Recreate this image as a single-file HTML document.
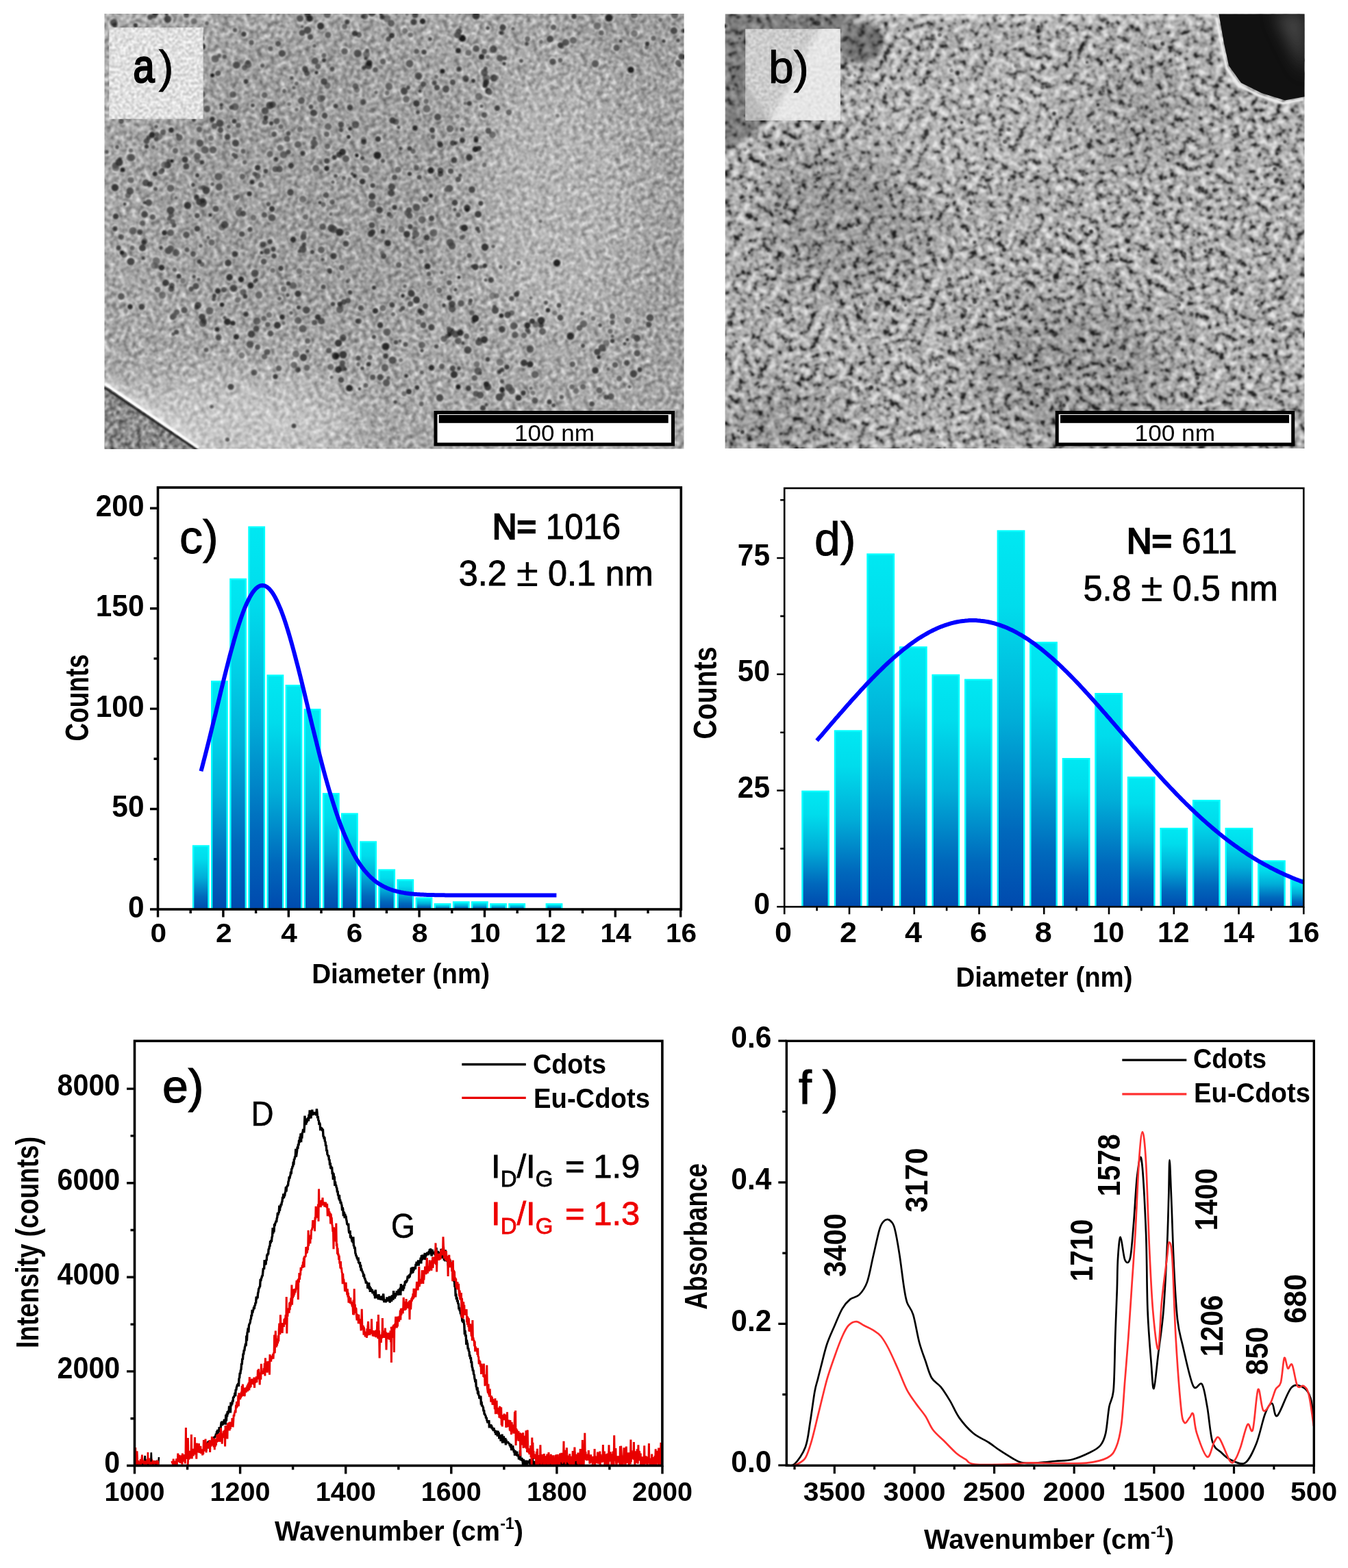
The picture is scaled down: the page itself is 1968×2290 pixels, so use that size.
<!DOCTYPE html><html><head><meta charset="utf-8"><title>Figure</title><style>html,body{margin:0;padding:0;background:#fff;width:1968px;height:2290px;overflow:hidden}svg{display:block}</style></head><body><svg width="1968" height="2290" viewBox="0 0 1968 2290"><rect width="1968" height="2290" fill="#fff"/><defs>
<linearGradient id="bg" x1="0" y1="0" x2="0" y2="1"><stop offset="0" stop-color="#00e8f2"/><stop offset="0.2" stop-color="#00dcec"/><stop offset="0.5" stop-color="#00aed8"/><stop offset="0.8" stop-color="#0068bc"/><stop offset="1" stop-color="#004aae"/></linearGradient>
<filter id="na" x="0" y="0" width="1" height="1" color-interpolation-filters="sRGB"><feTurbulence type="fractalNoise" baseFrequency="0.15" numOctaves="3" seed="4"/><feColorMatrix type="matrix" values="0.75 0 0 0 0.280  0.75 0 0 0 0.280  0.75 0 0 0 0.280  0 0 0 0 1"/><feGaussianBlur stdDeviation="1.0"/></filter>
<filter id="na2" x="0" y="0" width="1" height="1" color-interpolation-filters="sRGB"><feTurbulence type="fractalNoise" baseFrequency="0.15" numOctaves="3" seed="9"/><feColorMatrix type="matrix" values="0.9 0 0 0 0.090  0.9 0 0 0 0.090  0.9 0 0 0 0.090  0 0 0 0 1"/><feGaussianBlur stdDeviation="1.0"/></filter>
<filter id="nb" x="0" y="0" width="1" height="1" color-interpolation-filters="sRGB"><feTurbulence type="fractalNoise" baseFrequency="0.105" numOctaves="2" seed="11"/><feColorMatrix type="matrix" values="1.85 0 0 0 -0.425  1.85 0 0 0 -0.425  1.85 0 0 0 -0.425  0 0 0 0 1"/><feComponentTransfer><feFuncR type="table" tableValues="0.12 0.38 0.58 0.68 0.75 0.82 0.9"/><feFuncG type="table" tableValues="0.12 0.38 0.58 0.68 0.75 0.82 0.9"/><feFuncB type="table" tableValues="0.12 0.38 0.58 0.68 0.75 0.82 0.9"/></feComponentTransfer><feGaussianBlur stdDeviation="0.8"/></filter>
<filter id="nbl" x="0" y="0" width="1" height="1" color-interpolation-filters="sRGB"><feTurbulence type="fractalNoise" baseFrequency="0.25" numOctaves="2" seed="5"/><feColorMatrix type="matrix" values="0.6 0 0 0 0.580  0.6 0 0 0 0.580  0.6 0 0 0 0.580  0 0 0 0 1"/><feGaussianBlur stdDeviation="0.8"/></filter>
<filter id="blur1" x="-20%" y="-20%" width="140%" height="140%"><feGaussianBlur stdDeviation="1.1"/></filter>
<filter id="blur30" x="-50%" y="-50%" width="200%" height="200%"><feGaussianBlur stdDeviation="30"/></filter>
<filter id="blur12" x="-50%" y="-50%" width="200%" height="200%"><feGaussianBlur stdDeviation="12"/></filter>
<filter id="blur3" x="-50%" y="-50%" width="200%" height="200%"><feGaussianBlur stdDeviation="3"/></filter>
<clipPath id="cpa"><rect x="152.5" y="20" width="846" height="635.5"/></clipPath>
<clipPath id="cpb"><rect x="1058.7" y="20.5" width="845.8" height="634.5"/></clipPath>
<clipPath id="cpc"><rect x="230" y="700" width="764" height="628"/></clipPath>
<clipPath id="cpd"><rect x="1145" y="700" width="758.3" height="625"/></clipPath>
<clipPath id="cpe"><rect x="196" y="1519" width="771" height="621.5"/></clipPath>
<clipPath id="cpf"><rect x="1148" y="1519" width="770.5" height="621.5"/></clipPath>
</defs>
<g clip-path="url(#cpa)">
<rect x="-75" y="-312" width="1300" height="1300" filter="url(#na)" transform="rotate(-23 575 338)"/>
<g filter="url(#blur30)">
<ellipse cx="805" cy="300" rx="110" ry="190" fill="#fff" opacity="0.14"/>
<ellipse cx="985" cy="350" rx="40" ry="250" fill="#000" opacity="0.05"/>
<ellipse cx="330" cy="620" rx="190" ry="70" fill="#fff" opacity="0.35"/>
<ellipse cx="470" cy="260" rx="260" ry="220" fill="#000" opacity="0.05"/>
<ellipse cx="950" cy="40" rx="120" ry="60" fill="#000" opacity="0.06"/>
</g>
<g filter="url(#blur1)" fill="#fff" opacity="0.22"><circle cx="274" cy="300" r="7.8"/><circle cx="730" cy="529" r="7.8"/><circle cx="695" cy="71" r="7.4"/><circle cx="480" cy="512" r="6.7"/><circle cx="743" cy="566" r="8.1"/><circle cx="926" cy="22" r="7.4"/><circle cx="719" cy="197" r="7.4"/><circle cx="332" cy="200" r="7.1"/><circle cx="473" cy="81" r="5.9"/><circle cx="425" cy="457" r="5.2"/><circle cx="521" cy="131" r="6.9"/><circle cx="429" cy="622" r="6.1"/><circle cx="524" cy="51" r="6.7"/><circle cx="457" cy="215" r="5.6"/><circle cx="171" cy="215" r="5.4"/><circle cx="320" cy="81" r="5.3"/><circle cx="242" cy="72" r="4.9"/><circle cx="254" cy="329" r="5.8"/><circle cx="297" cy="274" r="5.9"/><circle cx="597" cy="572" r="6.5"/><circle cx="296" cy="298" r="7.6"/><circle cx="383" cy="96" r="5.5"/><circle cx="194" cy="50" r="5.9"/><circle cx="412" cy="78" r="7.6"/><circle cx="242" cy="413" r="7.6"/><circle cx="168" cy="334" r="6.2"/><circle cx="270" cy="233" r="7.1"/><circle cx="459" cy="202" r="5.3"/><circle cx="837" cy="59" r="7.4"/><circle cx="519" cy="126" r="6.9"/><circle cx="672" cy="256" r="5.0"/><circle cx="323" cy="158" r="5.2"/><circle cx="703" cy="155" r="5.1"/><circle cx="273" cy="365" r="5.9"/><circle cx="722" cy="448" r="5.3"/><circle cx="585" cy="526" r="5.4"/><circle cx="374" cy="480" r="7.0"/><circle cx="388" cy="250" r="5.9"/><circle cx="556" cy="21" r="4.9"/><circle cx="421" cy="195" r="6.0"/><circle cx="511" cy="188" r="5.3"/><circle cx="733" cy="481" r="7.4"/><circle cx="297" cy="296" r="7.6"/><circle cx="355" cy="221" r="5.9"/><circle cx="564" cy="559" r="7.7"/><circle cx="769" cy="64" r="5.5"/><circle cx="611" cy="111" r="7.8"/><circle cx="320" cy="273" r="7.9"/><circle cx="310" cy="269" r="5.2"/><circle cx="573" cy="446" r="5.6"/><circle cx="507" cy="411" r="5.0"/><circle cx="588" cy="432" r="5.4"/><circle cx="670" cy="46" r="6.9"/><circle cx="800" cy="453" r="5.8"/><circle cx="790" cy="61" r="5.4"/><circle cx="725" cy="432" r="6.2"/><circle cx="319" cy="493" r="6.9"/><circle cx="707" cy="496" r="7.7"/><circle cx="443" cy="346" r="7.0"/><circle cx="252" cy="324" r="6.5"/><circle cx="511" cy="427" r="5.7"/><circle cx="343" cy="371" r="7.0"/><circle cx="334" cy="185" r="5.2"/><circle cx="705" cy="596" r="6.5"/><circle cx="720" cy="360" r="5.3"/><circle cx="781" cy="585" r="7.0"/><circle cx="703" cy="83" r="6.6"/><circle cx="916" cy="496" r="5.0"/><circle cx="367" cy="488" r="7.9"/><circle cx="505" cy="356" r="7.0"/><circle cx="353" cy="519" r="7.0"/><circle cx="481" cy="395" r="6.1"/><circle cx="381" cy="270" r="6.4"/><circle cx="420" cy="431" r="5.2"/><circle cx="435" cy="540" r="6.9"/><circle cx="485" cy="101" r="5.9"/><circle cx="492" cy="520" r="5.9"/><circle cx="797" cy="442" r="5.4"/><circle cx="530" cy="24" r="5.7"/><circle cx="357" cy="99" r="6.4"/><circle cx="272" cy="243" r="7.0"/><circle cx="448" cy="537" r="7.0"/><circle cx="228" cy="185" r="5.3"/><circle cx="543" cy="287" r="7.6"/><circle cx="374" cy="409" r="5.0"/><circle cx="398" cy="395" r="6.1"/><circle cx="208" cy="107" r="5.8"/><circle cx="524" cy="469" r="6.7"/><circle cx="460" cy="210" r="6.8"/><circle cx="622" cy="148" r="6.2"/><circle cx="621" cy="291" r="7.0"/><circle cx="611" cy="470" r="6.5"/><circle cx="436" cy="449" r="5.6"/><circle cx="198" cy="81" r="6.1"/><circle cx="433" cy="160" r="5.1"/><circle cx="784" cy="459" r="5.2"/><circle cx="656" cy="489" r="5.6"/><circle cx="288" cy="228" r="7.5"/><circle cx="604" cy="32" r="7.0"/><circle cx="925" cy="546" r="7.9"/><circle cx="882" cy="511" r="5.1"/><circle cx="689" cy="277" r="7.3"/><circle cx="224" cy="215" r="5.4"/><circle cx="504" cy="539" r="5.2"/><circle cx="664" cy="306" r="5.0"/><circle cx="656" cy="275" r="7.8"/><circle cx="660" cy="444" r="7.4"/><circle cx="582" cy="186" r="4.9"/><circle cx="637" cy="506" r="5.6"/><circle cx="565" cy="27" r="8.0"/><circle cx="555" cy="551" r="7.2"/><circle cx="571" cy="282" r="7.6"/><circle cx="618" cy="475" r="7.1"/><circle cx="558" cy="25" r="6.0"/><circle cx="665" cy="423" r="5.1"/><circle cx="175" cy="232" r="5.3"/><circle cx="344" cy="289" r="6.4"/><circle cx="210" cy="146" r="5.5"/><circle cx="693" cy="552" r="6.8"/><circle cx="608" cy="303" r="8.1"/><circle cx="816" cy="446" r="5.9"/><circle cx="505" cy="232" r="7.5"/><circle cx="362" cy="91" r="5.9"/><circle cx="435" cy="468" r="7.6"/><circle cx="604" cy="347" r="5.1"/><circle cx="917" cy="468" r="7.6"/><circle cx="194" cy="337" r="8.1"/><circle cx="226" cy="82" r="7.6"/><circle cx="204" cy="339" r="6.5"/><circle cx="344" cy="229" r="5.7"/><circle cx="658" cy="484" r="8.1"/><circle cx="732" cy="461" r="5.8"/><circle cx="302" cy="34" r="5.4"/><circle cx="661" cy="120" r="6.7"/><circle cx="764" cy="574" r="6.2"/><circle cx="387" cy="162" r="7.9"/><circle cx="560" cy="374" r="6.7"/><circle cx="713" cy="191" r="7.1"/><circle cx="530" cy="149" r="6.9"/><circle cx="168" cy="37" r="6.0"/><circle cx="664" cy="296" r="6.9"/><circle cx="498" cy="555" r="6.8"/><circle cx="598" cy="93" r="8.0"/><circle cx="429" cy="533" r="7.3"/><circle cx="246" cy="235" r="5.4"/><circle cx="288" cy="315" r="6.3"/><circle cx="599" cy="331" r="6.2"/><circle cx="851" cy="505" r="5.6"/><circle cx="534" cy="85" r="5.2"/><circle cx="695" cy="205" r="5.8"/><circle cx="299" cy="219" r="8.0"/><circle cx="730" cy="85" r="7.3"/><circle cx="872" cy="514" r="7.3"/><circle cx="820" cy="68" r="6.0"/><circle cx="438" cy="27" r="7.5"/><circle cx="558" cy="370" r="5.9"/><circle cx="428" cy="417" r="7.6"/><circle cx="507" cy="341" r="5.7"/><circle cx="656" cy="413" r="6.2"/><circle cx="249" cy="307" r="8.1"/><circle cx="702" cy="297" r="5.9"/><circle cx="757" cy="384" r="5.5"/><circle cx="889" cy="26" r="8.1"/><circle cx="872" cy="38" r="7.9"/><circle cx="607" cy="342" r="7.8"/><circle cx="594" cy="21" r="5.2"/><circle cx="467" cy="296" r="4.9"/><circle cx="658" cy="250" r="6.6"/><circle cx="717" cy="409" r="6.6"/><circle cx="720" cy="72" r="8.0"/><circle cx="217" cy="296" r="7.5"/><circle cx="675" cy="205" r="6.5"/><circle cx="484" cy="333" r="8.0"/><circle cx="690" cy="389" r="5.2"/><circle cx="228" cy="203" r="5.8"/><circle cx="298" cy="469" r="6.5"/><circle cx="651" cy="130" r="7.7"/><circle cx="371" cy="544" r="7.1"/><circle cx="496" cy="339" r="8.1"/><circle cx="375" cy="469" r="7.8"/><circle cx="321" cy="180" r="8.0"/><circle cx="573" cy="176" r="7.2"/><circle cx="499" cy="537" r="8.0"/><circle cx="598" cy="254" r="5.6"/><circle cx="338" cy="157" r="5.8"/><circle cx="608" cy="438" r="7.7"/><circle cx="551" cy="227" r="8.0"/><circle cx="894" cy="498" r="5.7"/><circle cx="310" cy="174" r="6.3"/><circle cx="237" cy="249" r="5.7"/><circle cx="286" cy="418" r="7.2"/><circle cx="287" cy="287" r="5.6"/><circle cx="358" cy="433" r="5.8"/><circle cx="267" cy="103" r="6.9"/><circle cx="238" cy="193" r="6.7"/><circle cx="518" cy="257" r="5.4"/><circle cx="616" cy="544" r="5.5"/><circle cx="629" cy="286" r="5.5"/><circle cx="572" cy="273" r="7.9"/><circle cx="699" cy="495" r="5.3"/><circle cx="328" cy="464" r="5.2"/><circle cx="546" cy="492" r="5.6"/><circle cx="309" cy="177" r="5.3"/><circle cx="208" cy="86" r="6.8"/><circle cx="747" cy="457" r="6.5"/><circle cx="168" cy="242" r="7.2"/><circle cx="598" cy="217" r="5.8"/><circle cx="238" cy="113" r="6.6"/><circle cx="487" cy="374" r="7.3"/><circle cx="324" cy="332" r="7.6"/><circle cx="237" cy="431" r="7.7"/><circle cx="304" cy="347" r="4.9"/><circle cx="370" cy="318" r="6.7"/><circle cx="386" cy="139" r="6.8"/><circle cx="775" cy="567" r="5.1"/><circle cx="441" cy="48" r="7.0"/><circle cx="519" cy="182" r="8.0"/><circle cx="169" cy="245" r="7.8"/><circle cx="208" cy="326" r="6.5"/><circle cx="703" cy="481" r="5.5"/><circle cx="930" cy="494" r="7.5"/><circle cx="279" cy="63" r="7.7"/><circle cx="311" cy="219" r="7.7"/><circle cx="699" cy="500" r="7.5"/><circle cx="710" cy="120" r="7.2"/><circle cx="402" cy="550" r="6.2"/><circle cx="494" cy="540" r="7.4"/><circle cx="818" cy="66" r="6.7"/><circle cx="315" cy="305" r="7.1"/><circle cx="414" cy="472" r="5.1"/><circle cx="698" cy="217" r="6.6"/><circle cx="578" cy="178" r="7.0"/><circle cx="479" cy="185" r="7.4"/><circle cx="926" cy="49" r="7.4"/><circle cx="934" cy="540" r="5.9"/><circle cx="198" cy="37" r="5.7"/><circle cx="378" cy="431" r="7.7"/><circle cx="288" cy="234" r="6.7"/><circle cx="590" cy="575" r="6.2"/><circle cx="609" cy="566" r="5.8"/><circle cx="712" cy="83" r="5.6"/><circle cx="486" cy="266" r="5.0"/><circle cx="376" cy="257" r="6.9"/><circle cx="608" cy="245" r="6.4"/><circle cx="432" cy="517" r="7.6"/><circle cx="921" cy="102" r="7.3"/><circle cx="243" cy="21" r="5.0"/><circle cx="319" cy="258" r="8.1"/><circle cx="615" cy="127" r="6.3"/><circle cx="747" cy="436" r="6.3"/><circle cx="408" cy="436" r="5.3"/><circle cx="677" cy="345" r="5.5"/><circle cx="410" cy="185" r="6.1"/><circle cx="295" cy="138" r="7.5"/><circle cx="246" cy="366" r="7.8"/><circle cx="187" cy="285" r="6.9"/><circle cx="345" cy="492" r="6.6"/><circle cx="713" cy="133" r="7.2"/><circle cx="660" cy="359" r="7.8"/><circle cx="425" cy="242" r="6.9"/><circle cx="414" cy="422" r="6.5"/><circle cx="456" cy="368" r="5.6"/><circle cx="282" cy="371" r="6.7"/><circle cx="486" cy="444" r="5.6"/><circle cx="669" cy="74" r="6.6"/><circle cx="464" cy="463" r="6.5"/><circle cx="246" cy="79" r="5.1"/><circle cx="351" cy="305" r="5.3"/><circle cx="502" cy="441" r="6.8"/><circle cx="534" cy="247" r="8.0"/><circle cx="354" cy="258" r="6.5"/><circle cx="538" cy="532" r="5.8"/><circle cx="290" cy="408" r="5.1"/><circle cx="477" cy="235" r="6.6"/><circle cx="355" cy="312" r="6.7"/><circle cx="715" cy="135" r="6.3"/><circle cx="998" cy="45" r="5.7"/><circle cx="376" cy="245" r="6.5"/><circle cx="696" cy="532" r="7.0"/><circle cx="449" cy="513" r="5.2"/><circle cx="567" cy="57" r="6.2"/><circle cx="219" cy="269" r="6.4"/><circle cx="184" cy="170" r="7.3"/><circle cx="182" cy="298" r="5.0"/><circle cx="852" cy="473" r="7.8"/><circle cx="405" cy="475" r="7.6"/><circle cx="698" cy="542" r="8.0"/><circle cx="458" cy="208" r="7.2"/><circle cx="324" cy="445" r="5.8"/><circle cx="702" cy="390" r="5.2"/><circle cx="242" cy="100" r="5.0"/><circle cx="592" cy="503" r="6.0"/><circle cx="684" cy="77" r="7.1"/><circle cx="347" cy="287" r="5.7"/><circle cx="661" cy="538" r="6.7"/><circle cx="876" cy="475" r="5.3"/><circle cx="461" cy="246" r="7.5"/><circle cx="875" cy="521" r="5.1"/><circle cx="581" cy="248" r="7.1"/><circle cx="810" cy="457" r="6.0"/><circle cx="469" cy="365" r="7.4"/><circle cx="500" cy="222" r="7.5"/><circle cx="559" cy="450" r="7.1"/><circle cx="387" cy="178" r="6.8"/><circle cx="648" cy="495" r="7.0"/><circle cx="572" cy="52" r="6.6"/><circle cx="192" cy="230" r="7.7"/><circle cx="207" cy="448" r="7.0"/><circle cx="391" cy="474" r="6.3"/><circle cx="826" cy="62" r="7.6"/><circle cx="177" cy="346" r="6.6"/><circle cx="372" cy="254" r="5.8"/><circle cx="211" cy="313" r="7.5"/><circle cx="638" cy="128" r="6.5"/><circle cx="898" cy="533" r="6.7"/><circle cx="247" cy="58" r="5.3"/><circle cx="473" cy="88" r="5.6"/><circle cx="585" cy="453" r="5.2"/><circle cx="765" cy="530" r="7.6"/><circle cx="386" cy="521" r="6.5"/><circle cx="627" cy="414" r="6.2"/><circle cx="250" cy="190" r="6.4"/><circle cx="869" cy="541" r="7.3"/><circle cx="459" cy="471" r="6.6"/><circle cx="919" cy="565" r="5.0"/><circle cx="501" cy="493" r="7.4"/><circle cx="288" cy="334" r="6.8"/><circle cx="291" cy="189" r="6.7"/><circle cx="468" cy="38" r="7.7"/><circle cx="252" cy="463" r="6.7"/><circle cx="543" cy="329" r="7.0"/><circle cx="631" cy="190" r="6.4"/><circle cx="643" cy="254" r="6.6"/><circle cx="310" cy="110" r="5.6"/><circle cx="232" cy="143" r="6.4"/><circle cx="317" cy="481" r="6.1"/><circle cx="191" cy="382" r="8.1"/><circle cx="345" cy="95" r="7.8"/><circle cx="699" cy="338" r="5.3"/><circle cx="382" cy="369" r="5.0"/><circle cx="562" cy="537" r="7.9"/><circle cx="568" cy="313" r="5.9"/><circle cx="599" cy="444" r="6.5"/><circle cx="645" cy="535" r="6.4"/><circle cx="697" cy="334" r="5.8"/><circle cx="670" cy="405" r="5.0"/><circle cx="318" cy="425" r="6.8"/><circle cx="496" cy="452" r="7.9"/><circle cx="446" cy="102" r="6.9"/><circle cx="626" cy="400" r="5.7"/><circle cx="616" cy="457" r="6.5"/><circle cx="484" cy="551" r="5.0"/><circle cx="531" cy="204" r="6.9"/><circle cx="563" cy="520" r="6.4"/><circle cx="478" cy="125" r="7.3"/><circle cx="930" cy="516" r="7.2"/><circle cx="421" cy="222" r="6.0"/><circle cx="710" cy="561" r="6.5"/><circle cx="245" cy="241" r="7.4"/><circle cx="879" cy="508" r="7.9"/><circle cx="741" cy="460" r="7.3"/><circle cx="176" cy="103" r="7.6"/><circle cx="291" cy="295" r="7.4"/><circle cx="293" cy="359" r="5.2"/><circle cx="458" cy="165" r="7.6"/><circle cx="612" cy="259" r="5.8"/><circle cx="453" cy="54" r="6.6"/><circle cx="674" cy="332" r="6.1"/><circle cx="393" cy="460" r="6.7"/><circle cx="181" cy="144" r="6.1"/><circle cx="642" cy="210" r="6.6"/><circle cx="947" cy="474" r="6.5"/><circle cx="669" cy="498" r="7.4"/><circle cx="442" cy="224" r="6.2"/><circle cx="474" cy="169" r="6.9"/><circle cx="770" cy="482" r="6.1"/><circle cx="665" cy="209" r="5.3"/><circle cx="272" cy="22" r="6.4"/><circle cx="217" cy="201" r="6.0"/><circle cx="295" cy="463" r="7.4"/><circle cx="565" cy="136" r="5.9"/><circle cx="355" cy="427" r="7.3"/><circle cx="586" cy="335" r="7.2"/><circle cx="446" cy="317" r="6.4"/><circle cx="437" cy="396" r="6.7"/><circle cx="449" cy="498" r="6.4"/><circle cx="344" cy="209" r="7.8"/><circle cx="521" cy="227" r="5.2"/><circle cx="669" cy="314" r="6.1"/><circle cx="624" cy="389" r="7.1"/><circle cx="394" cy="353" r="6.2"/><circle cx="600" cy="428" r="7.5"/><circle cx="444" cy="357" r="5.8"/><circle cx="874" cy="522" r="5.3"/><circle cx="241" cy="413" r="5.3"/><circle cx="663" cy="234" r="7.0"/><circle cx="723" cy="453" r="7.7"/><circle cx="229" cy="389" r="5.9"/><circle cx="646" cy="104" r="6.0"/><circle cx="616" cy="504" r="7.5"/><circle cx="669" cy="262" r="6.5"/><circle cx="291" cy="382" r="6.0"/><circle cx="708" cy="388" r="5.7"/><circle cx="415" cy="133" r="5.4"/><circle cx="665" cy="488" r="7.8"/><circle cx="683" cy="511" r="8.0"/><circle cx="428" cy="350" r="6.9"/><circle cx="568" cy="126" r="7.7"/><circle cx="176" cy="105" r="6.7"/><circle cx="490" cy="520" r="7.9"/><circle cx="682" cy="307" r="5.4"/><circle cx="630" cy="478" r="7.2"/><circle cx="731" cy="48" r="5.3"/><circle cx="460" cy="89" r="7.6"/><circle cx="601" cy="429" r="7.3"/><circle cx="694" cy="218" r="6.8"/><circle cx="525" cy="568" r="4.9"/><circle cx="449" cy="44" r="7.9"/><circle cx="574" cy="459" r="5.5"/><circle cx="400" cy="374" r="6.3"/><circle cx="559" cy="90" r="6.7"/><circle cx="634" cy="121" r="6.1"/><circle cx="429" cy="128" r="5.1"/><circle cx="422" cy="152" r="5.2"/><circle cx="518" cy="49" r="6.6"/><circle cx="166" cy="58" r="6.0"/><circle cx="573" cy="526" r="8.1"/><circle cx="944" cy="69" r="5.6"/><circle cx="235" cy="251" r="6.3"/><circle cx="283" cy="404" r="5.2"/><circle cx="616" cy="321" r="7.9"/><circle cx="209" cy="377" r="5.2"/><circle cx="695" cy="575" r="7.1"/><circle cx="695" cy="202" r="5.9"/><circle cx="660" cy="451" r="7.9"/><circle cx="367" cy="62" r="6.3"/><circle cx="559" cy="235" r="5.6"/><circle cx="495" cy="226" r="6.8"/><circle cx="712" cy="525" r="5.9"/><circle cx="628" cy="57" r="5.3"/><circle cx="541" cy="342" r="7.0"/><circle cx="473" cy="119" r="7.4"/><circle cx="261" cy="404" r="6.1"/><circle cx="390" cy="514" r="7.1"/><circle cx="608" cy="151" r="7.3"/><circle cx="250" cy="314" r="6.4"/><circle cx="287" cy="289" r="6.5"/><circle cx="214" cy="206" r="6.9"/><circle cx="599" cy="51" r="6.1"/><circle cx="253" cy="488" r="5.3"/><circle cx="684" cy="567" r="6.6"/><circle cx="514" cy="254" r="4.9"/><circle cx="808" cy="592" r="5.5"/><circle cx="190" cy="279" r="7.8"/><circle cx="734" cy="576" r="5.7"/><circle cx="256" cy="220" r="6.7"/><circle cx="342" cy="177" r="6.0"/><circle cx="869" cy="93" r="7.7"/><circle cx="964" cy="29" r="5.4"/><circle cx="409" cy="216" r="7.1"/><circle cx="309" cy="594" r="5.3"/><circle cx="424" cy="281" r="7.3"/><circle cx="582" cy="387" r="6.7"/><circle cx="228" cy="381" r="8.0"/><circle cx="590" cy="133" r="7.7"/><circle cx="685" cy="230" r="7.4"/><circle cx="912" cy="502" r="5.0"/><circle cx="414" cy="226" r="7.9"/><circle cx="749" cy="42" r="5.1"/><circle cx="312" cy="437" r="5.4"/><circle cx="851" cy="565" r="6.6"/><circle cx="565" cy="485" r="8.1"/><circle cx="307" cy="314" r="5.2"/><circle cx="710" cy="114" r="8.0"/><circle cx="729" cy="580" r="8.0"/><circle cx="990" cy="59" r="5.3"/><circle cx="490" cy="257" r="5.3"/><circle cx="571" cy="34" r="7.6"/><circle cx="249" cy="275" r="7.7"/><circle cx="709" cy="100" r="5.3"/><circle cx="255" cy="394" r="5.6"/><circle cx="656" cy="435" r="6.3"/><circle cx="289" cy="446" r="7.4"/><circle cx="536" cy="74" r="5.5"/><circle cx="523" cy="523" r="6.2"/><circle cx="554" cy="307" r="7.4"/><circle cx="328" cy="328" r="8.0"/><circle cx="630" cy="319" r="6.8"/><circle cx="691" cy="641" r="6.7"/><circle cx="261" cy="403" r="5.7"/><circle cx="969" cy="60" r="5.1"/><circle cx="435" cy="429" r="7.2"/><circle cx="707" cy="106" r="7.7"/><circle cx="606" cy="335" r="6.4"/><circle cx="177" cy="433" r="7.4"/><circle cx="223" cy="317" r="6.5"/><circle cx="292" cy="274" r="5.6"/><circle cx="282" cy="270" r="5.4"/><circle cx="341" cy="421" r="7.8"/><circle cx="173" cy="115" r="7.8"/><circle cx="323" cy="153" r="5.0"/><circle cx="327" cy="423" r="6.5"/><circle cx="236" cy="391" r="6.9"/><circle cx="774" cy="532" r="7.1"/><circle cx="992" cy="95" r="5.4"/><circle cx="364" cy="283" r="6.1"/><circle cx="878" cy="48" r="6.3"/><circle cx="247" cy="319" r="5.8"/><circle cx="340" cy="472" r="6.1"/><circle cx="818" cy="464" r="6.9"/><circle cx="672" cy="40" r="5.0"/><circle cx="440" cy="147" r="7.5"/><circle cx="619" cy="76" r="6.3"/><circle cx="332" cy="470" r="5.8"/><circle cx="302" cy="159" r="7.5"/><circle cx="296" cy="293" r="6.3"/><circle cx="412" cy="463" r="6.2"/><circle cx="733" cy="540" r="5.6"/><circle cx="226" cy="86" r="5.8"/><circle cx="219" cy="25" r="6.4"/><circle cx="332" cy="642" r="5.6"/><circle cx="287" cy="449" r="6.0"/><circle cx="535" cy="79" r="7.8"/><circle cx="352" cy="408" r="6.7"/><circle cx="653" cy="491" r="5.9"/><circle cx="838" cy="24" r="6.3"/><circle cx="208" cy="362" r="7.6"/><circle cx="341" cy="226" r="5.4"/><circle cx="500" cy="530" r="6.5"/><circle cx="591" cy="418" r="5.2"/><circle cx="211" cy="296" r="5.0"/><circle cx="251" cy="235" r="5.1"/><circle cx="408" cy="247" r="7.3"/><circle cx="700" cy="216" r="5.6"/><circle cx="591" cy="45" r="6.8"/><circle cx="178" cy="138" r="6.2"/><circle cx="572" cy="445" r="6.4"/><circle cx="214" cy="128" r="6.7"/><circle cx="661" cy="209" r="6.6"/><circle cx="894" cy="491" r="5.0"/><circle cx="608" cy="75" r="6.2"/><circle cx="835" cy="565" r="6.3"/><circle cx="471" cy="331" r="7.3"/><circle cx="900" cy="70" r="7.2"/><circle cx="193" cy="160" r="6.0"/><circle cx="366" cy="417" r="7.2"/><circle cx="707" cy="389" r="5.2"/><circle cx="362" cy="94" r="7.9"/><circle cx="679" cy="151" r="5.0"/><circle cx="774" cy="510" r="8.0"/><circle cx="623" cy="347" r="7.0"/><circle cx="222" cy="197" r="7.0"/><circle cx="642" cy="581" r="7.8"/><circle cx="781" cy="547" r="7.9"/><circle cx="721" cy="114" r="7.8"/><circle cx="365" cy="503" r="8.0"/><circle cx="301" cy="511" r="5.9"/><circle cx="615" cy="590" r="5.9"/><circle cx="695" cy="23" r="8.1"/><circle cx="675" cy="56" r="7.6"/><circle cx="694" cy="390" r="7.2"/><circle cx="509" cy="200" r="5.5"/><circle cx="594" cy="342" r="7.3"/><circle cx="353" cy="342" r="6.6"/><circle cx="698" cy="313" r="7.5"/><circle cx="543" cy="19" r="7.9"/><circle cx="645" cy="398" r="5.1"/><circle cx="623" cy="159" r="8.0"/><circle cx="503" cy="39" r="6.5"/><circle cx="442" cy="291" r="7.6"/><circle cx="736" cy="93" r="5.0"/><circle cx="369" cy="154" r="5.3"/><circle cx="685" cy="151" r="6.1"/><circle cx="322" cy="190" r="6.7"/><circle cx="617" cy="31" r="6.8"/><circle cx="168" cy="274" r="7.9"/><circle cx="487" cy="335" r="8.1"/><circle cx="841" cy="571" r="6.8"/><circle cx="540" cy="522" r="6.0"/><circle cx="678" cy="333" r="7.5"/><circle cx="388" cy="172" r="5.9"/><circle cx="990" cy="92" r="6.9"/><circle cx="177" cy="177" r="6.7"/><circle cx="403" cy="233" r="6.2"/><circle cx="548" cy="102" r="6.3"/><circle cx="915" cy="530" r="6.9"/><circle cx="478" cy="21" r="7.8"/><circle cx="652" cy="277" r="6.1"/><circle cx="313" cy="432" r="5.4"/><circle cx="214" cy="214" r="5.8"/><circle cx="438" cy="189" r="6.4"/><circle cx="549" cy="135" r="5.0"/><circle cx="740" cy="536" r="6.2"/><circle cx="694" cy="465" r="7.9"/><circle cx="399" cy="364" r="5.9"/><circle cx="494" cy="501" r="7.7"/><circle cx="885" cy="501" r="7.3"/><circle cx="709" cy="409" r="5.1"/><circle cx="394" cy="154" r="8.0"/><circle cx="259" cy="197" r="5.0"/><circle cx="191" cy="263" r="7.1"/><circle cx="576" cy="259" r="6.5"/><circle cx="343" cy="156" r="8.0"/><circle cx="630" cy="537" r="6.8"/><circle cx="995" cy="83" r="7.1"/><circle cx="733" cy="557" r="5.6"/><circle cx="657" cy="354" r="8.0"/><circle cx="888" cy="539" r="5.2"/><circle cx="701" cy="577" r="7.7"/><circle cx="913" cy="630" r="8.0"/><circle cx="498" cy="190" r="5.4"/><circle cx="472" cy="299" r="6.1"/><circle cx="501" cy="518" r="8.1"/><circle cx="213" cy="267" r="7.8"/><circle cx="707" cy="75" r="6.4"/><circle cx="555" cy="475" r="6.9"/><circle cx="522" cy="469" r="6.0"/><circle cx="998" cy="83" r="5.8"/><circle cx="701" cy="545" r="5.0"/><circle cx="227" cy="276" r="5.5"/><circle cx="753" cy="476" r="5.6"/><circle cx="156" cy="222" r="5.5"/><circle cx="507" cy="32" r="6.0"/><circle cx="593" cy="549" r="5.5"/><circle cx="376" cy="507" r="6.4"/><circle cx="629" cy="249" r="7.2"/><circle cx="747" cy="571" r="7.6"/><circle cx="190" cy="448" r="6.2"/><circle cx="567" cy="552" r="5.3"/><circle cx="257" cy="369" r="7.7"/><circle cx="318" cy="107" r="6.5"/><circle cx="542" cy="341" r="7.3"/><circle cx="710" cy="591" r="5.2"/><circle cx="490" cy="155" r="5.8"/><circle cx="756" cy="427" r="5.7"/><circle cx="894" cy="462" r="6.6"/><circle cx="306" cy="454" r="8.1"/><circle cx="782" cy="474" r="7.0"/><circle cx="384" cy="357" r="7.1"/><circle cx="181" cy="372" r="6.9"/><circle cx="606" cy="187" r="6.4"/><circle cx="232" cy="200" r="7.6"/><circle cx="663" cy="547" r="7.8"/><circle cx="670" cy="101" r="6.2"/><circle cx="595" cy="311" r="7.3"/><circle cx="689" cy="457" r="6.2"/><circle cx="778" cy="574" r="5.8"/><circle cx="807" cy="90" r="7.2"/><circle cx="258" cy="456" r="6.8"/><circle cx="539" cy="92" r="7.1"/><circle cx="225" cy="388" r="7.3"/><circle cx="397" cy="318" r="7.7"/><circle cx="227" cy="20" r="6.7"/><circle cx="686" cy="443" r="5.7"/><circle cx="803" cy="57" r="7.5"/><circle cx="348" cy="183" r="6.3"/><circle cx="585" cy="217" r="5.2"/><circle cx="402" cy="247" r="7.0"/><circle cx="410" cy="392" r="6.2"/><circle cx="288" cy="256" r="5.4"/><circle cx="255" cy="79" r="5.4"/><circle cx="527" cy="450" r="6.5"/><circle cx="770" cy="57" r="6.4"/><circle cx="469" cy="469" r="7.6"/><circle cx="295" cy="386" r="6.1"/><circle cx="250" cy="422" r="6.9"/><circle cx="472" cy="419" r="6.0"/><circle cx="179" cy="248" r="6.0"/><circle cx="335" cy="405" r="7.4"/><circle cx="275" cy="47" r="6.3"/><circle cx="632" cy="200" r="5.7"/><circle cx="328" cy="83" r="5.8"/><circle cx="190" cy="230" r="8.0"/><circle cx="734" cy="40" r="7.2"/><circle cx="396" cy="180" r="5.6"/><circle cx="707" cy="241" r="5.7"/><circle cx="349" cy="311" r="7.4"/><circle cx="421" cy="414" r="5.7"/><circle cx="707" cy="168" r="6.8"/><circle cx="836" cy="532" r="6.6"/><circle cx="444" cy="341" r="6.3"/><circle cx="251" cy="417" r="6.6"/><circle cx="613" cy="133" r="5.1"/><circle cx="641" cy="424" r="6.4"/><circle cx="337" cy="565" r="7.1"/><circle cx="802" cy="587" r="6.0"/><circle cx="249" cy="363" r="7.3"/><circle cx="448" cy="453" r="7.3"/><circle cx="618" cy="123" r="6.5"/><circle cx="674" cy="347" r="6.0"/><circle cx="502" cy="260" r="5.3"/><circle cx="296" cy="472" r="8.0"/><circle cx="833" cy="491" r="7.9"/><circle cx="643" cy="249" r="7.1"/><circle cx="245" cy="28" r="7.9"/><circle cx="477" cy="246" r="6.2"/><circle cx="228" cy="71" r="5.7"/><circle cx="772" cy="485" r="5.4"/><circle cx="610" cy="164" r="5.5"/><circle cx="813" cy="384" r="7.8"/><circle cx="372" cy="411" r="5.2"/><circle cx="954" cy="56" r="6.1"/><circle cx="448" cy="107" r="6.7"/><circle cx="522" cy="78" r="8.1"/><circle cx="390" cy="367" r="7.3"/><circle cx="221" cy="97" r="8.0"/><circle cx="295" cy="237" r="5.7"/><circle cx="262" cy="201" r="7.3"/><circle cx="459" cy="67" r="5.1"/><circle cx="433" cy="122" r="5.4"/><circle cx="347" cy="438" r="6.8"/><circle cx="167" cy="114" r="5.6"/><circle cx="765" cy="490" r="6.8"/><circle cx="846" cy="479" r="6.9"/><circle cx="344" cy="228" r="5.9"/><circle cx="613" cy="454" r="6.3"/><circle cx="531" cy="99" r="5.5"/><circle cx="669" cy="565" r="6.2"/><circle cx="563" cy="506" r="8.1"/><circle cx="478" cy="214" r="6.5"/><circle cx="359" cy="459" r="6.3"/><circle cx="447" cy="453" r="7.9"/><circle cx="483" cy="313" r="4.9"/><circle cx="945" cy="64" r="5.7"/><circle cx="479" cy="51" r="7.0"/><circle cx="471" cy="379" r="5.3"/><circle cx="925" cy="491" r="6.2"/><circle cx="267" cy="410" r="6.4"/><circle cx="501" cy="495" r="5.9"/><circle cx="596" cy="128" r="5.4"/><circle cx="296" cy="68" r="7.0"/><circle cx="471" cy="143" r="6.6"/><circle cx="534" cy="563" r="6.0"/><circle cx="272" cy="343" r="7.5"/><circle cx="174" cy="237" r="8.0"/><circle cx="531" cy="207" r="6.5"/><circle cx="419" cy="203" r="7.1"/><circle cx="616" cy="512" r="5.0"/><circle cx="566" cy="355" r="7.3"/><circle cx="543" cy="298" r="8.1"/><circle cx="482" cy="397" r="5.2"/><circle cx="750" cy="476" r="7.9"/><circle cx="529" cy="231" r="5.3"/><circle cx="818" cy="88" r="5.7"/><circle cx="691" cy="118" r="5.5"/><circle cx="892" cy="579" r="7.3"/><circle cx="789" cy="323" r="5.1"/><circle cx="435" cy="211" r="7.5"/><circle cx="462" cy="106" r="5.1"/><circle cx="808" cy="40" r="6.5"/><circle cx="576" cy="303" r="6.2"/><circle cx="790" cy="475" r="6.3"/><circle cx="211" cy="352" r="6.9"/><circle cx="333" cy="384" r="7.4"/><circle cx="708" cy="361" r="7.9"/><circle cx="578" cy="500" r="5.8"/><circle cx="597" cy="307" r="6.7"/><circle cx="225" cy="23" r="6.4"/><circle cx="510" cy="567" r="7.5"/><circle cx="792" cy="484" r="7.6"/><circle cx="308" cy="202" r="6.4"/><circle cx="639" cy="171" r="7.6"/><circle cx="606" cy="22" r="7.1"/><circle cx="191" cy="220" r="5.5"/><circle cx="498" cy="182" r="7.0"/><circle cx="499" cy="391" r="6.5"/><circle cx="441" cy="39" r="4.9"/><circle cx="193" cy="362" r="6.0"/><circle cx="359" cy="119" r="5.9"/><circle cx="598" cy="315" r="7.1"/><circle cx="483" cy="536" r="7.1"/><circle cx="533" cy="24" r="6.9"/><circle cx="673" cy="443" r="7.3"/><circle cx="283" cy="48" r="6.9"/><circle cx="313" cy="184" r="6.7"/><circle cx="169" cy="104" r="7.8"/><circle cx="709" cy="121" r="6.4"/><circle cx="546" cy="420" r="5.6"/><circle cx="733" cy="569" r="6.4"/><circle cx="254" cy="461" r="6.9"/><circle cx="345" cy="96" r="6.9"/><circle cx="445" cy="100" r="6.5"/><circle cx="621" cy="447" r="6.7"/><circle cx="309" cy="354" r="7.1"/><circle cx="274" cy="98" r="6.0"/><circle cx="178" cy="369" r="5.8"/><circle cx="726" cy="158" r="6.4"/><circle cx="503" cy="75" r="7.3"/><circle cx="235" cy="362" r="5.4"/><circle cx="588" cy="450" r="5.8"/><circle cx="820" cy="580" r="5.6"/><circle cx="775" cy="435" r="5.0"/><circle cx="668" cy="51" r="7.6"/><circle cx="875" cy="570" r="7.0"/><circle cx="314" cy="86" r="8.0"/><circle cx="404" cy="177" r="7.1"/><circle cx="485" cy="295" r="6.2"/><circle cx="866" cy="465" r="5.7"/><circle cx="392" cy="298" r="5.6"/><circle cx="169" cy="604" r="6.2"/><circle cx="603" cy="221" r="6.3"/><circle cx="737" cy="85" r="5.7"/><circle cx="229" cy="196" r="5.8"/><circle cx="544" cy="339" r="6.7"/><circle cx="332" cy="470" r="7.6"/><circle cx="450" cy="397" r="5.5"/><circle cx="777" cy="469" r="6.5"/><circle cx="372" cy="399" r="8.0"/><circle cx="468" cy="144" r="7.9"/><circle cx="577" cy="587" r="5.1"/><circle cx="523" cy="532" r="5.4"/><circle cx="691" cy="470" r="5.3"/><circle cx="426" cy="114" r="5.2"/><circle cx="476" cy="285" r="6.8"/><circle cx="655" cy="480" r="5.8"/><circle cx="675" cy="189" r="5.8"/><circle cx="269" cy="453" r="7.0"/><circle cx="368" cy="266" r="6.0"/><circle cx="259" cy="94" r="5.2"/><circle cx="719" cy="432" r="7.6"/><circle cx="283" cy="31" r="7.1"/><circle cx="442" cy="480" r="8.1"/><circle cx="257" cy="485" r="6.0"/><circle cx="593" cy="145" r="7.3"/><circle cx="356" cy="50" r="6.2"/><circle cx="498" cy="448" r="5.0"/><circle cx="386" cy="314" r="6.6"/><circle cx="752" cy="489" r="7.3"/><circle cx="166" cy="33" r="7.9"/><circle cx="261" cy="166" r="6.4"/><circle cx="477" cy="196" r="6.5"/><circle cx="240" cy="340" r="6.3"/><circle cx="906" cy="60" r="5.0"/><circle cx="548" cy="454" r="6.6"/><circle cx="214" cy="110" r="7.5"/><circle cx="340" cy="138" r="7.3"/><circle cx="257" cy="289" r="5.0"/><circle cx="357" cy="237" r="5.6"/><circle cx="949" cy="464" r="7.8"/><circle cx="509" cy="409" r="5.3"/><circle cx="699" cy="141" r="7.8"/><circle cx="279" cy="422" r="6.2"/><circle cx="395" cy="71" r="5.9"/><circle cx="657" cy="188" r="7.7"/><circle cx="731" cy="390" r="5.2"/><circle cx="529" cy="265" r="6.8"/><circle cx="452" cy="27" r="7.4"/><circle cx="725" cy="113" r="6.0"/><circle cx="407" cy="538" r="6.7"/><circle cx="648" cy="446" r="5.4"/><circle cx="454" cy="156" r="6.0"/><circle cx="672" cy="486" r="7.2"/><circle cx="179" cy="52" r="5.8"/><circle cx="508" cy="439" r="6.6"/><circle cx="249" cy="340" r="7.5"/><circle cx="385" cy="465" r="6.3"/><circle cx="301" cy="278" r="8.0"/><circle cx="633" cy="340" r="8.0"/><circle cx="221" cy="111" r="7.8"/><circle cx="442" cy="364" r="8.1"/><circle cx="397" cy="305" r="6.7"/><circle cx="538" cy="96" r="7.9"/><circle cx="511" cy="157" r="6.9"/><circle cx="615" cy="367" r="6.0"/><circle cx="894" cy="471" r="5.9"/><circle cx="169" cy="316" r="6.8"/><circle cx="743" cy="164" r="6.7"/><circle cx="687" cy="439" r="5.6"/><circle cx="464" cy="97" r="6.6"/><circle cx="171" cy="166" r="6.0"/><circle cx="398" cy="153" r="7.5"/><circle cx="712" cy="41" r="5.3"/><circle cx="790" cy="468" r="7.9"/><circle cx="676" cy="501" r="5.0"/><circle cx="436" cy="540" r="5.1"/><circle cx="496" cy="444" r="6.1"/><circle cx="283" cy="175" r="5.5"/><circle cx="643" cy="212" r="6.5"/><circle cx="864" cy="590" r="6.3"/><circle cx="529" cy="538" r="5.3"/><circle cx="294" cy="56" r="6.5"/><circle cx="167" cy="95" r="5.9"/><circle cx="685" cy="373" r="5.9"/><circle cx="343" cy="44" r="5.7"/><circle cx="544" cy="551" r="6.6"/><circle cx="395" cy="487" r="6.9"/><circle cx="443" cy="522" r="7.9"/><circle cx="729" cy="543" r="5.7"/><circle cx="682" cy="304" r="7.4"/><circle cx="681" cy="117" r="5.6"/><circle cx="210" cy="354" r="6.3"/><circle cx="403" cy="232" r="5.1"/><circle cx="226" cy="254" r="6.0"/><circle cx="891" cy="484" r="6.1"/><circle cx="814" cy="169" r="5.3"/><circle cx="365" cy="335" r="6.0"/><circle cx="258" cy="485" r="6.0"/><circle cx="571" cy="316" r="5.9"/><circle cx="984" cy="45" r="7.6"/><circle cx="885" cy="580" r="6.3"/><circle cx="708" cy="125" r="6.1"/><circle cx="385" cy="382" r="6.9"/><circle cx="754" cy="430" r="6.3"/><circle cx="559" cy="338" r="5.9"/><circle cx="680" cy="115" r="7.3"/><circle cx="733" cy="48" r="5.7"/><circle cx="257" cy="51" r="5.9"/><circle cx="770" cy="475" r="7.1"/><circle cx="670" cy="538" r="5.4"/><circle cx="170" cy="65" r="5.2"/><circle cx="637" cy="112" r="5.4"/><circle cx="449" cy="21" r="7.1"/><circle cx="668" cy="170" r="5.7"/><circle cx="437" cy="367" r="5.1"/><circle cx="240" cy="241" r="7.4"/><circle cx="761" cy="89" r="5.3"/><circle cx="552" cy="203" r="6.7"/><circle cx="584" cy="498" r="4.9"/><circle cx="712" cy="565" r="7.9"/><circle cx="406" cy="64" r="6.6"/><circle cx="681" cy="491" r="6.4"/><circle cx="292" cy="209" r="7.8"/><circle cx="544" cy="271" r="6.0"/><circle cx="904" cy="553" r="6.4"/><circle cx="850" cy="458" r="5.3"/><circle cx="488" cy="230" r="5.9"/><circle cx="230" cy="423" r="7.0"/><circle cx="394" cy="225" r="7.0"/><circle cx="985" cy="22" r="7.7"/><circle cx="400" cy="196" r="6.4"/><circle cx="173" cy="362" r="6.0"/><circle cx="757" cy="581" r="7.1"/><circle cx="226" cy="71" r="6.4"/></g>
<g filter="url(#blur1)"><circle cx="274" cy="300" r="5.3" fill="rgb(25,25,25)" opacity="0.82"/><circle cx="730" cy="529" r="5.3" fill="rgb(83,83,83)" opacity="0.72"/><circle cx="695" cy="71" r="4.9" fill="rgb(51,51,51)" opacity="0.76"/><circle cx="480" cy="512" r="4.2" fill="rgb(40,40,40)" opacity="0.67"/><circle cx="743" cy="566" r="5.6" fill="rgb(77,77,77)" opacity="0.93"/><circle cx="926" cy="22" r="4.9" fill="rgb(61,61,61)" opacity="0.70"/><circle cx="719" cy="197" r="4.9" fill="rgb(82,82,82)" opacity="0.79"/><circle cx="332" cy="200" r="4.6" fill="rgb(21,21,21)" opacity="0.69"/><circle cx="473" cy="81" r="3.4" fill="rgb(80,80,80)" opacity="0.84"/><circle cx="425" cy="457" r="2.7" fill="rgb(57,57,57)" opacity="0.74"/><circle cx="521" cy="131" r="4.4" fill="rgb(80,80,80)" opacity="0.70"/><circle cx="429" cy="622" r="3.6" fill="rgb(53,53,53)" opacity="0.90"/><circle cx="524" cy="51" r="4.2" fill="rgb(57,57,57)" opacity="0.76"/><circle cx="457" cy="215" r="3.1" fill="rgb(35,35,35)" opacity="0.73"/><circle cx="171" cy="215" r="2.9" fill="rgb(38,38,38)" opacity="0.71"/><circle cx="320" cy="81" r="2.8" fill="rgb(68,68,68)" opacity="0.80"/><circle cx="242" cy="72" r="2.4" fill="rgb(49,49,49)" opacity="0.66"/><circle cx="254" cy="329" r="3.3" fill="rgb(43,43,43)" opacity="0.72"/><circle cx="297" cy="274" r="3.4" fill="rgb(64,64,64)" opacity="0.83"/><circle cx="597" cy="572" r="4.0" fill="rgb(29,29,29)" opacity="0.85"/><circle cx="296" cy="298" r="5.1" fill="rgb(47,47,47)" opacity="0.71"/><circle cx="383" cy="96" r="3.0" fill="rgb(57,57,57)" opacity="0.79"/><circle cx="194" cy="50" r="3.4" fill="rgb(38,38,38)" opacity="0.71"/><circle cx="412" cy="78" r="5.1" fill="rgb(66,66,66)" opacity="0.91"/><circle cx="242" cy="413" r="5.1" fill="rgb(25,25,25)" opacity="0.78"/><circle cx="168" cy="334" r="3.7" fill="rgb(27,27,27)" opacity="0.81"/><circle cx="270" cy="233" r="4.6" fill="rgb(53,53,53)" opacity="0.95"/><circle cx="459" cy="202" r="2.8" fill="rgb(23,23,23)" opacity="0.68"/><circle cx="837" cy="59" r="4.9" fill="rgb(82,82,82)" opacity="0.81"/><circle cx="519" cy="126" r="4.4" fill="rgb(63,63,63)" opacity="0.74"/><circle cx="672" cy="256" r="2.5" fill="rgb(56,56,56)" opacity="0.81"/><circle cx="323" cy="158" r="2.7" fill="rgb(79,79,79)" opacity="0.80"/><circle cx="703" cy="155" r="2.6" fill="rgb(78,78,78)" opacity="0.95"/><circle cx="273" cy="365" r="3.4" fill="rgb(39,39,39)" opacity="0.66"/><circle cx="722" cy="448" r="2.8" fill="rgb(36,36,36)" opacity="0.77"/><circle cx="585" cy="526" r="2.9" fill="rgb(69,69,69)" opacity="0.66"/><circle cx="374" cy="480" r="4.5" fill="rgb(39,39,39)" opacity="0.78"/><circle cx="388" cy="250" r="3.4" fill="rgb(47,47,47)" opacity="0.86"/><circle cx="556" cy="21" r="2.4" fill="rgb(47,47,47)" opacity="0.78"/><circle cx="421" cy="195" r="3.5" fill="rgb(20,20,20)" opacity="0.68"/><circle cx="511" cy="188" r="2.8" fill="rgb(19,19,19)" opacity="0.87"/><circle cx="733" cy="481" r="4.9" fill="rgb(29,29,29)" opacity="0.76"/><circle cx="297" cy="296" r="5.1" fill="rgb(63,63,63)" opacity="0.90"/><circle cx="355" cy="221" r="3.4" fill="rgb(71,71,71)" opacity="0.84"/><circle cx="564" cy="559" r="5.2" fill="rgb(78,78,78)" opacity="0.92"/><circle cx="769" cy="64" r="3.0" fill="rgb(20,20,20)" opacity="0.70"/><circle cx="611" cy="111" r="5.3" fill="rgb(25,25,25)" opacity="0.66"/><circle cx="320" cy="273" r="5.4" fill="rgb(53,53,53)" opacity="0.76"/><circle cx="310" cy="269" r="2.7" fill="rgb(38,38,38)" opacity="0.71"/><circle cx="573" cy="446" r="3.1" fill="rgb(52,52,52)" opacity="0.89"/><circle cx="507" cy="411" r="2.5" fill="rgb(69,69,69)" opacity="0.91"/><circle cx="588" cy="432" r="2.9" fill="rgb(19,19,19)" opacity="0.84"/><circle cx="670" cy="46" r="4.4" fill="rgb(19,19,19)" opacity="0.70"/><circle cx="800" cy="453" r="3.3" fill="rgb(35,35,35)" opacity="0.93"/><circle cx="790" cy="61" r="2.9" fill="rgb(71,71,71)" opacity="0.69"/><circle cx="725" cy="432" r="3.7" fill="rgb(73,73,73)" opacity="0.70"/><circle cx="319" cy="493" r="4.4" fill="rgb(19,19,19)" opacity="0.65"/><circle cx="707" cy="496" r="5.2" fill="rgb(19,19,19)" opacity="0.79"/><circle cx="443" cy="346" r="4.5" fill="rgb(64,64,64)" opacity="0.89"/><circle cx="252" cy="324" r="4.0" fill="rgb(78,78,78)" opacity="0.80"/><circle cx="511" cy="427" r="3.2" fill="rgb(47,47,47)" opacity="0.87"/><circle cx="343" cy="371" r="4.5" fill="rgb(20,20,20)" opacity="0.73"/><circle cx="334" cy="185" r="2.7" fill="rgb(53,53,53)" opacity="0.70"/><circle cx="705" cy="596" r="4.0" fill="rgb(50,50,50)" opacity="0.87"/><circle cx="720" cy="360" r="2.8" fill="rgb(63,63,63)" opacity="0.82"/><circle cx="781" cy="585" r="4.5" fill="rgb(61,61,61)" opacity="0.82"/><circle cx="703" cy="83" r="4.1" fill="rgb(31,31,31)" opacity="0.91"/><circle cx="916" cy="496" r="2.5" fill="rgb(39,39,39)" opacity="0.91"/><circle cx="367" cy="488" r="5.4" fill="rgb(42,42,42)" opacity="0.85"/><circle cx="505" cy="356" r="4.5" fill="rgb(32,32,32)" opacity="0.70"/><circle cx="353" cy="519" r="4.5" fill="rgb(85,85,85)" opacity="0.71"/><circle cx="481" cy="395" r="3.6" fill="rgb(43,43,43)" opacity="0.78"/><circle cx="381" cy="270" r="3.9" fill="rgb(76,76,76)" opacity="0.71"/><circle cx="420" cy="431" r="2.7" fill="rgb(55,55,55)" opacity="0.84"/><circle cx="435" cy="540" r="4.4" fill="rgb(44,44,44)" opacity="0.71"/><circle cx="485" cy="101" r="3.4" fill="rgb(35,35,35)" opacity="0.67"/><circle cx="492" cy="520" r="3.4" fill="rgb(27,27,27)" opacity="0.84"/><circle cx="797" cy="442" r="2.9" fill="rgb(56,56,56)" opacity="0.81"/><circle cx="530" cy="24" r="3.2" fill="rgb(42,42,42)" opacity="0.94"/><circle cx="357" cy="99" r="3.9" fill="rgb(76,76,76)" opacity="0.81"/><circle cx="272" cy="243" r="4.5" fill="rgb(40,40,40)" opacity="0.76"/><circle cx="448" cy="537" r="4.5" fill="rgb(84,84,84)" opacity="0.86"/><circle cx="228" cy="185" r="2.8" fill="rgb(39,39,39)" opacity="0.68"/><circle cx="543" cy="287" r="5.1" fill="rgb(44,44,44)" opacity="0.86"/><circle cx="374" cy="409" r="2.5" fill="rgb(23,23,23)" opacity="0.81"/><circle cx="398" cy="395" r="3.6" fill="rgb(85,85,85)" opacity="0.79"/><circle cx="208" cy="107" r="3.3" fill="rgb(29,29,29)" opacity="0.94"/><circle cx="524" cy="469" r="4.2" fill="rgb(54,54,54)" opacity="0.65"/><circle cx="460" cy="210" r="4.3" fill="rgb(60,60,60)" opacity="0.67"/><circle cx="622" cy="148" r="3.7" fill="rgb(72,72,72)" opacity="0.73"/><circle cx="621" cy="291" r="4.5" fill="rgb(58,58,58)" opacity="0.80"/><circle cx="611" cy="470" r="4.0" fill="rgb(81,81,81)" opacity="0.67"/><circle cx="436" cy="449" r="3.1" fill="rgb(48,48,48)" opacity="0.93"/><circle cx="198" cy="81" r="3.6" fill="rgb(75,75,75)" opacity="0.84"/><circle cx="433" cy="160" r="2.6" fill="rgb(76,76,76)" opacity="0.76"/><circle cx="784" cy="459" r="2.7" fill="rgb(64,64,64)" opacity="0.69"/><circle cx="656" cy="489" r="3.1" fill="rgb(23,23,23)" opacity="0.94"/><circle cx="288" cy="228" r="5.0" fill="rgb(73,73,73)" opacity="0.81"/><circle cx="604" cy="32" r="4.5" fill="rgb(48,48,48)" opacity="0.85"/><circle cx="925" cy="546" r="5.4" fill="rgb(48,48,48)" opacity="0.85"/><circle cx="882" cy="511" r="2.6" fill="rgb(62,62,62)" opacity="0.72"/><circle cx="689" cy="277" r="4.8" fill="rgb(37,37,37)" opacity="0.78"/><circle cx="224" cy="215" r="2.9" fill="rgb(79,79,79)" opacity="0.80"/><circle cx="504" cy="539" r="2.7" fill="rgb(47,47,47)" opacity="0.91"/><circle cx="664" cy="306" r="2.5" fill="rgb(33,33,33)" opacity="0.75"/><circle cx="656" cy="275" r="5.3" fill="rgb(53,53,53)" opacity="0.75"/><circle cx="660" cy="444" r="4.9" fill="rgb(31,31,31)" opacity="0.70"/><circle cx="582" cy="186" r="2.4" fill="rgb(54,54,54)" opacity="0.86"/><circle cx="637" cy="506" r="3.1" fill="rgb(66,66,66)" opacity="0.92"/><circle cx="565" cy="27" r="5.5" fill="rgb(85,85,85)" opacity="0.74"/><circle cx="555" cy="551" r="4.7" fill="rgb(44,44,44)" opacity="0.79"/><circle cx="571" cy="282" r="5.1" fill="rgb(26,26,26)" opacity="0.70"/><circle cx="618" cy="475" r="4.6" fill="rgb(43,43,43)" opacity="0.70"/><circle cx="558" cy="25" r="3.5" fill="rgb(21,21,21)" opacity="0.74"/><circle cx="665" cy="423" r="2.6" fill="rgb(61,61,61)" opacity="0.93"/><circle cx="175" cy="232" r="2.8" fill="rgb(26,26,26)" opacity="0.71"/><circle cx="344" cy="289" r="3.9" fill="rgb(68,68,68)" opacity="0.69"/><circle cx="210" cy="146" r="3.0" fill="rgb(52,52,52)" opacity="0.82"/><circle cx="693" cy="552" r="4.3" fill="rgb(72,72,72)" opacity="0.83"/><circle cx="608" cy="303" r="5.6" fill="rgb(70,70,70)" opacity="0.88"/><circle cx="816" cy="446" r="3.4" fill="rgb(60,60,60)" opacity="0.86"/><circle cx="505" cy="232" r="5.0" fill="rgb(66,66,66)" opacity="0.80"/><circle cx="362" cy="91" r="3.4" fill="rgb(68,68,68)" opacity="0.88"/><circle cx="435" cy="468" r="5.1" fill="rgb(71,71,71)" opacity="0.75"/><circle cx="604" cy="347" r="2.6" fill="rgb(63,63,63)" opacity="0.92"/><circle cx="917" cy="468" r="5.1" fill="rgb(84,84,84)" opacity="0.67"/><circle cx="194" cy="337" r="5.6" fill="rgb(58,58,58)" opacity="0.70"/><circle cx="226" cy="82" r="5.1" fill="rgb(82,82,82)" opacity="0.71"/><circle cx="204" cy="339" r="4.0" fill="rgb(24,24,24)" opacity="0.74"/><circle cx="344" cy="229" r="3.2" fill="rgb(48,48,48)" opacity="0.71"/><circle cx="658" cy="484" r="5.6" fill="rgb(22,22,22)" opacity="0.73"/><circle cx="732" cy="461" r="3.3" fill="rgb(28,28,28)" opacity="0.95"/><circle cx="302" cy="34" r="2.9" fill="rgb(64,64,64)" opacity="0.71"/><circle cx="661" cy="120" r="4.2" fill="rgb(47,47,47)" opacity="0.79"/><circle cx="764" cy="574" r="3.7" fill="rgb(42,42,42)" opacity="0.92"/><circle cx="387" cy="162" r="5.4" fill="rgb(45,45,45)" opacity="0.75"/><circle cx="560" cy="374" r="4.2" fill="rgb(55,55,55)" opacity="0.88"/><circle cx="713" cy="191" r="4.6" fill="rgb(39,39,39)" opacity="0.72"/><circle cx="530" cy="149" r="4.4" fill="rgb(36,36,36)" opacity="0.69"/><circle cx="168" cy="37" r="3.5" fill="rgb(33,33,33)" opacity="0.70"/><circle cx="664" cy="296" r="4.4" fill="rgb(48,48,48)" opacity="0.86"/><circle cx="498" cy="555" r="4.3" fill="rgb(62,62,62)" opacity="0.90"/><circle cx="598" cy="93" r="5.5" fill="rgb(75,75,75)" opacity="0.86"/><circle cx="429" cy="533" r="4.8" fill="rgb(78,78,78)" opacity="0.75"/><circle cx="246" cy="235" r="2.9" fill="rgb(66,66,66)" opacity="0.88"/><circle cx="288" cy="315" r="3.8" fill="rgb(58,58,58)" opacity="0.83"/><circle cx="599" cy="331" r="3.7" fill="rgb(52,52,52)" opacity="0.89"/><circle cx="851" cy="505" r="3.1" fill="rgb(31,31,31)" opacity="0.70"/><circle cx="534" cy="85" r="2.7" fill="rgb(49,49,49)" opacity="0.94"/><circle cx="695" cy="205" r="3.3" fill="rgb(27,27,27)" opacity="0.95"/><circle cx="299" cy="219" r="5.5" fill="rgb(76,76,76)" opacity="0.82"/><circle cx="730" cy="85" r="4.8" fill="rgb(76,76,76)" opacity="0.92"/><circle cx="872" cy="514" r="4.8" fill="rgb(55,55,55)" opacity="0.88"/><circle cx="820" cy="68" r="3.5" fill="rgb(85,85,85)" opacity="0.84"/><circle cx="438" cy="27" r="5.0" fill="rgb(76,76,76)" opacity="0.92"/><circle cx="558" cy="370" r="3.4" fill="rgb(80,80,80)" opacity="0.76"/><circle cx="428" cy="417" r="5.1" fill="rgb(65,65,65)" opacity="0.75"/><circle cx="507" cy="341" r="3.2" fill="rgb(63,63,63)" opacity="0.67"/><circle cx="656" cy="413" r="3.7" fill="rgb(50,50,50)" opacity="0.72"/><circle cx="249" cy="307" r="5.6" fill="rgb(40,40,40)" opacity="0.75"/><circle cx="702" cy="297" r="3.4" fill="rgb(56,56,56)" opacity="0.92"/><circle cx="757" cy="384" r="3.0" fill="rgb(77,77,77)" opacity="0.73"/><circle cx="889" cy="26" r="5.6" fill="rgb(31,31,31)" opacity="0.95"/><circle cx="872" cy="38" r="5.4" fill="rgb(81,81,81)" opacity="0.75"/><circle cx="607" cy="342" r="5.3" fill="rgb(72,72,72)" opacity="0.77"/><circle cx="594" cy="21" r="2.7" fill="rgb(83,83,83)" opacity="0.72"/><circle cx="467" cy="296" r="2.4" fill="rgb(35,35,35)" opacity="0.86"/><circle cx="658" cy="250" r="4.1" fill="rgb(52,52,52)" opacity="0.79"/><circle cx="717" cy="409" r="4.1" fill="rgb(26,26,26)" opacity="0.72"/><circle cx="720" cy="72" r="5.5" fill="rgb(21,21,21)" opacity="0.67"/><circle cx="217" cy="296" r="5.0" fill="rgb(69,69,69)" opacity="0.91"/><circle cx="675" cy="205" r="4.0" fill="rgb(18,18,18)" opacity="0.78"/><circle cx="484" cy="333" r="5.5" fill="rgb(47,47,47)" opacity="0.78"/><circle cx="690" cy="389" r="2.7" fill="rgb(43,43,43)" opacity="0.78"/><circle cx="228" cy="203" r="3.3" fill="rgb(24,24,24)" opacity="0.69"/><circle cx="298" cy="469" r="4.0" fill="rgb(52,52,52)" opacity="0.76"/><circle cx="651" cy="130" r="5.2" fill="rgb(37,37,37)" opacity="0.71"/><circle cx="371" cy="544" r="4.6" fill="rgb(43,43,43)" opacity="0.72"/><circle cx="496" cy="339" r="5.6" fill="rgb(32,32,32)" opacity="0.88"/><circle cx="375" cy="469" r="5.3" fill="rgb(52,52,52)" opacity="0.70"/><circle cx="321" cy="180" r="5.5" fill="rgb(24,24,24)" opacity="0.71"/><circle cx="573" cy="176" r="4.7" fill="rgb(51,51,51)" opacity="0.89"/><circle cx="499" cy="537" r="5.5" fill="rgb(52,52,52)" opacity="0.76"/><circle cx="598" cy="254" r="3.1" fill="rgb(49,49,49)" opacity="0.93"/><circle cx="338" cy="157" r="3.3" fill="rgb(48,48,48)" opacity="0.80"/><circle cx="608" cy="438" r="5.2" fill="rgb(47,47,47)" opacity="0.89"/><circle cx="551" cy="227" r="5.5" fill="rgb(21,21,21)" opacity="0.92"/><circle cx="894" cy="498" r="3.2" fill="rgb(27,27,27)" opacity="0.77"/><circle cx="310" cy="174" r="3.8" fill="rgb(23,23,23)" opacity="0.85"/><circle cx="237" cy="249" r="3.2" fill="rgb(41,41,41)" opacity="0.87"/><circle cx="286" cy="418" r="4.7" fill="rgb(59,59,59)" opacity="0.86"/><circle cx="287" cy="287" r="3.1" fill="rgb(36,36,36)" opacity="0.85"/><circle cx="358" cy="433" r="3.3" fill="rgb(50,50,50)" opacity="0.94"/><circle cx="267" cy="103" r="4.4" fill="rgb(31,31,31)" opacity="0.80"/><circle cx="238" cy="193" r="4.2" fill="rgb(41,41,41)" opacity="0.66"/><circle cx="518" cy="257" r="2.9" fill="rgb(20,20,20)" opacity="0.89"/><circle cx="616" cy="544" r="3.0" fill="rgb(55,55,55)" opacity="0.65"/><circle cx="629" cy="286" r="3.0" fill="rgb(19,19,19)" opacity="0.85"/><circle cx="572" cy="273" r="5.4" fill="rgb(31,31,31)" opacity="0.67"/><circle cx="699" cy="495" r="2.8" fill="rgb(66,66,66)" opacity="0.90"/><circle cx="328" cy="464" r="2.7" fill="rgb(72,72,72)" opacity="0.91"/><circle cx="546" cy="492" r="3.1" fill="rgb(59,59,59)" opacity="0.90"/><circle cx="309" cy="177" r="2.8" fill="rgb(53,53,53)" opacity="0.69"/><circle cx="208" cy="86" r="4.3" fill="rgb(37,37,37)" opacity="0.89"/><circle cx="747" cy="457" r="4.0" fill="rgb(71,71,71)" opacity="0.75"/><circle cx="168" cy="242" r="4.7" fill="rgb(54,54,54)" opacity="0.75"/><circle cx="598" cy="217" r="3.3" fill="rgb(43,43,43)" opacity="0.85"/><circle cx="238" cy="113" r="4.1" fill="rgb(84,84,84)" opacity="0.79"/><circle cx="487" cy="374" r="4.8" fill="rgb(24,24,24)" opacity="0.77"/><circle cx="324" cy="332" r="5.1" fill="rgb(66,66,66)" opacity="0.67"/><circle cx="237" cy="431" r="5.2" fill="rgb(74,74,74)" opacity="0.70"/><circle cx="304" cy="347" r="2.4" fill="rgb(76,76,76)" opacity="0.93"/><circle cx="370" cy="318" r="4.2" fill="rgb(79,79,79)" opacity="0.71"/><circle cx="386" cy="139" r="4.3" fill="rgb(79,79,79)" opacity="0.83"/><circle cx="775" cy="567" r="2.6" fill="rgb(70,70,70)" opacity="0.79"/><circle cx="441" cy="48" r="4.5" fill="rgb(69,69,69)" opacity="0.92"/><circle cx="519" cy="182" r="5.5" fill="rgb(26,26,26)" opacity="0.66"/><circle cx="169" cy="245" r="5.3" fill="rgb(81,81,81)" opacity="0.73"/><circle cx="208" cy="326" r="4.0" fill="rgb(68,68,68)" opacity="0.78"/><circle cx="703" cy="481" r="3.0" fill="rgb(70,70,70)" opacity="0.66"/><circle cx="930" cy="494" r="5.0" fill="rgb(31,31,31)" opacity="0.72"/><circle cx="279" cy="63" r="5.2" fill="rgb(55,55,55)" opacity="0.85"/><circle cx="311" cy="219" r="5.2" fill="rgb(63,63,63)" opacity="0.75"/><circle cx="699" cy="500" r="5.0" fill="rgb(39,39,39)" opacity="0.71"/><circle cx="710" cy="120" r="4.7" fill="rgb(38,38,38)" opacity="0.68"/><circle cx="402" cy="550" r="3.7" fill="rgb(39,39,39)" opacity="0.89"/><circle cx="494" cy="540" r="4.9" fill="rgb(32,32,32)" opacity="0.86"/><circle cx="818" cy="66" r="4.2" fill="rgb(54,54,54)" opacity="0.87"/><circle cx="315" cy="305" r="4.6" fill="rgb(48,48,48)" opacity="0.79"/><circle cx="414" cy="472" r="2.6" fill="rgb(68,68,68)" opacity="0.66"/><circle cx="698" cy="217" r="4.1" fill="rgb(68,68,68)" opacity="0.86"/><circle cx="578" cy="178" r="4.5" fill="rgb(47,47,47)" opacity="0.66"/><circle cx="479" cy="185" r="4.9" fill="rgb(76,76,76)" opacity="0.79"/><circle cx="926" cy="49" r="4.9" fill="rgb(79,79,79)" opacity="0.68"/><circle cx="934" cy="540" r="3.4" fill="rgb(49,49,49)" opacity="0.93"/><circle cx="198" cy="37" r="3.2" fill="rgb(41,41,41)" opacity="0.89"/><circle cx="378" cy="431" r="5.2" fill="rgb(84,84,84)" opacity="0.83"/><circle cx="288" cy="234" r="4.2" fill="rgb(78,78,78)" opacity="0.69"/><circle cx="590" cy="575" r="3.7" fill="rgb(79,79,79)" opacity="0.72"/><circle cx="609" cy="566" r="3.3" fill="rgb(26,26,26)" opacity="0.83"/><circle cx="712" cy="83" r="3.1" fill="rgb(76,76,76)" opacity="0.70"/><circle cx="486" cy="266" r="2.5" fill="rgb(77,77,77)" opacity="0.89"/><circle cx="376" cy="257" r="4.4" fill="rgb(84,84,84)" opacity="0.90"/><circle cx="608" cy="245" r="3.9" fill="rgb(24,24,24)" opacity="0.65"/><circle cx="432" cy="517" r="5.1" fill="rgb(72,72,72)" opacity="0.70"/><circle cx="921" cy="102" r="4.8" fill="rgb(18,18,18)" opacity="0.89"/><circle cx="243" cy="21" r="2.5" fill="rgb(30,30,30)" opacity="0.79"/><circle cx="319" cy="258" r="5.6" fill="rgb(65,65,65)" opacity="0.79"/><circle cx="615" cy="127" r="3.8" fill="rgb(85,85,85)" opacity="0.69"/><circle cx="747" cy="436" r="3.8" fill="rgb(23,23,23)" opacity="0.71"/><circle cx="408" cy="436" r="2.8" fill="rgb(68,68,68)" opacity="0.85"/><circle cx="677" cy="345" r="3.0" fill="rgb(83,83,83)" opacity="0.76"/><circle cx="410" cy="185" r="3.6" fill="rgb(51,51,51)" opacity="0.67"/><circle cx="295" cy="138" r="5.0" fill="rgb(80,80,80)" opacity="0.89"/><circle cx="246" cy="366" r="5.3" fill="rgb(60,60,60)" opacity="0.84"/><circle cx="187" cy="285" r="4.4" fill="rgb(73,73,73)" opacity="0.74"/><circle cx="345" cy="492" r="4.1" fill="rgb(22,22,22)" opacity="0.88"/><circle cx="713" cy="133" r="4.7" fill="rgb(34,34,34)" opacity="0.86"/><circle cx="660" cy="359" r="5.3" fill="rgb(39,39,39)" opacity="0.71"/><circle cx="425" cy="242" r="4.4" fill="rgb(20,20,20)" opacity="0.74"/><circle cx="414" cy="422" r="4.0" fill="rgb(83,83,83)" opacity="0.80"/><circle cx="456" cy="368" r="3.1" fill="rgb(38,38,38)" opacity="0.79"/><circle cx="282" cy="371" r="4.2" fill="rgb(43,43,43)" opacity="0.72"/><circle cx="486" cy="444" r="3.1" fill="rgb(55,55,55)" opacity="0.89"/><circle cx="669" cy="74" r="4.1" fill="rgb(32,32,32)" opacity="0.93"/><circle cx="464" cy="463" r="4.0" fill="rgb(35,35,35)" opacity="0.88"/><circle cx="246" cy="79" r="2.6" fill="rgb(57,57,57)" opacity="0.89"/><circle cx="351" cy="305" r="2.8" fill="rgb(81,81,81)" opacity="0.82"/><circle cx="502" cy="441" r="4.3" fill="rgb(62,62,62)" opacity="0.90"/><circle cx="534" cy="247" r="5.5" fill="rgb(76,76,76)" opacity="0.66"/><circle cx="354" cy="258" r="4.0" fill="rgb(63,63,63)" opacity="0.72"/><circle cx="538" cy="532" r="3.3" fill="rgb(22,22,22)" opacity="0.80"/><circle cx="290" cy="408" r="2.6" fill="rgb(42,42,42)" opacity="0.72"/><circle cx="477" cy="235" r="4.1" fill="rgb(55,55,55)" opacity="0.90"/><circle cx="355" cy="312" r="4.2" fill="rgb(59,59,59)" opacity="0.85"/><circle cx="715" cy="135" r="3.8" fill="rgb(82,82,82)" opacity="0.90"/><circle cx="998" cy="45" r="3.2" fill="rgb(45,45,45)" opacity="0.87"/><circle cx="376" cy="245" r="4.0" fill="rgb(36,36,36)" opacity="0.86"/><circle cx="696" cy="532" r="4.5" fill="rgb(83,83,83)" opacity="0.71"/><circle cx="449" cy="513" r="2.7" fill="rgb(25,25,25)" opacity="0.73"/><circle cx="567" cy="57" r="3.7" fill="rgb(68,68,68)" opacity="0.89"/><circle cx="219" cy="269" r="3.9" fill="rgb(47,47,47)" opacity="0.85"/><circle cx="184" cy="170" r="4.8" fill="rgb(58,58,58)" opacity="0.73"/><circle cx="182" cy="298" r="2.5" fill="rgb(57,57,57)" opacity="0.92"/><circle cx="852" cy="473" r="5.3" fill="rgb(74,74,74)" opacity="0.79"/><circle cx="405" cy="475" r="5.1" fill="rgb(43,43,43)" opacity="0.93"/><circle cx="698" cy="542" r="5.5" fill="rgb(52,52,52)" opacity="0.73"/><circle cx="458" cy="208" r="4.7" fill="rgb(84,84,84)" opacity="0.91"/><circle cx="324" cy="445" r="3.3" fill="rgb(26,26,26)" opacity="0.92"/><circle cx="702" cy="390" r="2.7" fill="rgb(85,85,85)" opacity="0.87"/><circle cx="242" cy="100" r="2.5" fill="rgb(63,63,63)" opacity="0.76"/><circle cx="592" cy="503" r="3.5" fill="rgb(70,70,70)" opacity="0.90"/><circle cx="684" cy="77" r="4.6" fill="rgb(84,84,84)" opacity="0.77"/><circle cx="347" cy="287" r="3.2" fill="rgb(70,70,70)" opacity="0.74"/><circle cx="661" cy="538" r="4.2" fill="rgb(25,25,25)" opacity="0.73"/><circle cx="876" cy="475" r="2.8" fill="rgb(37,37,37)" opacity="0.73"/><circle cx="461" cy="246" r="5.0" fill="rgb(67,67,67)" opacity="0.75"/><circle cx="875" cy="521" r="2.6" fill="rgb(76,76,76)" opacity="0.81"/><circle cx="581" cy="248" r="4.6" fill="rgb(79,79,79)" opacity="0.76"/><circle cx="810" cy="457" r="3.5" fill="rgb(77,77,77)" opacity="0.66"/><circle cx="469" cy="365" r="4.9" fill="rgb(76,76,76)" opacity="0.85"/><circle cx="500" cy="222" r="5.0" fill="rgb(38,38,38)" opacity="0.90"/><circle cx="559" cy="450" r="4.6" fill="rgb(69,69,69)" opacity="0.71"/><circle cx="387" cy="178" r="4.3" fill="rgb(44,44,44)" opacity="0.65"/><circle cx="648" cy="495" r="4.5" fill="rgb(52,52,52)" opacity="0.65"/><circle cx="572" cy="52" r="4.1" fill="rgb(31,31,31)" opacity="0.86"/><circle cx="192" cy="230" r="5.2" fill="rgb(60,60,60)" opacity="0.73"/><circle cx="207" cy="448" r="4.5" fill="rgb(37,37,37)" opacity="0.81"/><circle cx="391" cy="474" r="3.8" fill="rgb(72,72,72)" opacity="0.83"/><circle cx="826" cy="62" r="5.1" fill="rgb(59,59,59)" opacity="0.82"/><circle cx="177" cy="346" r="4.1" fill="rgb(33,33,33)" opacity="0.65"/><circle cx="372" cy="254" r="3.3" fill="rgb(53,53,53)" opacity="0.76"/><circle cx="211" cy="313" r="5.0" fill="rgb(54,54,54)" opacity="0.86"/><circle cx="638" cy="128" r="4.0" fill="rgb(61,61,61)" opacity="0.90"/><circle cx="898" cy="533" r="4.2" fill="rgb(46,46,46)" opacity="0.71"/><circle cx="247" cy="58" r="2.8" fill="rgb(81,81,81)" opacity="0.68"/><circle cx="473" cy="88" r="3.1" fill="rgb(28,28,28)" opacity="0.78"/><circle cx="585" cy="453" r="2.7" fill="rgb(72,72,72)" opacity="0.82"/><circle cx="765" cy="530" r="5.1" fill="rgb(21,21,21)" opacity="0.81"/><circle cx="386" cy="521" r="4.0" fill="rgb(57,57,57)" opacity="0.69"/><circle cx="627" cy="414" r="3.7" fill="rgb(72,72,72)" opacity="0.68"/><circle cx="250" cy="190" r="3.9" fill="rgb(41,41,41)" opacity="0.93"/><circle cx="869" cy="541" r="4.8" fill="rgb(35,35,35)" opacity="0.87"/><circle cx="459" cy="471" r="4.1" fill="rgb(56,56,56)" opacity="0.80"/><circle cx="919" cy="565" r="2.5" fill="rgb(18,18,18)" opacity="0.66"/><circle cx="501" cy="493" r="4.9" fill="rgb(34,34,34)" opacity="0.67"/><circle cx="288" cy="334" r="4.3" fill="rgb(41,41,41)" opacity="0.86"/><circle cx="291" cy="189" r="4.2" fill="rgb(75,75,75)" opacity="0.82"/><circle cx="468" cy="38" r="5.2" fill="rgb(28,28,28)" opacity="0.85"/><circle cx="252" cy="463" r="4.2" fill="rgb(64,64,64)" opacity="0.85"/><circle cx="543" cy="329" r="4.5" fill="rgb(59,59,59)" opacity="0.87"/><circle cx="631" cy="190" r="3.9" fill="rgb(51,51,51)" opacity="0.87"/><circle cx="643" cy="254" r="4.1" fill="rgb(28,28,28)" opacity="0.71"/><circle cx="310" cy="110" r="3.1" fill="rgb(18,18,18)" opacity="0.92"/><circle cx="232" cy="143" r="3.9" fill="rgb(84,84,84)" opacity="0.90"/><circle cx="317" cy="481" r="3.6" fill="rgb(19,19,19)" opacity="0.82"/><circle cx="191" cy="382" r="5.6" fill="rgb(56,56,56)" opacity="0.89"/><circle cx="345" cy="95" r="5.3" fill="rgb(18,18,18)" opacity="0.71"/><circle cx="699" cy="338" r="2.8" fill="rgb(61,61,61)" opacity="0.83"/><circle cx="382" cy="369" r="2.5" fill="rgb(36,36,36)" opacity="0.91"/><circle cx="562" cy="537" r="5.4" fill="rgb(58,58,58)" opacity="0.75"/><circle cx="568" cy="313" r="3.4" fill="rgb(50,50,50)" opacity="0.89"/><circle cx="599" cy="444" r="4.0" fill="rgb(50,50,50)" opacity="0.74"/><circle cx="645" cy="535" r="3.9" fill="rgb(60,60,60)" opacity="0.77"/><circle cx="697" cy="334" r="3.3" fill="rgb(25,25,25)" opacity="0.74"/><circle cx="670" cy="405" r="2.5" fill="rgb(22,22,22)" opacity="0.91"/><circle cx="318" cy="425" r="4.3" fill="rgb(19,19,19)" opacity="0.81"/><circle cx="496" cy="452" r="5.4" fill="rgb(65,65,65)" opacity="0.75"/><circle cx="446" cy="102" r="4.4" fill="rgb(45,45,45)" opacity="0.66"/><circle cx="626" cy="400" r="3.2" fill="rgb(69,69,69)" opacity="0.83"/><circle cx="616" cy="457" r="4.0" fill="rgb(73,73,73)" opacity="0.93"/><circle cx="484" cy="551" r="2.5" fill="rgb(81,81,81)" opacity="0.83"/><circle cx="531" cy="204" r="4.4" fill="rgb(80,80,80)" opacity="0.66"/><circle cx="563" cy="520" r="3.9" fill="rgb(18,18,18)" opacity="0.72"/><circle cx="478" cy="125" r="4.8" fill="rgb(60,60,60)" opacity="0.69"/><circle cx="930" cy="516" r="4.7" fill="rgb(68,68,68)" opacity="0.88"/><circle cx="421" cy="222" r="3.5" fill="rgb(55,55,55)" opacity="0.84"/><circle cx="710" cy="561" r="4.0" fill="rgb(28,28,28)" opacity="0.94"/><circle cx="245" cy="241" r="4.9" fill="rgb(45,45,45)" opacity="0.91"/><circle cx="879" cy="508" r="5.4" fill="rgb(69,69,69)" opacity="0.90"/><circle cx="741" cy="460" r="4.8" fill="rgb(39,39,39)" opacity="0.77"/><circle cx="176" cy="103" r="5.1" fill="rgb(76,76,76)" opacity="0.66"/><circle cx="291" cy="295" r="4.9" fill="rgb(56,56,56)" opacity="0.92"/><circle cx="293" cy="359" r="2.7" fill="rgb(72,72,72)" opacity="0.82"/><circle cx="458" cy="165" r="5.1" fill="rgb(46,46,46)" opacity="0.84"/><circle cx="612" cy="259" r="3.3" fill="rgb(56,56,56)" opacity="0.85"/><circle cx="453" cy="54" r="4.1" fill="rgb(45,45,45)" opacity="0.73"/><circle cx="674" cy="332" r="3.6" fill="rgb(58,58,58)" opacity="0.69"/><circle cx="393" cy="460" r="4.2" fill="rgb(78,78,78)" opacity="0.70"/><circle cx="181" cy="144" r="3.6" fill="rgb(46,46,46)" opacity="0.77"/><circle cx="642" cy="210" r="4.1" fill="rgb(37,37,37)" opacity="0.69"/><circle cx="947" cy="474" r="4.0" fill="rgb(23,23,23)" opacity="0.70"/><circle cx="669" cy="498" r="4.9" fill="rgb(44,44,44)" opacity="0.66"/><circle cx="442" cy="224" r="3.7" fill="rgb(27,27,27)" opacity="0.79"/><circle cx="474" cy="169" r="4.4" fill="rgb(67,67,67)" opacity="0.92"/><circle cx="770" cy="482" r="3.6" fill="rgb(44,44,44)" opacity="0.71"/><circle cx="665" cy="209" r="2.8" fill="rgb(27,27,27)" opacity="0.81"/><circle cx="272" cy="22" r="3.9" fill="rgb(55,55,55)" opacity="0.75"/><circle cx="217" cy="201" r="3.5" fill="rgb(24,24,24)" opacity="0.69"/><circle cx="295" cy="463" r="4.9" fill="rgb(56,56,56)" opacity="0.92"/><circle cx="565" cy="136" r="3.4" fill="rgb(62,62,62)" opacity="0.67"/><circle cx="355" cy="427" r="4.8" fill="rgb(50,50,50)" opacity="0.71"/><circle cx="586" cy="335" r="4.7" fill="rgb(78,78,78)" opacity="0.67"/><circle cx="446" cy="317" r="3.9" fill="rgb(66,66,66)" opacity="0.70"/><circle cx="437" cy="396" r="4.2" fill="rgb(84,84,84)" opacity="0.70"/><circle cx="449" cy="498" r="3.9" fill="rgb(63,63,63)" opacity="0.77"/><circle cx="344" cy="209" r="5.3" fill="rgb(39,39,39)" opacity="0.79"/><circle cx="521" cy="227" r="2.7" fill="rgb(18,18,18)" opacity="0.93"/><circle cx="669" cy="314" r="3.6" fill="rgb(73,73,73)" opacity="0.88"/><circle cx="624" cy="389" r="4.6" fill="rgb(20,20,20)" opacity="0.82"/><circle cx="394" cy="353" r="3.7" fill="rgb(41,41,41)" opacity="0.79"/><circle cx="600" cy="428" r="5.0" fill="rgb(38,38,38)" opacity="0.67"/><circle cx="444" cy="357" r="3.3" fill="rgb(31,31,31)" opacity="0.76"/><circle cx="874" cy="522" r="2.8" fill="rgb(20,20,20)" opacity="0.81"/><circle cx="241" cy="413" r="2.8" fill="rgb(53,53,53)" opacity="0.75"/><circle cx="663" cy="234" r="4.5" fill="rgb(21,21,21)" opacity="0.72"/><circle cx="723" cy="453" r="5.2" fill="rgb(67,67,67)" opacity="0.93"/><circle cx="229" cy="389" r="3.4" fill="rgb(70,70,70)" opacity="0.66"/><circle cx="646" cy="104" r="3.5" fill="rgb(22,22,22)" opacity="0.95"/><circle cx="616" cy="504" r="5.0" fill="rgb(53,53,53)" opacity="0.69"/><circle cx="669" cy="262" r="4.0" fill="rgb(70,70,70)" opacity="0.86"/><circle cx="291" cy="382" r="3.5" fill="rgb(32,32,32)" opacity="0.81"/><circle cx="708" cy="388" r="3.2" fill="rgb(49,49,49)" opacity="0.94"/><circle cx="415" cy="133" r="2.9" fill="rgb(68,68,68)" opacity="0.75"/><circle cx="665" cy="488" r="5.3" fill="rgb(66,66,66)" opacity="0.87"/><circle cx="683" cy="511" r="5.5" fill="rgb(46,46,46)" opacity="0.83"/><circle cx="428" cy="350" r="4.4" fill="rgb(19,19,19)" opacity="0.81"/><circle cx="568" cy="126" r="5.2" fill="rgb(82,82,82)" opacity="0.81"/><circle cx="176" cy="105" r="4.2" fill="rgb(73,73,73)" opacity="0.80"/><circle cx="490" cy="520" r="5.4" fill="rgb(20,20,20)" opacity="0.86"/><circle cx="682" cy="307" r="2.9" fill="rgb(54,54,54)" opacity="0.90"/><circle cx="630" cy="478" r="4.7" fill="rgb(41,41,41)" opacity="0.78"/><circle cx="731" cy="48" r="2.8" fill="rgb(19,19,19)" opacity="0.74"/><circle cx="460" cy="89" r="5.1" fill="rgb(68,68,68)" opacity="0.88"/><circle cx="601" cy="429" r="4.8" fill="rgb(51,51,51)" opacity="0.77"/><circle cx="694" cy="218" r="4.3" fill="rgb(26,26,26)" opacity="0.92"/><circle cx="525" cy="568" r="2.4" fill="rgb(56,56,56)" opacity="0.93"/><circle cx="449" cy="44" r="5.4" fill="rgb(61,61,61)" opacity="0.87"/><circle cx="574" cy="459" r="3.0" fill="rgb(63,63,63)" opacity="0.73"/><circle cx="400" cy="374" r="3.8" fill="rgb(39,39,39)" opacity="0.81"/><circle cx="559" cy="90" r="4.2" fill="rgb(84,84,84)" opacity="0.88"/><circle cx="634" cy="121" r="3.6" fill="rgb(29,29,29)" opacity="0.67"/><circle cx="429" cy="128" r="2.6" fill="rgb(81,81,81)" opacity="0.91"/><circle cx="422" cy="152" r="2.7" fill="rgb(77,77,77)" opacity="0.73"/><circle cx="518" cy="49" r="4.1" fill="rgb(26,26,26)" opacity="0.76"/><circle cx="166" cy="58" r="3.5" fill="rgb(47,47,47)" opacity="0.86"/><circle cx="573" cy="526" r="5.6" fill="rgb(33,33,33)" opacity="0.70"/><circle cx="944" cy="69" r="3.1" fill="rgb(77,77,77)" opacity="0.70"/><circle cx="235" cy="251" r="3.8" fill="rgb(85,85,85)" opacity="0.89"/><circle cx="283" cy="404" r="2.7" fill="rgb(26,26,26)" opacity="0.72"/><circle cx="616" cy="321" r="5.4" fill="rgb(61,61,61)" opacity="0.69"/><circle cx="209" cy="377" r="2.7" fill="rgb(20,20,20)" opacity="0.71"/><circle cx="695" cy="575" r="4.6" fill="rgb(73,73,73)" opacity="0.83"/><circle cx="695" cy="202" r="3.4" fill="rgb(33,33,33)" opacity="0.77"/><circle cx="660" cy="451" r="5.4" fill="rgb(37,37,37)" opacity="0.67"/><circle cx="367" cy="62" r="3.8" fill="rgb(49,49,49)" opacity="0.72"/><circle cx="559" cy="235" r="3.1" fill="rgb(77,77,77)" opacity="0.94"/><circle cx="495" cy="226" r="4.3" fill="rgb(19,19,19)" opacity="0.73"/><circle cx="712" cy="525" r="3.4" fill="rgb(52,52,52)" opacity="0.92"/><circle cx="628" cy="57" r="2.8" fill="rgb(30,30,30)" opacity="0.76"/><circle cx="541" cy="342" r="4.5" fill="rgb(70,70,70)" opacity="0.74"/><circle cx="473" cy="119" r="4.9" fill="rgb(43,43,43)" opacity="0.80"/><circle cx="261" cy="404" r="3.6" fill="rgb(73,73,73)" opacity="0.78"/><circle cx="390" cy="514" r="4.6" fill="rgb(38,38,38)" opacity="0.68"/><circle cx="608" cy="151" r="4.8" fill="rgb(29,29,29)" opacity="0.82"/><circle cx="250" cy="314" r="3.9" fill="rgb(52,52,52)" opacity="0.66"/><circle cx="287" cy="289" r="4.0" fill="rgb(48,48,48)" opacity="0.68"/><circle cx="214" cy="206" r="4.4" fill="rgb(49,49,49)" opacity="0.76"/><circle cx="599" cy="51" r="3.6" fill="rgb(62,62,62)" opacity="0.69"/><circle cx="253" cy="488" r="2.8" fill="rgb(43,43,43)" opacity="0.72"/><circle cx="684" cy="567" r="4.1" fill="rgb(27,27,27)" opacity="0.76"/><circle cx="514" cy="254" r="2.4" fill="rgb(36,36,36)" opacity="0.76"/><circle cx="808" cy="592" r="3.0" fill="rgb(31,31,31)" opacity="0.73"/><circle cx="190" cy="279" r="5.3" fill="rgb(54,54,54)" opacity="0.78"/><circle cx="734" cy="576" r="3.2" fill="rgb(51,51,51)" opacity="0.70"/><circle cx="256" cy="220" r="4.2" fill="rgb(85,85,85)" opacity="0.90"/><circle cx="342" cy="177" r="3.5" fill="rgb(49,49,49)" opacity="0.93"/><circle cx="869" cy="93" r="5.2" fill="rgb(54,54,54)" opacity="0.72"/><circle cx="964" cy="29" r="2.9" fill="rgb(79,79,79)" opacity="0.76"/><circle cx="409" cy="216" r="4.6" fill="rgb(79,79,79)" opacity="0.70"/><circle cx="309" cy="594" r="2.8" fill="rgb(24,24,24)" opacity="0.66"/><circle cx="424" cy="281" r="4.8" fill="rgb(40,40,40)" opacity="0.77"/><circle cx="582" cy="387" r="4.2" fill="rgb(61,61,61)" opacity="0.73"/><circle cx="228" cy="381" r="5.5" fill="rgb(79,79,79)" opacity="0.70"/><circle cx="590" cy="133" r="5.2" fill="rgb(50,50,50)" opacity="0.82"/><circle cx="685" cy="230" r="4.9" fill="rgb(22,22,22)" opacity="0.80"/><circle cx="912" cy="502" r="2.5" fill="rgb(47,47,47)" opacity="0.85"/><circle cx="414" cy="226" r="5.4" fill="rgb(67,67,67)" opacity="0.80"/><circle cx="749" cy="42" r="2.6" fill="rgb(84,84,84)" opacity="0.94"/><circle cx="312" cy="437" r="2.9" fill="rgb(67,67,67)" opacity="0.91"/><circle cx="851" cy="565" r="4.1" fill="rgb(66,66,66)" opacity="0.73"/><circle cx="565" cy="485" r="5.6" fill="rgb(54,54,54)" opacity="0.69"/><circle cx="307" cy="314" r="2.7" fill="rgb(19,19,19)" opacity="0.82"/><circle cx="710" cy="114" r="5.5" fill="rgb(56,56,56)" opacity="0.66"/><circle cx="729" cy="580" r="5.5" fill="rgb(63,63,63)" opacity="0.92"/><circle cx="990" cy="59" r="2.8" fill="rgb(28,28,28)" opacity="0.71"/><circle cx="490" cy="257" r="2.8" fill="rgb(68,68,68)" opacity="0.90"/><circle cx="571" cy="34" r="5.1" fill="rgb(45,45,45)" opacity="0.67"/><circle cx="249" cy="275" r="5.2" fill="rgb(58,58,58)" opacity="0.71"/><circle cx="709" cy="100" r="2.8" fill="rgb(68,68,68)" opacity="0.91"/><circle cx="255" cy="394" r="3.1" fill="rgb(62,62,62)" opacity="0.70"/><circle cx="656" cy="435" r="3.8" fill="rgb(38,38,38)" opacity="0.95"/><circle cx="289" cy="446" r="4.9" fill="rgb(52,52,52)" opacity="0.88"/><circle cx="536" cy="74" r="3.0" fill="rgb(59,59,59)" opacity="0.87"/><circle cx="523" cy="523" r="3.7" fill="rgb(62,62,62)" opacity="0.89"/><circle cx="554" cy="307" r="4.9" fill="rgb(22,22,22)" opacity="0.76"/><circle cx="328" cy="328" r="5.5" fill="rgb(37,37,37)" opacity="0.73"/><circle cx="630" cy="319" r="4.3" fill="rgb(34,34,34)" opacity="0.76"/><circle cx="691" cy="641" r="4.2" fill="rgb(51,51,51)" opacity="0.92"/><circle cx="261" cy="403" r="3.2" fill="rgb(34,34,34)" opacity="0.69"/><circle cx="969" cy="60" r="2.6" fill="rgb(56,56,56)" opacity="0.93"/><circle cx="435" cy="429" r="4.7" fill="rgb(40,40,40)" opacity="0.89"/><circle cx="707" cy="106" r="5.2" fill="rgb(36,36,36)" opacity="0.68"/><circle cx="606" cy="335" r="3.9" fill="rgb(69,69,69)" opacity="0.67"/><circle cx="177" cy="433" r="4.9" fill="rgb(77,77,77)" opacity="0.91"/><circle cx="223" cy="317" r="4.0" fill="rgb(60,60,60)" opacity="0.78"/><circle cx="292" cy="274" r="3.1" fill="rgb(75,75,75)" opacity="0.67"/><circle cx="282" cy="270" r="2.9" fill="rgb(40,40,40)" opacity="0.80"/><circle cx="341" cy="421" r="5.3" fill="rgb(23,23,23)" opacity="0.73"/><circle cx="173" cy="115" r="5.3" fill="rgb(80,80,80)" opacity="0.86"/><circle cx="323" cy="153" r="2.5" fill="rgb(34,34,34)" opacity="0.81"/><circle cx="327" cy="423" r="4.0" fill="rgb(31,31,31)" opacity="0.68"/><circle cx="236" cy="391" r="4.4" fill="rgb(23,23,23)" opacity="0.88"/><circle cx="774" cy="532" r="4.6" fill="rgb(31,31,31)" opacity="0.91"/><circle cx="992" cy="95" r="2.9" fill="rgb(43,43,43)" opacity="0.76"/><circle cx="364" cy="283" r="3.6" fill="rgb(46,46,46)" opacity="0.94"/><circle cx="878" cy="48" r="3.8" fill="rgb(53,53,53)" opacity="0.68"/><circle cx="247" cy="319" r="3.3" fill="rgb(50,50,50)" opacity="0.70"/><circle cx="340" cy="472" r="3.6" fill="rgb(35,35,35)" opacity="0.93"/><circle cx="818" cy="464" r="4.4" fill="rgb(41,41,41)" opacity="0.81"/><circle cx="672" cy="40" r="2.5" fill="rgb(79,79,79)" opacity="0.65"/><circle cx="440" cy="147" r="5.0" fill="rgb(40,40,40)" opacity="0.67"/><circle cx="619" cy="76" r="3.8" fill="rgb(44,44,44)" opacity="0.82"/><circle cx="332" cy="470" r="3.3" fill="rgb(76,76,76)" opacity="0.72"/><circle cx="302" cy="159" r="5.0" fill="rgb(37,37,37)" opacity="0.66"/><circle cx="296" cy="293" r="3.8" fill="rgb(32,32,32)" opacity="0.80"/><circle cx="412" cy="463" r="3.7" fill="rgb(33,33,33)" opacity="0.89"/><circle cx="733" cy="540" r="3.1" fill="rgb(25,25,25)" opacity="0.73"/><circle cx="226" cy="86" r="3.3" fill="rgb(46,46,46)" opacity="0.78"/><circle cx="219" cy="25" r="3.9" fill="rgb(69,69,69)" opacity="0.94"/><circle cx="332" cy="642" r="3.1" fill="rgb(52,52,52)" opacity="0.78"/><circle cx="287" cy="449" r="3.5" fill="rgb(38,38,38)" opacity="0.68"/><circle cx="535" cy="79" r="5.3" fill="rgb(77,77,77)" opacity="0.70"/><circle cx="352" cy="408" r="4.2" fill="rgb(25,25,25)" opacity="0.91"/><circle cx="653" cy="491" r="3.4" fill="rgb(50,50,50)" opacity="0.78"/><circle cx="838" cy="24" r="3.8" fill="rgb(39,39,39)" opacity="0.84"/><circle cx="208" cy="362" r="5.1" fill="rgb(44,44,44)" opacity="0.84"/><circle cx="341" cy="226" r="2.9" fill="rgb(41,41,41)" opacity="0.75"/><circle cx="500" cy="530" r="4.0" fill="rgb(74,74,74)" opacity="0.92"/><circle cx="591" cy="418" r="2.7" fill="rgb(74,74,74)" opacity="0.78"/><circle cx="211" cy="296" r="2.5" fill="rgb(35,35,35)" opacity="0.86"/><circle cx="251" cy="235" r="2.6" fill="rgb(18,18,18)" opacity="0.91"/><circle cx="408" cy="247" r="4.8" fill="rgb(58,58,58)" opacity="0.80"/><circle cx="700" cy="216" r="3.1" fill="rgb(40,40,40)" opacity="0.76"/><circle cx="591" cy="45" r="4.3" fill="rgb(84,84,84)" opacity="0.66"/><circle cx="178" cy="138" r="3.7" fill="rgb(40,40,40)" opacity="0.70"/><circle cx="572" cy="445" r="3.9" fill="rgb(64,64,64)" opacity="0.87"/><circle cx="214" cy="128" r="4.2" fill="rgb(80,80,80)" opacity="0.76"/><circle cx="661" cy="209" r="4.1" fill="rgb(41,41,41)" opacity="0.77"/><circle cx="894" cy="491" r="2.5" fill="rgb(64,64,64)" opacity="0.74"/><circle cx="608" cy="75" r="3.7" fill="rgb(76,76,76)" opacity="0.88"/><circle cx="835" cy="565" r="3.8" fill="rgb(76,76,76)" opacity="0.73"/><circle cx="471" cy="331" r="4.8" fill="rgb(37,37,37)" opacity="0.68"/><circle cx="900" cy="70" r="4.7" fill="rgb(64,64,64)" opacity="0.80"/><circle cx="193" cy="160" r="3.5" fill="rgb(37,37,37)" opacity="0.82"/><circle cx="366" cy="417" r="4.7" fill="rgb(24,24,24)" opacity="0.89"/><circle cx="707" cy="389" r="2.7" fill="rgb(54,54,54)" opacity="0.84"/><circle cx="362" cy="94" r="5.4" fill="rgb(56,56,56)" opacity="0.68"/><circle cx="679" cy="151" r="2.5" fill="rgb(69,69,69)" opacity="0.69"/><circle cx="774" cy="510" r="5.5" fill="rgb(28,28,28)" opacity="0.69"/><circle cx="623" cy="347" r="4.5" fill="rgb(20,20,20)" opacity="0.74"/><circle cx="222" cy="197" r="4.5" fill="rgb(32,32,32)" opacity="0.92"/><circle cx="642" cy="581" r="5.3" fill="rgb(59,59,59)" opacity="0.89"/><circle cx="781" cy="547" r="5.4" fill="rgb(54,54,54)" opacity="0.72"/><circle cx="721" cy="114" r="5.3" fill="rgb(41,41,41)" opacity="0.86"/><circle cx="365" cy="503" r="5.5" fill="rgb(29,29,29)" opacity="0.66"/><circle cx="301" cy="511" r="3.4" fill="rgb(27,27,27)" opacity="0.68"/><circle cx="615" cy="590" r="3.4" fill="rgb(59,59,59)" opacity="0.70"/><circle cx="695" cy="23" r="5.6" fill="rgb(41,41,41)" opacity="0.92"/><circle cx="675" cy="56" r="5.1" fill="rgb(18,18,18)" opacity="0.94"/><circle cx="694" cy="390" r="4.7" fill="rgb(50,50,50)" opacity="0.93"/><circle cx="509" cy="200" r="3.0" fill="rgb(30,30,30)" opacity="0.89"/><circle cx="594" cy="342" r="4.8" fill="rgb(29,29,29)" opacity="0.83"/><circle cx="353" cy="342" r="4.1" fill="rgb(62,62,62)" opacity="0.88"/><circle cx="698" cy="313" r="5.0" fill="rgb(35,35,35)" opacity="0.81"/><circle cx="543" cy="19" r="5.4" fill="rgb(54,54,54)" opacity="0.85"/><circle cx="645" cy="398" r="2.6" fill="rgb(65,65,65)" opacity="0.74"/><circle cx="623" cy="159" r="5.5" fill="rgb(63,63,63)" opacity="0.68"/><circle cx="503" cy="39" r="4.0" fill="rgb(65,65,65)" opacity="0.71"/><circle cx="442" cy="291" r="5.1" fill="rgb(69,69,69)" opacity="0.67"/><circle cx="736" cy="93" r="2.5" fill="rgb(49,49,49)" opacity="0.94"/><circle cx="369" cy="154" r="2.8" fill="rgb(39,39,39)" opacity="0.81"/><circle cx="685" cy="151" r="3.6" fill="rgb(51,51,51)" opacity="0.89"/><circle cx="322" cy="190" r="4.2" fill="rgb(76,76,76)" opacity="0.95"/><circle cx="617" cy="31" r="4.3" fill="rgb(26,26,26)" opacity="0.91"/><circle cx="168" cy="274" r="5.4" fill="rgb(39,39,39)" opacity="0.91"/><circle cx="487" cy="335" r="5.6" fill="rgb(52,52,52)" opacity="0.73"/><circle cx="841" cy="571" r="4.3" fill="rgb(81,81,81)" opacity="0.68"/><circle cx="540" cy="522" r="3.5" fill="rgb(84,84,84)" opacity="0.86"/><circle cx="678" cy="333" r="5.0" fill="rgb(37,37,37)" opacity="0.94"/><circle cx="388" cy="172" r="3.4" fill="rgb(49,49,49)" opacity="0.94"/><circle cx="990" cy="92" r="4.4" fill="rgb(81,81,81)" opacity="0.85"/><circle cx="177" cy="177" r="4.2" fill="rgb(35,35,35)" opacity="0.68"/><circle cx="403" cy="233" r="3.7" fill="rgb(46,46,46)" opacity="0.67"/><circle cx="548" cy="102" r="3.8" fill="rgb(83,83,83)" opacity="0.94"/><circle cx="915" cy="530" r="4.4" fill="rgb(22,22,22)" opacity="0.67"/><circle cx="478" cy="21" r="5.3" fill="rgb(58,58,58)" opacity="0.68"/><circle cx="652" cy="277" r="3.6" fill="rgb(85,85,85)" opacity="0.88"/><circle cx="313" cy="432" r="2.9" fill="rgb(37,37,37)" opacity="0.80"/><circle cx="214" cy="214" r="3.3" fill="rgb(25,25,25)" opacity="0.80"/><circle cx="438" cy="189" r="3.9" fill="rgb(84,84,84)" opacity="0.75"/><circle cx="549" cy="135" r="2.5" fill="rgb(83,83,83)" opacity="0.87"/><circle cx="740" cy="536" r="3.7" fill="rgb(48,48,48)" opacity="0.93"/><circle cx="694" cy="465" r="5.4" fill="rgb(28,28,28)" opacity="0.95"/><circle cx="399" cy="364" r="3.4" fill="rgb(58,58,58)" opacity="0.93"/><circle cx="494" cy="501" r="5.2" fill="rgb(48,48,48)" opacity="0.94"/><circle cx="885" cy="501" r="4.8" fill="rgb(74,74,74)" opacity="0.68"/><circle cx="709" cy="409" r="2.6" fill="rgb(59,59,59)" opacity="0.82"/><circle cx="394" cy="154" r="5.5" fill="rgb(64,64,64)" opacity="0.93"/><circle cx="259" cy="197" r="2.5" fill="rgb(44,44,44)" opacity="0.77"/><circle cx="191" cy="263" r="4.6" fill="rgb(55,55,55)" opacity="0.67"/><circle cx="576" cy="259" r="4.0" fill="rgb(59,59,59)" opacity="0.83"/><circle cx="343" cy="156" r="5.5" fill="rgb(64,64,64)" opacity="0.74"/><circle cx="630" cy="537" r="4.3" fill="rgb(19,19,19)" opacity="0.84"/><circle cx="995" cy="83" r="4.6" fill="rgb(22,22,22)" opacity="0.71"/><circle cx="733" cy="557" r="3.1" fill="rgb(31,31,31)" opacity="0.68"/><circle cx="657" cy="354" r="5.5" fill="rgb(65,65,65)" opacity="0.82"/><circle cx="888" cy="539" r="2.7" fill="rgb(60,60,60)" opacity="0.71"/><circle cx="701" cy="577" r="5.2" fill="rgb(67,67,67)" opacity="0.88"/><circle cx="913" cy="630" r="5.5" fill="rgb(78,78,78)" opacity="0.69"/><circle cx="498" cy="190" r="2.9" fill="rgb(61,61,61)" opacity="0.90"/><circle cx="472" cy="299" r="3.6" fill="rgb(84,84,84)" opacity="0.81"/><circle cx="501" cy="518" r="5.6" fill="rgb(37,37,37)" opacity="0.88"/><circle cx="213" cy="267" r="5.3" fill="rgb(37,37,37)" opacity="0.71"/><circle cx="707" cy="75" r="3.9" fill="rgb(50,50,50)" opacity="0.76"/><circle cx="555" cy="475" r="4.4" fill="rgb(48,48,48)" opacity="0.94"/><circle cx="522" cy="469" r="3.5" fill="rgb(50,50,50)" opacity="0.86"/><circle cx="998" cy="83" r="3.3" fill="rgb(59,59,59)" opacity="0.83"/><circle cx="701" cy="545" r="2.5" fill="rgb(63,63,63)" opacity="0.94"/><circle cx="227" cy="276" r="3.0" fill="rgb(60,60,60)" opacity="0.84"/><circle cx="753" cy="476" r="3.1" fill="rgb(85,85,85)" opacity="0.91"/><circle cx="156" cy="222" r="3.0" fill="rgb(32,32,32)" opacity="0.71"/><circle cx="507" cy="32" r="3.5" fill="rgb(32,32,32)" opacity="0.78"/><circle cx="593" cy="549" r="3.0" fill="rgb(20,20,20)" opacity="0.85"/><circle cx="376" cy="507" r="3.9" fill="rgb(72,72,72)" opacity="0.86"/><circle cx="629" cy="249" r="4.7" fill="rgb(26,26,26)" opacity="0.91"/><circle cx="747" cy="571" r="5.1" fill="rgb(66,66,66)" opacity="0.78"/><circle cx="190" cy="448" r="3.7" fill="rgb(28,28,28)" opacity="0.90"/><circle cx="567" cy="552" r="2.8" fill="rgb(58,58,58)" opacity="0.79"/><circle cx="257" cy="369" r="5.2" fill="rgb(41,41,41)" opacity="0.65"/><circle cx="318" cy="107" r="4.0" fill="rgb(58,58,58)" opacity="0.80"/><circle cx="542" cy="341" r="4.8" fill="rgb(44,44,44)" opacity="0.74"/><circle cx="710" cy="591" r="2.7" fill="rgb(28,28,28)" opacity="0.71"/><circle cx="490" cy="155" r="3.3" fill="rgb(26,26,26)" opacity="0.71"/><circle cx="756" cy="427" r="3.2" fill="rgb(85,85,85)" opacity="0.82"/><circle cx="894" cy="462" r="4.1" fill="rgb(52,52,52)" opacity="0.75"/><circle cx="306" cy="454" r="5.6" fill="rgb(67,67,67)" opacity="0.76"/><circle cx="782" cy="474" r="4.5" fill="rgb(79,79,79)" opacity="0.76"/><circle cx="384" cy="357" r="4.6" fill="rgb(27,27,27)" opacity="0.69"/><circle cx="181" cy="372" r="4.4" fill="rgb(77,77,77)" opacity="0.76"/><circle cx="606" cy="187" r="3.9" fill="rgb(19,19,19)" opacity="0.85"/><circle cx="232" cy="200" r="5.1" fill="rgb(81,81,81)" opacity="0.67"/><circle cx="663" cy="547" r="5.3" fill="rgb(44,44,44)" opacity="0.95"/><circle cx="670" cy="101" r="3.7" fill="rgb(22,22,22)" opacity="0.77"/><circle cx="595" cy="311" r="4.8" fill="rgb(82,82,82)" opacity="0.87"/><circle cx="689" cy="457" r="3.7" fill="rgb(57,57,57)" opacity="0.68"/><circle cx="778" cy="574" r="3.3" fill="rgb(71,71,71)" opacity="0.66"/><circle cx="807" cy="90" r="4.7" fill="rgb(58,58,58)" opacity="0.82"/><circle cx="258" cy="456" r="4.3" fill="rgb(59,59,59)" opacity="0.75"/><circle cx="539" cy="92" r="4.6" fill="rgb(24,24,24)" opacity="0.87"/><circle cx="225" cy="388" r="4.8" fill="rgb(79,79,79)" opacity="0.68"/><circle cx="397" cy="318" r="5.2" fill="rgb(73,73,73)" opacity="0.93"/><circle cx="227" cy="20" r="4.2" fill="rgb(50,50,50)" opacity="0.88"/><circle cx="686" cy="443" r="3.2" fill="rgb(73,73,73)" opacity="0.79"/><circle cx="803" cy="57" r="5.0" fill="rgb(50,50,50)" opacity="0.85"/><circle cx="348" cy="183" r="3.8" fill="rgb(62,62,62)" opacity="0.76"/><circle cx="585" cy="217" r="2.7" fill="rgb(28,28,28)" opacity="0.70"/><circle cx="402" cy="247" r="4.5" fill="rgb(62,62,62)" opacity="0.80"/><circle cx="410" cy="392" r="3.7" fill="rgb(36,36,36)" opacity="0.79"/><circle cx="288" cy="256" r="2.9" fill="rgb(39,39,39)" opacity="0.83"/><circle cx="255" cy="79" r="2.9" fill="rgb(36,36,36)" opacity="0.92"/><circle cx="527" cy="450" r="4.0" fill="rgb(26,26,26)" opacity="0.71"/><circle cx="770" cy="57" r="3.9" fill="rgb(72,72,72)" opacity="0.75"/><circle cx="469" cy="469" r="5.1" fill="rgb(34,34,34)" opacity="0.71"/><circle cx="295" cy="386" r="3.6" fill="rgb(51,51,51)" opacity="0.67"/><circle cx="250" cy="422" r="4.4" fill="rgb(40,40,40)" opacity="0.71"/><circle cx="472" cy="419" r="3.5" fill="rgb(62,62,62)" opacity="0.88"/><circle cx="179" cy="248" r="3.5" fill="rgb(21,21,21)" opacity="0.93"/><circle cx="335" cy="405" r="4.9" fill="rgb(28,28,28)" opacity="0.83"/><circle cx="275" cy="47" r="3.8" fill="rgb(83,83,83)" opacity="0.79"/><circle cx="632" cy="200" r="3.2" fill="rgb(80,80,80)" opacity="0.85"/><circle cx="328" cy="83" r="3.3" fill="rgb(38,38,38)" opacity="0.66"/><circle cx="190" cy="230" r="5.5" fill="rgb(76,76,76)" opacity="0.68"/><circle cx="734" cy="40" r="4.7" fill="rgb(50,50,50)" opacity="0.88"/><circle cx="396" cy="180" r="3.1" fill="rgb(40,40,40)" opacity="0.86"/><circle cx="707" cy="241" r="3.2" fill="rgb(81,81,81)" opacity="0.75"/><circle cx="349" cy="311" r="4.9" fill="rgb(61,61,61)" opacity="0.72"/><circle cx="421" cy="414" r="3.2" fill="rgb(38,38,38)" opacity="0.83"/><circle cx="707" cy="168" r="4.3" fill="rgb(38,38,38)" opacity="0.66"/><circle cx="836" cy="532" r="4.1" fill="rgb(71,71,71)" opacity="0.81"/><circle cx="444" cy="341" r="3.8" fill="rgb(81,81,81)" opacity="0.74"/><circle cx="251" cy="417" r="4.1" fill="rgb(33,33,33)" opacity="0.70"/><circle cx="613" cy="133" r="2.6" fill="rgb(29,29,29)" opacity="0.80"/><circle cx="641" cy="424" r="3.9" fill="rgb(73,73,73)" opacity="0.68"/><circle cx="337" cy="565" r="4.6" fill="rgb(46,46,46)" opacity="0.85"/><circle cx="802" cy="587" r="3.5" fill="rgb(48,48,48)" opacity="0.91"/><circle cx="249" cy="363" r="4.8" fill="rgb(78,78,78)" opacity="0.93"/><circle cx="448" cy="453" r="4.8" fill="rgb(75,75,75)" opacity="0.82"/><circle cx="618" cy="123" r="4.0" fill="rgb(65,65,65)" opacity="0.88"/><circle cx="674" cy="347" r="3.5" fill="rgb(60,60,60)" opacity="0.71"/><circle cx="502" cy="260" r="2.8" fill="rgb(74,74,74)" opacity="0.79"/><circle cx="296" cy="472" r="5.5" fill="rgb(33,33,33)" opacity="0.66"/><circle cx="833" cy="491" r="5.4" fill="rgb(20,20,20)" opacity="0.88"/><circle cx="643" cy="249" r="4.6" fill="rgb(24,24,24)" opacity="0.73"/><circle cx="245" cy="28" r="5.4" fill="rgb(34,34,34)" opacity="0.77"/><circle cx="477" cy="246" r="3.7" fill="rgb(30,30,30)" opacity="0.94"/><circle cx="228" cy="71" r="3.2" fill="rgb(24,24,24)" opacity="0.94"/><circle cx="772" cy="485" r="2.9" fill="rgb(57,57,57)" opacity="0.74"/><circle cx="610" cy="164" r="3.0" fill="rgb(25,25,25)" opacity="0.72"/><circle cx="813" cy="384" r="5.3" fill="rgb(18,18,18)" opacity="0.89"/><circle cx="372" cy="411" r="2.7" fill="rgb(51,51,51)" opacity="0.81"/><circle cx="954" cy="56" r="3.6" fill="rgb(63,63,63)" opacity="0.70"/><circle cx="448" cy="107" r="4.2" fill="rgb(44,44,44)" opacity="0.73"/><circle cx="522" cy="78" r="5.6" fill="rgb(52,52,52)" opacity="0.81"/><circle cx="390" cy="367" r="4.8" fill="rgb(28,28,28)" opacity="0.68"/><circle cx="221" cy="97" r="5.5" fill="rgb(61,61,61)" opacity="0.69"/><circle cx="295" cy="237" r="3.2" fill="rgb(35,35,35)" opacity="0.82"/><circle cx="262" cy="201" r="4.8" fill="rgb(76,76,76)" opacity="0.89"/><circle cx="459" cy="67" r="2.6" fill="rgb(51,51,51)" opacity="0.72"/><circle cx="433" cy="122" r="2.9" fill="rgb(66,66,66)" opacity="0.72"/><circle cx="347" cy="438" r="4.3" fill="rgb(78,78,78)" opacity="0.67"/><circle cx="167" cy="114" r="3.1" fill="rgb(32,32,32)" opacity="0.66"/><circle cx="765" cy="490" r="4.3" fill="rgb(68,68,68)" opacity="0.71"/><circle cx="846" cy="479" r="4.4" fill="rgb(60,60,60)" opacity="0.78"/><circle cx="344" cy="228" r="3.4" fill="rgb(77,77,77)" opacity="0.87"/><circle cx="613" cy="454" r="3.8" fill="rgb(20,20,20)" opacity="0.71"/><circle cx="531" cy="99" r="3.0" fill="rgb(27,27,27)" opacity="0.73"/><circle cx="669" cy="565" r="3.7" fill="rgb(18,18,18)" opacity="0.91"/><circle cx="563" cy="506" r="5.6" fill="rgb(20,20,20)" opacity="0.90"/><circle cx="478" cy="214" r="4.0" fill="rgb(72,72,72)" opacity="0.71"/><circle cx="359" cy="459" r="3.8" fill="rgb(26,26,26)" opacity="0.81"/><circle cx="447" cy="453" r="5.4" fill="rgb(69,69,69)" opacity="0.80"/><circle cx="483" cy="313" r="2.4" fill="rgb(76,76,76)" opacity="0.77"/><circle cx="945" cy="64" r="3.2" fill="rgb(27,27,27)" opacity="0.88"/><circle cx="479" cy="51" r="4.5" fill="rgb(66,66,66)" opacity="0.77"/><circle cx="471" cy="379" r="2.8" fill="rgb(27,27,27)" opacity="0.67"/><circle cx="925" cy="491" r="3.7" fill="rgb(69,69,69)" opacity="0.69"/><circle cx="267" cy="410" r="3.9" fill="rgb(82,82,82)" opacity="0.67"/><circle cx="501" cy="495" r="3.4" fill="rgb(55,55,55)" opacity="0.68"/><circle cx="596" cy="128" r="2.9" fill="rgb(52,52,52)" opacity="0.85"/><circle cx="296" cy="68" r="4.5" fill="rgb(20,20,20)" opacity="0.81"/><circle cx="471" cy="143" r="4.1" fill="rgb(47,47,47)" opacity="0.68"/><circle cx="534" cy="563" r="3.5" fill="rgb(50,50,50)" opacity="0.70"/><circle cx="272" cy="343" r="5.0" fill="rgb(30,30,30)" opacity="0.67"/><circle cx="174" cy="237" r="5.5" fill="rgb(40,40,40)" opacity="0.88"/><circle cx="531" cy="207" r="4.0" fill="rgb(25,25,25)" opacity="0.77"/><circle cx="419" cy="203" r="4.6" fill="rgb(73,73,73)" opacity="0.84"/><circle cx="616" cy="512" r="2.5" fill="rgb(46,46,46)" opacity="0.84"/><circle cx="566" cy="355" r="4.8" fill="rgb(18,18,18)" opacity="0.80"/><circle cx="543" cy="298" r="5.6" fill="rgb(72,72,72)" opacity="0.77"/><circle cx="482" cy="397" r="2.7" fill="rgb(53,53,53)" opacity="0.95"/><circle cx="750" cy="476" r="5.4" fill="rgb(82,82,82)" opacity="0.93"/><circle cx="529" cy="231" r="2.8" fill="rgb(36,36,36)" opacity="0.76"/><circle cx="818" cy="88" r="3.2" fill="rgb(60,60,60)" opacity="0.69"/><circle cx="691" cy="118" r="3.0" fill="rgb(42,42,42)" opacity="0.95"/><circle cx="892" cy="579" r="4.8" fill="rgb(38,38,38)" opacity="0.70"/><circle cx="789" cy="323" r="2.6" fill="rgb(65,65,65)" opacity="0.68"/><circle cx="435" cy="211" r="5.0" fill="rgb(78,78,78)" opacity="0.85"/><circle cx="462" cy="106" r="2.6" fill="rgb(31,31,31)" opacity="0.91"/><circle cx="808" cy="40" r="4.0" fill="rgb(46,46,46)" opacity="0.68"/><circle cx="576" cy="303" r="3.7" fill="rgb(25,25,25)" opacity="0.80"/><circle cx="790" cy="475" r="3.8" fill="rgb(34,34,34)" opacity="0.76"/><circle cx="211" cy="352" r="4.4" fill="rgb(81,81,81)" opacity="0.78"/><circle cx="333" cy="384" r="4.9" fill="rgb(50,50,50)" opacity="0.89"/><circle cx="708" cy="361" r="5.4" fill="rgb(27,27,27)" opacity="0.88"/><circle cx="578" cy="500" r="3.3" fill="rgb(57,57,57)" opacity="0.88"/><circle cx="597" cy="307" r="4.2" fill="rgb(73,73,73)" opacity="0.95"/><circle cx="225" cy="23" r="3.9" fill="rgb(56,56,56)" opacity="0.77"/><circle cx="510" cy="567" r="5.0" fill="rgb(19,19,19)" opacity="0.83"/><circle cx="792" cy="484" r="5.1" fill="rgb(72,72,72)" opacity="0.81"/><circle cx="308" cy="202" r="3.9" fill="rgb(77,77,77)" opacity="0.73"/><circle cx="639" cy="171" r="5.1" fill="rgb(50,50,50)" opacity="0.81"/><circle cx="606" cy="22" r="4.6" fill="rgb(44,44,44)" opacity="0.80"/><circle cx="191" cy="220" r="3.0" fill="rgb(72,72,72)" opacity="0.71"/><circle cx="498" cy="182" r="4.5" fill="rgb(31,31,31)" opacity="0.67"/><circle cx="499" cy="391" r="4.0" fill="rgb(70,70,70)" opacity="0.87"/><circle cx="441" cy="39" r="2.4" fill="rgb(64,64,64)" opacity="0.76"/><circle cx="193" cy="362" r="3.5" fill="rgb(61,61,61)" opacity="0.71"/><circle cx="359" cy="119" r="3.4" fill="rgb(40,40,40)" opacity="0.86"/><circle cx="598" cy="315" r="4.6" fill="rgb(74,74,74)" opacity="0.88"/><circle cx="483" cy="536" r="4.6" fill="rgb(68,68,68)" opacity="0.67"/><circle cx="533" cy="24" r="4.4" fill="rgb(56,56,56)" opacity="0.68"/><circle cx="673" cy="443" r="4.8" fill="rgb(77,77,77)" opacity="0.90"/><circle cx="283" cy="48" r="4.4" fill="rgb(79,79,79)" opacity="0.92"/><circle cx="313" cy="184" r="4.2" fill="rgb(52,52,52)" opacity="0.72"/><circle cx="169" cy="104" r="5.3" fill="rgb(81,81,81)" opacity="0.94"/><circle cx="709" cy="121" r="3.9" fill="rgb(27,27,27)" opacity="0.66"/><circle cx="546" cy="420" r="3.1" fill="rgb(41,41,41)" opacity="0.90"/><circle cx="733" cy="569" r="3.9" fill="rgb(24,24,24)" opacity="0.90"/><circle cx="254" cy="461" r="4.4" fill="rgb(84,84,84)" opacity="0.85"/><circle cx="345" cy="96" r="4.4" fill="rgb(77,77,77)" opacity="0.85"/><circle cx="445" cy="100" r="4.0" fill="rgb(54,54,54)" opacity="0.66"/><circle cx="621" cy="447" r="4.2" fill="rgb(52,52,52)" opacity="0.76"/><circle cx="309" cy="354" r="4.6" fill="rgb(71,71,71)" opacity="0.73"/><circle cx="274" cy="98" r="3.5" fill="rgb(84,84,84)" opacity="0.78"/><circle cx="178" cy="369" r="3.3" fill="rgb(26,26,26)" opacity="0.94"/><circle cx="726" cy="158" r="3.9" fill="rgb(26,26,26)" opacity="0.78"/><circle cx="503" cy="75" r="4.8" fill="rgb(69,69,69)" opacity="0.79"/><circle cx="235" cy="362" r="2.9" fill="rgb(24,24,24)" opacity="0.76"/><circle cx="588" cy="450" r="3.3" fill="rgb(58,58,58)" opacity="0.89"/><circle cx="820" cy="580" r="3.1" fill="rgb(52,52,52)" opacity="0.69"/><circle cx="775" cy="435" r="2.5" fill="rgb(50,50,50)" opacity="0.65"/><circle cx="668" cy="51" r="5.1" fill="rgb(73,73,73)" opacity="0.93"/><circle cx="875" cy="570" r="4.5" fill="rgb(52,52,52)" opacity="0.71"/><circle cx="314" cy="86" r="5.5" fill="rgb(71,71,71)" opacity="0.75"/><circle cx="404" cy="177" r="4.6" fill="rgb(63,63,63)" opacity="0.76"/><circle cx="485" cy="295" r="3.7" fill="rgb(43,43,43)" opacity="0.66"/><circle cx="866" cy="465" r="3.2" fill="rgb(85,85,85)" opacity="0.72"/><circle cx="392" cy="298" r="3.1" fill="rgb(63,63,63)" opacity="0.79"/><circle cx="169" cy="604" r="3.7" fill="rgb(30,30,30)" opacity="0.82"/><circle cx="603" cy="221" r="3.8" fill="rgb(63,63,63)" opacity="0.73"/><circle cx="737" cy="85" r="3.2" fill="rgb(33,33,33)" opacity="0.69"/><circle cx="229" cy="196" r="3.3" fill="rgb(81,81,81)" opacity="0.85"/><circle cx="544" cy="339" r="4.2" fill="rgb(45,45,45)" opacity="0.84"/><circle cx="332" cy="470" r="5.1" fill="rgb(25,25,25)" opacity="0.80"/><circle cx="450" cy="397" r="3.0" fill="rgb(81,81,81)" opacity="0.66"/><circle cx="777" cy="469" r="4.0" fill="rgb(40,40,40)" opacity="0.90"/><circle cx="372" cy="399" r="5.5" fill="rgb(56,56,56)" opacity="0.83"/><circle cx="468" cy="144" r="5.4" fill="rgb(70,70,70)" opacity="0.71"/><circle cx="577" cy="587" r="2.6" fill="rgb(33,33,33)" opacity="0.74"/><circle cx="523" cy="532" r="2.9" fill="rgb(76,76,76)" opacity="0.81"/><circle cx="691" cy="470" r="2.8" fill="rgb(24,24,24)" opacity="0.68"/><circle cx="426" cy="114" r="2.7" fill="rgb(26,26,26)" opacity="0.68"/><circle cx="476" cy="285" r="4.3" fill="rgb(25,25,25)" opacity="0.66"/><circle cx="655" cy="480" r="3.3" fill="rgb(68,68,68)" opacity="0.78"/><circle cx="675" cy="189" r="3.3" fill="rgb(46,46,46)" opacity="0.76"/><circle cx="269" cy="453" r="4.5" fill="rgb(77,77,77)" opacity="0.94"/><circle cx="368" cy="266" r="3.5" fill="rgb(28,28,28)" opacity="0.82"/><circle cx="259" cy="94" r="2.7" fill="rgb(27,27,27)" opacity="0.70"/><circle cx="719" cy="432" r="5.1" fill="rgb(84,84,84)" opacity="0.65"/><circle cx="283" cy="31" r="4.6" fill="rgb(83,83,83)" opacity="0.71"/><circle cx="442" cy="480" r="5.6" fill="rgb(60,60,60)" opacity="0.76"/><circle cx="257" cy="485" r="3.5" fill="rgb(83,83,83)" opacity="0.70"/><circle cx="593" cy="145" r="4.8" fill="rgb(76,76,76)" opacity="0.75"/><circle cx="356" cy="50" r="3.7" fill="rgb(50,50,50)" opacity="0.91"/><circle cx="498" cy="448" r="2.5" fill="rgb(81,81,81)" opacity="0.89"/><circle cx="386" cy="314" r="4.1" fill="rgb(61,61,61)" opacity="0.76"/><circle cx="752" cy="489" r="4.8" fill="rgb(43,43,43)" opacity="0.66"/><circle cx="166" cy="33" r="5.4" fill="rgb(18,18,18)" opacity="0.66"/><circle cx="261" cy="166" r="3.9" fill="rgb(60,60,60)" opacity="0.75"/><circle cx="477" cy="196" r="4.0" fill="rgb(84,84,84)" opacity="0.90"/><circle cx="240" cy="340" r="3.8" fill="rgb(32,32,32)" opacity="0.90"/><circle cx="906" cy="60" r="2.5" fill="rgb(42,42,42)" opacity="0.85"/><circle cx="548" cy="454" r="4.1" fill="rgb(38,38,38)" opacity="0.90"/><circle cx="214" cy="110" r="5.0" fill="rgb(71,71,71)" opacity="0.70"/><circle cx="340" cy="138" r="4.8" fill="rgb(46,46,46)" opacity="0.67"/><circle cx="257" cy="289" r="2.5" fill="rgb(73,73,73)" opacity="0.79"/><circle cx="357" cy="237" r="3.1" fill="rgb(80,80,80)" opacity="0.82"/><circle cx="949" cy="464" r="5.3" fill="rgb(59,59,59)" opacity="0.86"/><circle cx="509" cy="409" r="2.8" fill="rgb(78,78,78)" opacity="0.66"/><circle cx="699" cy="141" r="5.3" fill="rgb(72,72,72)" opacity="0.68"/><circle cx="279" cy="422" r="3.7" fill="rgb(42,42,42)" opacity="0.76"/><circle cx="395" cy="71" r="3.4" fill="rgb(67,67,67)" opacity="0.80"/><circle cx="657" cy="188" r="5.2" fill="rgb(61,61,61)" opacity="0.73"/><circle cx="731" cy="390" r="2.7" fill="rgb(54,54,54)" opacity="0.75"/><circle cx="529" cy="265" r="4.3" fill="rgb(33,33,33)" opacity="0.84"/><circle cx="452" cy="27" r="4.9" fill="rgb(20,20,20)" opacity="0.91"/><circle cx="725" cy="113" r="3.5" fill="rgb(81,81,81)" opacity="0.66"/><circle cx="407" cy="538" r="4.2" fill="rgb(73,73,73)" opacity="0.80"/><circle cx="648" cy="446" r="2.9" fill="rgb(34,34,34)" opacity="0.80"/><circle cx="454" cy="156" r="3.5" fill="rgb(68,68,68)" opacity="0.94"/><circle cx="672" cy="486" r="4.7" fill="rgb(24,24,24)" opacity="0.87"/><circle cx="179" cy="52" r="3.3" fill="rgb(72,72,72)" opacity="0.74"/><circle cx="508" cy="439" r="4.1" fill="rgb(51,51,51)" opacity="0.76"/><circle cx="249" cy="340" r="5.0" fill="rgb(61,61,61)" opacity="0.76"/><circle cx="385" cy="465" r="3.8" fill="rgb(67,67,67)" opacity="0.75"/><circle cx="301" cy="278" r="5.5" fill="rgb(50,50,50)" opacity="0.88"/><circle cx="633" cy="340" r="5.5" fill="rgb(63,63,63)" opacity="0.70"/><circle cx="221" cy="111" r="5.3" fill="rgb(58,58,58)" opacity="0.79"/><circle cx="442" cy="364" r="5.6" fill="rgb(44,44,44)" opacity="0.71"/><circle cx="397" cy="305" r="4.2" fill="rgb(42,42,42)" opacity="0.89"/><circle cx="538" cy="96" r="5.4" fill="rgb(24,24,24)" opacity="0.74"/><circle cx="511" cy="157" r="4.4" fill="rgb(29,29,29)" opacity="0.76"/><circle cx="615" cy="367" r="3.5" fill="rgb(23,23,23)" opacity="0.66"/><circle cx="894" cy="471" r="3.4" fill="rgb(58,58,58)" opacity="0.74"/><circle cx="169" cy="316" r="4.3" fill="rgb(42,42,42)" opacity="0.88"/><circle cx="743" cy="164" r="4.2" fill="rgb(77,77,77)" opacity="0.78"/><circle cx="687" cy="439" r="3.1" fill="rgb(67,67,67)" opacity="0.94"/><circle cx="464" cy="97" r="4.1" fill="rgb(61,61,61)" opacity="0.69"/><circle cx="171" cy="166" r="3.5" fill="rgb(65,65,65)" opacity="0.79"/><circle cx="398" cy="153" r="5.0" fill="rgb(33,33,33)" opacity="0.67"/><circle cx="712" cy="41" r="2.8" fill="rgb(65,65,65)" opacity="0.95"/><circle cx="790" cy="468" r="5.4" fill="rgb(21,21,21)" opacity="0.86"/><circle cx="676" cy="501" r="2.5" fill="rgb(20,20,20)" opacity="0.69"/><circle cx="436" cy="540" r="2.6" fill="rgb(50,50,50)" opacity="0.80"/><circle cx="496" cy="444" r="3.6" fill="rgb(38,38,38)" opacity="0.91"/><circle cx="283" cy="175" r="3.0" fill="rgb(46,46,46)" opacity="0.77"/><circle cx="643" cy="212" r="4.0" fill="rgb(24,24,24)" opacity="0.69"/><circle cx="864" cy="590" r="3.8" fill="rgb(63,63,63)" opacity="0.91"/><circle cx="529" cy="538" r="2.8" fill="rgb(39,39,39)" opacity="0.80"/><circle cx="294" cy="56" r="4.0" fill="rgb(19,19,19)" opacity="0.76"/><circle cx="167" cy="95" r="3.4" fill="rgb(67,67,67)" opacity="0.88"/><circle cx="685" cy="373" r="3.4" fill="rgb(70,70,70)" opacity="0.88"/><circle cx="343" cy="44" r="3.2" fill="rgb(69,69,69)" opacity="0.88"/><circle cx="544" cy="551" r="4.1" fill="rgb(51,51,51)" opacity="0.76"/><circle cx="395" cy="487" r="4.4" fill="rgb(73,73,73)" opacity="0.91"/><circle cx="443" cy="522" r="5.4" fill="rgb(44,44,44)" opacity="0.86"/><circle cx="729" cy="543" r="3.2" fill="rgb(20,20,20)" opacity="0.75"/><circle cx="682" cy="304" r="4.9" fill="rgb(20,20,20)" opacity="0.84"/><circle cx="681" cy="117" r="3.1" fill="rgb(68,68,68)" opacity="0.67"/><circle cx="210" cy="354" r="3.8" fill="rgb(30,30,30)" opacity="0.80"/><circle cx="403" cy="232" r="2.6" fill="rgb(42,42,42)" opacity="0.78"/><circle cx="226" cy="254" r="3.5" fill="rgb(30,30,30)" opacity="0.91"/><circle cx="891" cy="484" r="3.6" fill="rgb(83,83,83)" opacity="0.79"/><circle cx="814" cy="169" r="2.8" fill="rgb(85,85,85)" opacity="0.66"/><circle cx="365" cy="335" r="3.5" fill="rgb(48,48,48)" opacity="0.81"/><circle cx="258" cy="485" r="3.5" fill="rgb(61,61,61)" opacity="0.81"/><circle cx="571" cy="316" r="3.4" fill="rgb(84,84,84)" opacity="0.71"/><circle cx="984" cy="45" r="5.1" fill="rgb(57,57,57)" opacity="0.88"/><circle cx="885" cy="580" r="3.8" fill="rgb(21,21,21)" opacity="0.65"/><circle cx="708" cy="125" r="3.6" fill="rgb(34,34,34)" opacity="0.91"/><circle cx="385" cy="382" r="4.4" fill="rgb(78,78,78)" opacity="0.95"/><circle cx="754" cy="430" r="3.8" fill="rgb(48,48,48)" opacity="0.92"/><circle cx="559" cy="338" r="3.4" fill="rgb(27,27,27)" opacity="0.84"/><circle cx="680" cy="115" r="4.8" fill="rgb(35,35,35)" opacity="0.67"/><circle cx="733" cy="48" r="3.2" fill="rgb(44,44,44)" opacity="0.66"/><circle cx="257" cy="51" r="3.4" fill="rgb(40,40,40)" opacity="0.94"/><circle cx="770" cy="475" r="4.6" fill="rgb(23,23,23)" opacity="0.88"/><circle cx="670" cy="538" r="2.9" fill="rgb(26,26,26)" opacity="0.78"/><circle cx="170" cy="65" r="2.7" fill="rgb(27,27,27)" opacity="0.86"/><circle cx="637" cy="112" r="2.9" fill="rgb(77,77,77)" opacity="0.72"/><circle cx="449" cy="21" r="4.6" fill="rgb(32,32,32)" opacity="0.78"/><circle cx="668" cy="170" r="3.2" fill="rgb(78,78,78)" opacity="0.70"/><circle cx="437" cy="367" r="2.6" fill="rgb(54,54,54)" opacity="0.81"/><circle cx="240" cy="241" r="4.9" fill="rgb(76,76,76)" opacity="0.71"/><circle cx="761" cy="89" r="2.8" fill="rgb(68,68,68)" opacity="0.88"/><circle cx="552" cy="203" r="4.2" fill="rgb(42,42,42)" opacity="0.89"/><circle cx="584" cy="498" r="2.4" fill="rgb(58,58,58)" opacity="0.79"/><circle cx="712" cy="565" r="5.4" fill="rgb(36,36,36)" opacity="0.83"/><circle cx="406" cy="64" r="4.1" fill="rgb(29,29,29)" opacity="0.66"/><circle cx="681" cy="491" r="3.9" fill="rgb(80,80,80)" opacity="0.91"/><circle cx="292" cy="209" r="5.3" fill="rgb(74,74,74)" opacity="0.94"/><circle cx="544" cy="271" r="3.5" fill="rgb(49,49,49)" opacity="0.87"/><circle cx="904" cy="553" r="3.9" fill="rgb(73,73,73)" opacity="0.70"/><circle cx="850" cy="458" r="2.8" fill="rgb(43,43,43)" opacity="0.67"/><circle cx="488" cy="230" r="3.4" fill="rgb(19,19,19)" opacity="0.77"/><circle cx="230" cy="423" r="4.5" fill="rgb(68,68,68)" opacity="0.73"/><circle cx="394" cy="225" r="4.5" fill="rgb(79,79,79)" opacity="0.75"/><circle cx="985" cy="22" r="5.2" fill="rgb(70,70,70)" opacity="0.75"/><circle cx="400" cy="196" r="3.9" fill="rgb(32,32,32)" opacity="0.67"/><circle cx="173" cy="362" r="3.5" fill="rgb(51,51,51)" opacity="0.85"/><circle cx="757" cy="581" r="4.6" fill="rgb(34,34,34)" opacity="0.89"/><circle cx="226" cy="71" r="3.9" fill="rgb(73,73,73)" opacity="0.88"/></g>
<clipPath id="cpw"><polygon points="152.5,562 290,657 152.5,657"/></clipPath>
<polygon points="146,548 300,655 146,655" fill="#fff" opacity="0.55" filter="url(#blur12)"/>
<rect x="152.5" y="560" width="140" height="97" filter="url(#na2)" clip-path="url(#cpw)"/>
<polyline points="152.5,560 290,654" stroke="#fff" stroke-width="4" fill="none" filter="url(#blur1)"/>
<polyline points="152.5,566 290,659" stroke="#1a1a1a" stroke-width="3" fill="none" filter="url(#blur1)"/>
</g>
<rect x="159.4" y="40" width="137.4" height="133.5" fill="#fff" filter="url(#nbl)"/>
<text x="194.5" y="119.6" font-size="69.0" style="font-family:'Liberation Sans',Arial,sans-serif" fill="#000" textLength="31.0" lengthAdjust="spacingAndGlyphs" stroke="#000" stroke-width="2.6">a</text>
<text x="231.5" y="119.6" font-size="66.0" style="font-family:'Liberation Sans',Arial,sans-serif" fill="#000" stroke="#000" stroke-width="0.6">)</text>
<rect x="636" y="602.5" width="346.5" height="46.5" fill="#fff" stroke="#000" stroke-width="5"/>
<rect x="640.7" y="606" width="335" height="11.8" fill="#000"/>
<text x="809.4" y="643.6" font-size="33.0" style="font-family:'Liberation Sans',Arial,sans-serif" fill="#000" text-anchor="middle" textLength="117.0" lengthAdjust="spacingAndGlyphs">100 nm</text>
<g clip-path="url(#cpb)">
<rect x="831" y="-312" width="1300" height="1300" filter="url(#nb)" transform="rotate(28 1481 338)"/>
<g filter="url(#blur30)">
<ellipse cx="1570" cy="540" rx="140" ry="110" fill="#000" opacity="0.12"/>
<ellipse cx="1140" cy="630" rx="90" ry="50" fill="#000" opacity="0.08"/>
<ellipse cx="1420" cy="170" rx="200" ry="90" fill="#fff" opacity="0.08"/>
<ellipse cx="1130" cy="600" rx="90" ry="60" fill="#000" opacity="0.06"/>
<ellipse cx="1235" cy="315" rx="125" ry="115" fill="#000" opacity="0.12"/>
<ellipse cx="1650" cy="170" rx="90" ry="70" fill="#000" opacity="0.08"/>
</g>
<g filter="url(#blur1)"><circle cx="1737" cy="227" r="2.1" fill="rgb(72,72,72)" opacity="0.82"/><circle cx="1304" cy="628" r="3.2" fill="rgb(35,35,35)" opacity="0.47"/><circle cx="1593" cy="338" r="3.0" fill="rgb(21,21,21)" opacity="0.78"/><circle cx="1479" cy="525" r="2.1" fill="rgb(73,73,73)" opacity="0.57"/><circle cx="1338" cy="93" r="2.6" fill="rgb(36,36,36)" opacity="0.64"/><circle cx="1230" cy="141" r="1.9" fill="rgb(32,32,32)" opacity="0.71"/><circle cx="1824" cy="399" r="2.6" fill="rgb(26,26,26)" opacity="0.78"/><circle cx="1893" cy="491" r="2.8" fill="rgb(74,74,74)" opacity="0.44"/><circle cx="1547" cy="548" r="3.1" fill="rgb(70,70,70)" opacity="0.64"/><circle cx="1146" cy="303" r="2.9" fill="rgb(55,55,55)" opacity="0.84"/><circle cx="1355" cy="357" r="3.0" fill="rgb(69,69,69)" opacity="0.84"/><circle cx="1696" cy="623" r="2.5" fill="rgb(34,34,34)" opacity="0.66"/><circle cx="1398" cy="107" r="2.9" fill="rgb(20,20,20)" opacity="0.83"/><circle cx="1085" cy="335" r="1.9" fill="rgb(42,42,42)" opacity="0.74"/><circle cx="1424" cy="182" r="2.5" fill="rgb(56,56,56)" opacity="0.71"/><circle cx="1103" cy="320" r="2.8" fill="rgb(26,26,26)" opacity="0.47"/><circle cx="1508" cy="29" r="2.5" fill="rgb(42,42,42)" opacity="0.82"/><circle cx="1695" cy="386" r="1.9" fill="rgb(50,50,50)" opacity="0.47"/><circle cx="1762" cy="597" r="2.8" fill="rgb(35,35,35)" opacity="0.44"/><circle cx="1843" cy="91" r="2.3" fill="rgb(50,50,50)" opacity="0.45"/><circle cx="1784" cy="171" r="2.1" fill="rgb(73,73,73)" opacity="0.44"/><circle cx="1195" cy="34" r="3.1" fill="rgb(34,34,34)" opacity="0.70"/><circle cx="1711" cy="637" r="2.6" fill="rgb(66,66,66)" opacity="0.67"/><circle cx="1473" cy="189" r="3.0" fill="rgb(26,26,26)" opacity="0.61"/><circle cx="1409" cy="364" r="2.2" fill="rgb(75,75,75)" opacity="0.49"/><circle cx="1560" cy="63" r="1.8" fill="rgb(29,29,29)" opacity="0.40"/><circle cx="1617" cy="88" r="2.1" fill="rgb(25,25,25)" opacity="0.75"/><circle cx="1196" cy="627" r="2.3" fill="rgb(49,49,49)" opacity="0.79"/><circle cx="1509" cy="541" r="2.4" fill="rgb(76,76,76)" opacity="0.77"/><circle cx="1420" cy="179" r="3.0" fill="rgb(75,75,75)" opacity="0.44"/><circle cx="1502" cy="220" r="2.1" fill="rgb(37,37,37)" opacity="0.84"/><circle cx="1699" cy="658" r="2.5" fill="rgb(67,67,67)" opacity="0.75"/><circle cx="1614" cy="270" r="2.5" fill="rgb(75,75,75)" opacity="0.51"/><circle cx="1883" cy="578" r="3.0" fill="rgb(62,62,62)" opacity="0.54"/><circle cx="1122" cy="450" r="2.0" fill="rgb(43,43,43)" opacity="0.82"/><circle cx="1649" cy="154" r="3.0" fill="rgb(59,59,59)" opacity="0.65"/><circle cx="1633" cy="54" r="1.8" fill="rgb(66,66,66)" opacity="0.83"/><circle cx="1157" cy="461" r="2.0" fill="rgb(70,70,70)" opacity="0.47"/><circle cx="1881" cy="57" r="2.5" fill="rgb(59,59,59)" opacity="0.66"/><circle cx="1377" cy="581" r="2.2" fill="rgb(43,43,43)" opacity="0.60"/><circle cx="1584" cy="561" r="1.9" fill="rgb(67,67,67)" opacity="0.78"/><circle cx="1478" cy="523" r="2.5" fill="rgb(72,72,72)" opacity="0.43"/><circle cx="1059" cy="38" r="2.9" fill="rgb(22,22,22)" opacity="0.81"/><circle cx="1598" cy="185" r="2.6" fill="rgb(36,36,36)" opacity="0.68"/><circle cx="1759" cy="365" r="2.7" fill="rgb(24,24,24)" opacity="0.42"/><circle cx="1907" cy="485" r="2.5" fill="rgb(24,24,24)" opacity="0.48"/><circle cx="1466" cy="365" r="2.9" fill="rgb(40,40,40)" opacity="0.55"/><circle cx="1251" cy="329" r="2.4" fill="rgb(56,56,56)" opacity="0.57"/><circle cx="1617" cy="374" r="2.1" fill="rgb(64,64,64)" opacity="0.44"/><circle cx="1725" cy="438" r="2.7" fill="rgb(61,61,61)" opacity="0.70"/><circle cx="1345" cy="430" r="2.1" fill="rgb(52,52,52)" opacity="0.56"/><circle cx="1603" cy="181" r="2.9" fill="rgb(80,80,80)" opacity="0.47"/><circle cx="1627" cy="550" r="2.5" fill="rgb(48,48,48)" opacity="0.53"/><circle cx="1475" cy="463" r="1.9" fill="rgb(57,57,57)" opacity="0.71"/><circle cx="1293" cy="129" r="1.8" fill="rgb(38,38,38)" opacity="0.66"/><circle cx="1423" cy="354" r="2.4" fill="rgb(45,45,45)" opacity="0.79"/><circle cx="1739" cy="458" r="2.9" fill="rgb(54,54,54)" opacity="0.56"/><circle cx="1473" cy="263" r="2.0" fill="rgb(44,44,44)" opacity="0.79"/><circle cx="1421" cy="499" r="1.8" fill="rgb(58,58,58)" opacity="0.54"/><circle cx="1297" cy="345" r="2.4" fill="rgb(56,56,56)" opacity="0.41"/><circle cx="1120" cy="230" r="3.2" fill="rgb(62,62,62)" opacity="0.52"/><circle cx="1906" cy="88" r="2.3" fill="rgb(27,27,27)" opacity="0.60"/><circle cx="1830" cy="124" r="2.5" fill="rgb(38,38,38)" opacity="0.55"/><circle cx="1863" cy="583" r="2.7" fill="rgb(69,69,69)" opacity="0.76"/><circle cx="1203" cy="291" r="1.8" fill="rgb(57,57,57)" opacity="0.45"/><circle cx="1595" cy="166" r="2.8" fill="rgb(57,57,57)" opacity="0.42"/><circle cx="1851" cy="327" r="2.7" fill="rgb(47,47,47)" opacity="0.81"/><circle cx="1132" cy="55" r="2.3" fill="rgb(49,49,49)" opacity="0.53"/><circle cx="1514" cy="575" r="2.5" fill="rgb(53,53,53)" opacity="0.50"/><circle cx="1806" cy="467" r="2.7" fill="rgb(70,70,70)" opacity="0.66"/><circle cx="1666" cy="124" r="3.0" fill="rgb(70,70,70)" opacity="0.50"/><circle cx="1354" cy="213" r="2.8" fill="rgb(54,54,54)" opacity="0.44"/><circle cx="1216" cy="427" r="2.8" fill="rgb(50,50,50)" opacity="0.83"/><circle cx="1153" cy="325" r="2.8" fill="rgb(66,66,66)" opacity="0.58"/><circle cx="1449" cy="255" r="2.0" fill="rgb(51,51,51)" opacity="0.51"/><circle cx="1743" cy="343" r="2.2" fill="rgb(36,36,36)" opacity="0.55"/><circle cx="1462" cy="491" r="2.1" fill="rgb(71,71,71)" opacity="0.41"/><circle cx="1078" cy="629" r="2.1" fill="rgb(58,58,58)" opacity="0.77"/><circle cx="1076" cy="570" r="3.1" fill="rgb(66,66,66)" opacity="0.74"/><circle cx="1894" cy="164" r="2.5" fill="rgb(69,69,69)" opacity="0.51"/><circle cx="1337" cy="610" r="3.2" fill="rgb(61,61,61)" opacity="0.55"/><circle cx="1562" cy="336" r="3.1" fill="rgb(50,50,50)" opacity="0.83"/><circle cx="1184" cy="37" r="1.9" fill="rgb(30,30,30)" opacity="0.41"/><circle cx="1367" cy="533" r="2.2" fill="rgb(49,49,49)" opacity="0.63"/><circle cx="1763" cy="289" r="3.1" fill="rgb(54,54,54)" opacity="0.44"/><circle cx="1870" cy="318" r="2.0" fill="rgb(43,43,43)" opacity="0.61"/><circle cx="1801" cy="85" r="2.0" fill="rgb(55,55,55)" opacity="0.81"/><circle cx="1699" cy="609" r="2.0" fill="rgb(64,64,64)" opacity="0.57"/><circle cx="1770" cy="183" r="2.0" fill="rgb(37,37,37)" opacity="0.60"/><circle cx="1407" cy="482" r="2.0" fill="rgb(20,20,20)" opacity="0.65"/><circle cx="1824" cy="499" r="3.0" fill="rgb(31,31,31)" opacity="0.72"/><circle cx="1627" cy="526" r="1.8" fill="rgb(65,65,65)" opacity="0.72"/><circle cx="1603" cy="153" r="2.4" fill="rgb(27,27,27)" opacity="0.81"/><circle cx="1748" cy="552" r="3.1" fill="rgb(33,33,33)" opacity="0.69"/><circle cx="1452" cy="176" r="2.2" fill="rgb(45,45,45)" opacity="0.45"/><circle cx="1624" cy="35" r="2.5" fill="rgb(21,21,21)" opacity="0.46"/><circle cx="1414" cy="306" r="2.7" fill="rgb(35,35,35)" opacity="0.71"/><circle cx="1505" cy="513" r="2.9" fill="rgb(65,65,65)" opacity="0.55"/><circle cx="1681" cy="163" r="2.8" fill="rgb(45,45,45)" opacity="0.57"/><circle cx="1394" cy="34" r="2.1" fill="rgb(59,59,59)" opacity="0.49"/><circle cx="1824" cy="89" r="2.6" fill="rgb(53,53,53)" opacity="0.79"/><circle cx="1738" cy="247" r="3.1" fill="rgb(56,56,56)" opacity="0.63"/><circle cx="1890" cy="124" r="2.2" fill="rgb(64,64,64)" opacity="0.46"/><circle cx="1112" cy="58" r="1.8" fill="rgb(69,69,69)" opacity="0.76"/><circle cx="1842" cy="269" r="2.0" fill="rgb(53,53,53)" opacity="0.50"/><circle cx="1823" cy="545" r="2.4" fill="rgb(49,49,49)" opacity="0.58"/><circle cx="1272" cy="566" r="3.0" fill="rgb(22,22,22)" opacity="0.85"/><circle cx="1157" cy="216" r="2.5" fill="rgb(70,70,70)" opacity="0.44"/><circle cx="1312" cy="205" r="2.4" fill="rgb(47,47,47)" opacity="0.50"/><circle cx="1423" cy="66" r="1.8" fill="rgb(47,47,47)" opacity="0.54"/><circle cx="1633" cy="209" r="2.2" fill="rgb(61,61,61)" opacity="0.53"/><circle cx="1128" cy="148" r="3.0" fill="rgb(77,77,77)" opacity="0.41"/><circle cx="1483" cy="96" r="3.0" fill="rgb(75,75,75)" opacity="0.57"/><circle cx="1721" cy="445" r="3.0" fill="rgb(56,56,56)" opacity="0.74"/><circle cx="1377" cy="216" r="2.7" fill="rgb(75,75,75)" opacity="0.65"/><circle cx="1192" cy="159" r="2.3" fill="rgb(80,80,80)" opacity="0.62"/><circle cx="1423" cy="441" r="3.1" fill="rgb(43,43,43)" opacity="0.68"/><circle cx="1313" cy="45" r="1.8" fill="rgb(66,66,66)" opacity="0.79"/><circle cx="1381" cy="568" r="3.1" fill="rgb(35,35,35)" opacity="0.58"/><circle cx="1448" cy="634" r="2.5" fill="rgb(67,67,67)" opacity="0.58"/><circle cx="1774" cy="349" r="1.8" fill="rgb(78,78,78)" opacity="0.71"/><circle cx="1795" cy="289" r="2.1" fill="rgb(58,58,58)" opacity="0.79"/><circle cx="1102" cy="87" r="2.9" fill="rgb(38,38,38)" opacity="0.49"/><circle cx="1346" cy="158" r="2.6" fill="rgb(31,31,31)" opacity="0.55"/><circle cx="1166" cy="371" r="2.3" fill="rgb(77,77,77)" opacity="0.80"/><circle cx="1190" cy="103" r="2.3" fill="rgb(45,45,45)" opacity="0.48"/><circle cx="1729" cy="371" r="3.0" fill="rgb(71,71,71)" opacity="0.82"/><circle cx="1561" cy="288" r="2.9" fill="rgb(64,64,64)" opacity="0.50"/><circle cx="1532" cy="124" r="3.1" fill="rgb(45,45,45)" opacity="0.45"/><circle cx="1187" cy="29" r="2.3" fill="rgb(60,60,60)" opacity="0.75"/><circle cx="1387" cy="429" r="3.1" fill="rgb(62,62,62)" opacity="0.68"/><circle cx="1644" cy="576" r="2.5" fill="rgb(51,51,51)" opacity="0.61"/><circle cx="1088" cy="218" r="2.5" fill="rgb(21,21,21)" opacity="0.43"/><circle cx="1685" cy="545" r="2.5" fill="rgb(27,27,27)" opacity="0.56"/><circle cx="1876" cy="478" r="3.1" fill="rgb(53,53,53)" opacity="0.68"/><circle cx="1173" cy="89" r="2.3" fill="rgb(27,27,27)" opacity="0.52"/><circle cx="1413" cy="337" r="2.2" fill="rgb(27,27,27)" opacity="0.70"/><circle cx="1629" cy="309" r="2.4" fill="rgb(61,61,61)" opacity="0.45"/><circle cx="1770" cy="210" r="1.8" fill="rgb(40,40,40)" opacity="0.61"/><circle cx="1133" cy="307" r="2.6" fill="rgb(35,35,35)" opacity="0.53"/><circle cx="1430" cy="295" r="2.0" fill="rgb(78,78,78)" opacity="0.42"/><circle cx="1522" cy="128" r="3.1" fill="rgb(55,55,55)" opacity="0.62"/><circle cx="1630" cy="381" r="3.1" fill="rgb(75,75,75)" opacity="0.56"/><circle cx="1204" cy="585" r="2.2" fill="rgb(47,47,47)" opacity="0.42"/><circle cx="1369" cy="638" r="1.9" fill="rgb(79,79,79)" opacity="0.78"/><circle cx="1539" cy="166" r="2.9" fill="rgb(22,22,22)" opacity="0.82"/><circle cx="1374" cy="522" r="2.9" fill="rgb(41,41,41)" opacity="0.43"/><circle cx="1328" cy="440" r="1.9" fill="rgb(68,68,68)" opacity="0.79"/><circle cx="1094" cy="369" r="2.3" fill="rgb(23,23,23)" opacity="0.79"/><circle cx="1193" cy="263" r="2.2" fill="rgb(61,61,61)" opacity="0.85"/><circle cx="1823" cy="84" r="2.8" fill="rgb(24,24,24)" opacity="0.81"/><circle cx="1463" cy="434" r="2.9" fill="rgb(63,63,63)" opacity="0.42"/><circle cx="1453" cy="347" r="2.7" fill="rgb(78,78,78)" opacity="0.49"/><circle cx="1108" cy="565" r="2.0" fill="rgb(50,50,50)" opacity="0.82"/><circle cx="1516" cy="250" r="2.6" fill="rgb(45,45,45)" opacity="0.62"/><circle cx="1506" cy="452" r="3.0" fill="rgb(54,54,54)" opacity="0.64"/><circle cx="1822" cy="298" r="2.7" fill="rgb(77,77,77)" opacity="0.72"/><circle cx="1162" cy="321" r="2.1" fill="rgb(77,77,77)" opacity="0.60"/><circle cx="1470" cy="354" r="3.1" fill="rgb(66,66,66)" opacity="0.41"/><circle cx="1718" cy="202" r="2.4" fill="rgb(58,58,58)" opacity="0.51"/><circle cx="1420" cy="425" r="2.7" fill="rgb(50,50,50)" opacity="0.47"/><circle cx="1208" cy="566" r="1.8" fill="rgb(71,71,71)" opacity="0.83"/><circle cx="1251" cy="567" r="3.1" fill="rgb(47,47,47)" opacity="0.57"/><circle cx="1195" cy="252" r="2.6" fill="rgb(29,29,29)" opacity="0.60"/><circle cx="1439" cy="274" r="2.7" fill="rgb(57,57,57)" opacity="0.55"/><circle cx="1550" cy="611" r="2.7" fill="rgb(80,80,80)" opacity="0.65"/><circle cx="1815" cy="205" r="2.2" fill="rgb(42,42,42)" opacity="0.51"/><circle cx="1599" cy="552" r="1.9" fill="rgb(71,71,71)" opacity="0.83"/><circle cx="1740" cy="460" r="2.9" fill="rgb(52,52,52)" opacity="0.59"/><circle cx="1087" cy="169" r="1.9" fill="rgb(37,37,37)" opacity="0.60"/><circle cx="1122" cy="366" r="2.4" fill="rgb(31,31,31)" opacity="0.70"/><circle cx="1858" cy="480" r="2.0" fill="rgb(42,42,42)" opacity="0.78"/><circle cx="1863" cy="265" r="2.5" fill="rgb(58,58,58)" opacity="0.82"/><circle cx="1328" cy="484" r="3.1" fill="rgb(47,47,47)" opacity="0.67"/><circle cx="1697" cy="64" r="3.0" fill="rgb(25,25,25)" opacity="0.79"/><circle cx="1734" cy="207" r="2.5" fill="rgb(55,55,55)" opacity="0.63"/><circle cx="1146" cy="468" r="3.1" fill="rgb(79,79,79)" opacity="0.51"/><circle cx="1489" cy="151" r="1.9" fill="rgb(63,63,63)" opacity="0.73"/><circle cx="1709" cy="290" r="2.7" fill="rgb(77,77,77)" opacity="0.53"/><circle cx="1447" cy="80" r="3.0" fill="rgb(41,41,41)" opacity="0.66"/><circle cx="1248" cy="110" r="2.1" fill="rgb(27,27,27)" opacity="0.46"/><circle cx="1587" cy="91" r="2.3" fill="rgb(63,63,63)" opacity="0.83"/><circle cx="1246" cy="278" r="2.8" fill="rgb(54,54,54)" opacity="0.69"/><circle cx="1307" cy="219" r="2.7" fill="rgb(59,59,59)" opacity="0.41"/><circle cx="1311" cy="600" r="2.1" fill="rgb(49,49,49)" opacity="0.49"/><circle cx="1672" cy="66" r="2.0" fill="rgb(25,25,25)" opacity="0.69"/><circle cx="1662" cy="204" r="3.0" fill="rgb(41,41,41)" opacity="0.52"/><circle cx="1807" cy="35" r="2.1" fill="rgb(26,26,26)" opacity="0.58"/><circle cx="1799" cy="428" r="3.2" fill="rgb(30,30,30)" opacity="0.71"/><circle cx="1071" cy="130" r="2.0" fill="rgb(23,23,23)" opacity="0.51"/><circle cx="1627" cy="526" r="3.1" fill="rgb(65,65,65)" opacity="0.80"/><circle cx="1526" cy="572" r="2.3" fill="rgb(63,63,63)" opacity="0.45"/><circle cx="1624" cy="205" r="2.9" fill="rgb(24,24,24)" opacity="0.74"/><circle cx="1136" cy="300" r="3.0" fill="rgb(20,20,20)" opacity="0.52"/><circle cx="1755" cy="276" r="3.1" fill="rgb(47,47,47)" opacity="0.69"/><circle cx="1773" cy="278" r="2.8" fill="rgb(21,21,21)" opacity="0.83"/><circle cx="1872" cy="605" r="2.7" fill="rgb(67,67,67)" opacity="0.62"/><circle cx="1075" cy="499" r="1.8" fill="rgb(27,27,27)" opacity="0.78"/><circle cx="1458" cy="423" r="1.9" fill="rgb(79,79,79)" opacity="0.49"/><circle cx="1080" cy="56" r="2.1" fill="rgb(44,44,44)" opacity="0.60"/><circle cx="1571" cy="39" r="2.0" fill="rgb(75,75,75)" opacity="0.66"/><circle cx="1705" cy="234" r="2.3" fill="rgb(25,25,25)" opacity="0.80"/><circle cx="1582" cy="398" r="2.8" fill="rgb(25,25,25)" opacity="0.83"/><circle cx="1611" cy="133" r="2.5" fill="rgb(36,36,36)" opacity="0.52"/><circle cx="1372" cy="51" r="3.0" fill="rgb(71,71,71)" opacity="0.72"/><circle cx="1552" cy="44" r="3.1" fill="rgb(28,28,28)" opacity="0.43"/><circle cx="1848" cy="633" r="2.8" fill="rgb(45,45,45)" opacity="0.74"/><circle cx="1815" cy="191" r="2.2" fill="rgb(74,74,74)" opacity="0.64"/><circle cx="1404" cy="179" r="2.4" fill="rgb(20,20,20)" opacity="0.81"/><circle cx="1292" cy="595" r="1.9" fill="rgb(32,32,32)" opacity="0.59"/><circle cx="1366" cy="380" r="1.9" fill="rgb(61,61,61)" opacity="0.82"/><circle cx="1553" cy="592" r="2.9" fill="rgb(47,47,47)" opacity="0.85"/><circle cx="1757" cy="416" r="2.3" fill="rgb(28,28,28)" opacity="0.60"/><circle cx="1581" cy="255" r="2.7" fill="rgb(45,45,45)" opacity="0.66"/><circle cx="1082" cy="343" r="2.4" fill="rgb(44,44,44)" opacity="0.76"/><circle cx="1064" cy="472" r="2.2" fill="rgb(43,43,43)" opacity="0.74"/><circle cx="1280" cy="559" r="2.3" fill="rgb(20,20,20)" opacity="0.45"/><circle cx="1524" cy="98" r="2.8" fill="rgb(30,30,30)" opacity="0.41"/><circle cx="1878" cy="255" r="2.0" fill="rgb(55,55,55)" opacity="0.45"/><circle cx="1663" cy="367" r="2.3" fill="rgb(61,61,61)" opacity="0.67"/><circle cx="1336" cy="631" r="2.8" fill="rgb(55,55,55)" opacity="0.69"/><circle cx="1161" cy="19" r="2.0" fill="rgb(55,55,55)" opacity="0.43"/><circle cx="1561" cy="190" r="3.0" fill="rgb(64,64,64)" opacity="0.81"/><circle cx="1084" cy="631" r="2.9" fill="rgb(30,30,30)" opacity="0.82"/><circle cx="1139" cy="398" r="2.8" fill="rgb(78,78,78)" opacity="0.84"/><circle cx="1445" cy="513" r="1.9" fill="rgb(55,55,55)" opacity="0.55"/><circle cx="1285" cy="437" r="2.9" fill="rgb(51,51,51)" opacity="0.78"/><circle cx="1517" cy="489" r="2.8" fill="rgb(58,58,58)" opacity="0.57"/><circle cx="1564" cy="217" r="2.4" fill="rgb(29,29,29)" opacity="0.71"/><circle cx="1312" cy="103" r="2.1" fill="rgb(30,30,30)" opacity="0.82"/><circle cx="1114" cy="162" r="2.9" fill="rgb(33,33,33)" opacity="0.48"/><circle cx="1322" cy="446" r="2.3" fill="rgb(79,79,79)" opacity="0.72"/><circle cx="1485" cy="338" r="2.2" fill="rgb(46,46,46)" opacity="0.52"/><circle cx="1382" cy="297" r="2.1" fill="rgb(78,78,78)" opacity="0.71"/><circle cx="1516" cy="39" r="2.2" fill="rgb(36,36,36)" opacity="0.82"/><circle cx="1460" cy="27" r="2.0" fill="rgb(29,29,29)" opacity="0.54"/><circle cx="1292" cy="585" r="1.9" fill="rgb(31,31,31)" opacity="0.58"/><circle cx="1410" cy="259" r="2.6" fill="rgb(20,20,20)" opacity="0.77"/><circle cx="1428" cy="429" r="2.0" fill="rgb(64,64,64)" opacity="0.50"/><circle cx="1762" cy="450" r="3.0" fill="rgb(78,78,78)" opacity="0.44"/><circle cx="1269" cy="132" r="2.7" fill="rgb(42,42,42)" opacity="0.59"/><circle cx="1389" cy="103" r="2.9" fill="rgb(72,72,72)" opacity="0.65"/><circle cx="1386" cy="408" r="3.2" fill="rgb(65,65,65)" opacity="0.84"/><circle cx="1361" cy="69" r="2.4" fill="rgb(63,63,63)" opacity="0.66"/><circle cx="1148" cy="26" r="1.9" fill="rgb(30,30,30)" opacity="0.72"/><circle cx="1437" cy="273" r="2.0" fill="rgb(53,53,53)" opacity="0.74"/><circle cx="1894" cy="47" r="1.9" fill="rgb(42,42,42)" opacity="0.59"/><circle cx="1803" cy="642" r="1.9" fill="rgb(73,73,73)" opacity="0.71"/><circle cx="1652" cy="188" r="2.0" fill="rgb(30,30,30)" opacity="0.72"/><circle cx="1697" cy="211" r="2.1" fill="rgb(63,63,63)" opacity="0.58"/><circle cx="1368" cy="429" r="1.9" fill="rgb(27,27,27)" opacity="0.77"/><circle cx="1137" cy="565" r="2.1" fill="rgb(56,56,56)" opacity="0.46"/><circle cx="1736" cy="624" r="2.3" fill="rgb(59,59,59)" opacity="0.44"/><circle cx="1147" cy="499" r="2.2" fill="rgb(54,54,54)" opacity="0.81"/><circle cx="1169" cy="156" r="2.4" fill="rgb(66,66,66)" opacity="0.52"/><circle cx="1500" cy="424" r="2.7" fill="rgb(32,32,32)" opacity="0.61"/><circle cx="1385" cy="186" r="2.0" fill="rgb(49,49,49)" opacity="0.79"/><circle cx="1610" cy="128" r="3.0" fill="rgb(27,27,27)" opacity="0.57"/><circle cx="1467" cy="207" r="3.2" fill="rgb(58,58,58)" opacity="0.75"/><circle cx="1308" cy="271" r="3.0" fill="rgb(44,44,44)" opacity="0.83"/><circle cx="1372" cy="120" r="2.3" fill="rgb(72,72,72)" opacity="0.51"/><circle cx="1353" cy="95" r="3.1" fill="rgb(26,26,26)" opacity="0.41"/><circle cx="1103" cy="94" r="2.5" fill="rgb(44,44,44)" opacity="0.72"/><circle cx="1876" cy="207" r="2.6" fill="rgb(49,49,49)" opacity="0.79"/><circle cx="1494" cy="402" r="3.0" fill="rgb(79,79,79)" opacity="0.76"/><circle cx="1716" cy="81" r="2.3" fill="rgb(38,38,38)" opacity="0.41"/><circle cx="1146" cy="83" r="2.0" fill="rgb(64,64,64)" opacity="0.42"/><circle cx="1190" cy="266" r="2.0" fill="rgb(26,26,26)" opacity="0.49"/><circle cx="1409" cy="454" r="2.9" fill="rgb(62,62,62)" opacity="0.69"/><circle cx="1230" cy="121" r="3.2" fill="rgb(74,74,74)" opacity="0.45"/><circle cx="1081" cy="566" r="2.9" fill="rgb(76,76,76)" opacity="0.68"/><circle cx="1539" cy="243" r="2.4" fill="rgb(47,47,47)" opacity="0.62"/><circle cx="1106" cy="139" r="2.5" fill="rgb(32,32,32)" opacity="0.70"/><circle cx="1522" cy="617" r="2.4" fill="rgb(39,39,39)" opacity="0.82"/><circle cx="1150" cy="212" r="1.9" fill="rgb(23,23,23)" opacity="0.57"/><circle cx="1556" cy="534" r="3.1" fill="rgb(20,20,20)" opacity="0.52"/><circle cx="1799" cy="192" r="2.5" fill="rgb(24,24,24)" opacity="0.44"/><circle cx="1177" cy="598" r="2.9" fill="rgb(57,57,57)" opacity="0.46"/><circle cx="1127" cy="391" r="2.6" fill="rgb(36,36,36)" opacity="0.78"/><circle cx="1760" cy="367" r="2.5" fill="rgb(22,22,22)" opacity="0.54"/><circle cx="1217" cy="51" r="2.6" fill="rgb(35,35,35)" opacity="0.84"/><circle cx="1119" cy="449" r="2.5" fill="rgb(48,48,48)" opacity="0.66"/><circle cx="1457" cy="140" r="2.3" fill="rgb(63,63,63)" opacity="0.81"/><circle cx="1089" cy="275" r="2.3" fill="rgb(73,73,73)" opacity="0.78"/><circle cx="1848" cy="150" r="2.8" fill="rgb(47,47,47)" opacity="0.73"/><circle cx="1263" cy="119" r="2.1" fill="rgb(62,62,62)" opacity="0.81"/><circle cx="1239" cy="109" r="3.0" fill="rgb(43,43,43)" opacity="0.51"/><circle cx="1379" cy="654" r="1.9" fill="rgb(41,41,41)" opacity="0.71"/><circle cx="1838" cy="446" r="2.8" fill="rgb(66,66,66)" opacity="0.77"/><circle cx="1233" cy="57" r="2.8" fill="rgb(53,53,53)" opacity="0.73"/><circle cx="1577" cy="412" r="2.0" fill="rgb(37,37,37)" opacity="0.47"/><circle cx="1565" cy="375" r="2.1" fill="rgb(68,68,68)" opacity="0.80"/><circle cx="1861" cy="247" r="3.0" fill="rgb(37,37,37)" opacity="0.75"/><circle cx="1392" cy="483" r="2.1" fill="rgb(35,35,35)" opacity="0.78"/><circle cx="1195" cy="365" r="1.9" fill="rgb(20,20,20)" opacity="0.66"/><circle cx="1305" cy="453" r="2.8" fill="rgb(30,30,30)" opacity="0.69"/><circle cx="1854" cy="453" r="2.5" fill="rgb(43,43,43)" opacity="0.52"/><circle cx="1093" cy="69" r="2.0" fill="rgb(78,78,78)" opacity="0.45"/><circle cx="1262" cy="444" r="3.0" fill="rgb(56,56,56)" opacity="0.74"/><circle cx="1634" cy="119" r="2.2" fill="rgb(61,61,61)" opacity="0.60"/></g>
<polygon points="1058,20 1262,20 1230,45 1180,110 1131,172 1095,198 1058,228" fill="#333" opacity="0.4" filter="url(#blur3)"/>
<polyline points="1058,232 1095,202 1133,176 1182,113 1232,47 1262,24 1500,26 1779,24" stroke="#fff" stroke-width="5" opacity="0.55" fill="none" filter="url(#blur3)"/>
<ellipse cx="1258" cy="62" rx="32" ry="30" fill="#333" opacity="0.5" filter="url(#blur3)"/>
<path d="M1779,18 L1906,18 L1906,141 L1876,146.5 L1842,136 L1812,121 L1794,96 L1787,64 Z" fill="#111"/>
<path d="M1860,18 L1906,18 L1906,110 L1880,60 Z" fill="#555" filter="url(#blur12)" opacity="0.8"/>
<polyline points="1779,22 1787,64 1794,96 1812,121 1842,136 1876,147 1906,141" stroke="#eee" stroke-width="4" fill="none" transform="translate(-3,4)" filter="url(#blur1)"/>
</g>
<rect x="1088.4" y="42.1" width="138.3" height="133.4" fill="#fff" filter="url(#nbl)"/>
<clipPath id="cplb"><rect x="1088.4" y="42.1" width="138.3" height="133.4"/></clipPath>
<g clip-path="url(#cplb)"><rect x="1088.4" y="42.1" width="138.3" height="133.4" fill="#9a9a9a" opacity="0.28"/><polygon points="1122,180 1232,180 1232,36 1200,36" fill="#fff" opacity="0.5" filter="url(#blur3)"/><polygon points="1084,180 1128,180 1084,118" fill="#999" opacity="0.35" filter="url(#blur3)"/></g>
<text x="1122.0" y="121.4" font-size="66.0" style="font-family:'Liberation Sans',Arial,sans-serif" fill="#000" stroke="#000" stroke-width="1">b)</text>
<rect x="1543.2" y="602.5" width="344.5" height="46.5" fill="#fff" stroke="#000" stroke-width="5"/>
<rect x="1548" y="606" width="334" height="11.8" fill="#000"/>
<text x="1715.3" y="643.6" font-size="33.0" style="font-family:'Liberation Sans',Arial,sans-serif" fill="#000" text-anchor="middle" textLength="117.5" lengthAdjust="spacingAndGlyphs">100 nm</text>
<g clip-path="url(#cpc)"><rect x="282.1" y="1235.5" width="22.4" height="92.5" fill="url(#bg)" stroke="#00ffff" stroke-width="2.4"/><rect x="309.2" y="995.3" width="22.4" height="332.7" fill="url(#bg)" stroke="#00ffff" stroke-width="2.4"/><rect x="336.4" y="845.9" width="22.4" height="482.1" fill="url(#bg)" stroke="#00ffff" stroke-width="2.4"/><rect x="363.5" y="769.8" width="22.4" height="558.2" fill="url(#bg)" stroke="#00ffff" stroke-width="2.4"/><rect x="390.7" y="986.5" width="22.4" height="341.5" fill="url(#bg)" stroke="#00ffff" stroke-width="2.4"/><rect x="417.8" y="1001.2" width="22.4" height="326.8" fill="url(#bg)" stroke="#00ffff" stroke-width="2.4"/><rect x="444.9" y="1036.3" width="22.4" height="291.7" fill="url(#bg)" stroke="#00ffff" stroke-width="2.4"/><rect x="472.1" y="1159.3" width="22.4" height="168.7" fill="url(#bg)" stroke="#00ffff" stroke-width="2.4"/><rect x="499.2" y="1188.6" width="22.4" height="139.4" fill="url(#bg)" stroke="#00ffff" stroke-width="2.4"/><rect x="526.4" y="1229.6" width="22.4" height="98.4" fill="url(#bg)" stroke="#00ffff" stroke-width="2.4"/><rect x="553.5" y="1270.6" width="22.4" height="57.4" fill="url(#bg)" stroke="#00ffff" stroke-width="2.4"/><rect x="580.6" y="1285.3" width="22.4" height="42.7" fill="url(#bg)" stroke="#00ffff" stroke-width="2.4"/><rect x="607.8" y="1311.6" width="22.4" height="16.4" fill="url(#bg)" stroke="#00ffff" stroke-width="2.4"/><rect x="634.9" y="1320.4" width="22.4" height="7.6" fill="url(#bg)" stroke="#00ffff" stroke-width="2.4"/><rect x="662.1" y="1317.5" width="22.4" height="10.5" fill="url(#bg)" stroke="#00ffff" stroke-width="2.4"/><rect x="689.2" y="1317.5" width="22.4" height="10.5" fill="url(#bg)" stroke="#00ffff" stroke-width="2.4"/><rect x="716.3" y="1320.4" width="22.4" height="7.6" fill="url(#bg)" stroke="#00ffff" stroke-width="2.4"/><rect x="743.5" y="1320.4" width="22.4" height="7.6" fill="url(#bg)" stroke="#00ffff" stroke-width="2.4"/><rect x="797.8" y="1320.4" width="22.4" height="7.6" fill="url(#bg)" stroke="#00ffff" stroke-width="2.4"/></g>
<polyline points="293.5,1126.2 295.4,1119.1 297.3,1111.8 299.2,1104.5 301.1,1097.0 303.0,1089.5 304.9,1081.9 306.8,1074.2 308.7,1066.4 310.6,1058.6 312.5,1050.8 314.5,1042.9 316.4,1035.0 318.3,1027.1 320.2,1019.2 322.1,1011.3 324.0,1003.5 325.9,995.7 327.8,988.0 329.7,980.4 331.6,972.9 333.5,965.4 335.4,958.1 337.3,951.0 339.3,944.0 341.2,937.1 343.1,930.5 345.0,924.0 346.9,917.8 348.8,911.8 350.7,906.0 352.6,900.5 354.5,895.2 356.4,890.2 358.3,885.6 360.2,881.2 362.2,877.1 364.1,873.3 366.0,869.9 367.9,866.8 369.8,864.1 371.7,861.7 373.6,859.6 375.5,858.0 377.4,856.6 379.3,855.7 381.2,855.2 383.1,855.0 385.0,855.2 387.0,855.7 388.9,856.6 390.8,858.0 392.7,859.6 394.6,861.7 396.5,864.1 398.4,866.8 400.3,869.9 402.2,873.3 404.1,877.1 406.0,881.2 407.9,885.6 409.9,890.2 411.8,895.2 413.7,900.5 415.6,906.0 417.5,911.8 419.4,917.8 421.3,924.0 423.2,930.5 425.1,937.1 427.0,944.0 428.9,951.0 430.8,958.1 432.7,965.4 434.7,972.9 436.6,980.4 438.5,988.0 440.4,995.7 442.3,1003.5 444.2,1011.3 446.1,1019.2 448.0,1027.1 449.9,1035.0 451.8,1042.9 453.7,1050.8 455.6,1058.6 457.6,1066.4 459.5,1074.2 461.4,1081.9 463.3,1089.5 465.2,1097.0 467.1,1104.5 469.0,1111.8 470.9,1119.1 472.8,1126.2 474.7,1133.2 476.6,1140.0 478.5,1146.8 480.4,1153.4 482.4,1159.8 484.3,1166.1 486.2,1172.2 488.1,1178.2 490.0,1184.0 491.9,1189.6 493.8,1195.1 495.7,1200.4 497.6,1205.6 499.5,1210.6 501.4,1215.4 503.3,1220.0 505.3,1224.5 507.2,1228.8 509.1,1233.0 511.0,1237.0 512.9,1240.8 514.8,1244.5 516.7,1248.0 518.6,1251.4 520.5,1254.6 522.4,1257.7 524.3,1260.6 526.2,1263.4 528.1,1266.1 530.1,1268.6 532.0,1271.1 533.9,1273.3 535.8,1275.5 537.7,1277.6 539.6,1279.5 541.5,1281.4 543.4,1283.1 545.3,1284.8 547.2,1286.3 549.1,1287.8 551.0,1289.2 553.0,1290.5 554.9,1291.7 556.8,1292.8 558.7,1293.9 560.6,1294.9 562.5,1295.8 564.4,1296.7 566.3,1297.5 568.2,1298.3 570.1,1299.0 572.0,1299.7 573.9,1300.3 575.8,1300.9 577.8,1301.4 579.7,1301.9 581.6,1302.4 583.5,1302.8 585.4,1303.2 587.3,1303.5 589.2,1303.9 591.1,1304.2 593.0,1304.5 594.9,1304.7 596.8,1305.0 598.7,1305.2 600.7,1305.4 602.6,1305.6 604.5,1305.8 606.4,1305.9 608.3,1306.1 610.2,1306.2 612.1,1306.3 614.0,1306.4 615.9,1306.5 617.8,1306.6 619.7,1306.7 621.6,1306.8 623.5,1306.9 625.5,1306.9 627.4,1307.0 629.3,1307.0 631.2,1307.1 633.1,1307.1 635.0,1307.2 636.9,1307.2 638.8,1307.2 640.7,1307.3 642.6,1307.3 644.5,1307.3 646.4,1307.3 648.4,1307.3 650.3,1307.4 652.2,1307.4 654.1,1307.4 656.0,1307.4 657.9,1307.4 659.8,1307.4 661.7,1307.4 663.6,1307.4 665.5,1307.4 667.4,1307.5 669.3,1307.5 671.2,1307.5 673.2,1307.5 675.1,1307.5 677.0,1307.5 678.9,1307.5 680.8,1307.5 682.7,1307.5 684.6,1307.5 686.5,1307.5 688.4,1307.5 690.3,1307.5 692.2,1307.5 694.1,1307.5 696.1,1307.5 698.0,1307.5 699.9,1307.5 701.8,1307.5 703.7,1307.5 705.6,1307.5 707.5,1307.5 709.4,1307.5 711.3,1307.5 713.2,1307.5 715.1,1307.5 717.0,1307.5 718.9,1307.5 720.9,1307.5 722.8,1307.5 724.7,1307.5 726.6,1307.5 728.5,1307.5 730.4,1307.5 732.3,1307.5 734.2,1307.5 736.1,1307.5 738.0,1307.5 739.9,1307.5 741.8,1307.5 743.8,1307.5 745.7,1307.5 747.6,1307.5 749.5,1307.5 751.4,1307.5 753.3,1307.5 755.2,1307.5 757.1,1307.5 759.0,1307.5 760.9,1307.5 762.8,1307.5 764.7,1307.5 766.6,1307.5 768.6,1307.5 770.5,1307.5 772.4,1307.5 774.3,1307.5 776.2,1307.5 778.1,1307.5 780.0,1307.5 781.9,1307.5 783.8,1307.5 785.7,1307.5 787.6,1307.5 789.5,1307.5 791.5,1307.5 793.4,1307.5 795.3,1307.5 797.2,1307.5 799.1,1307.5 801.0,1307.5 802.9,1307.5 804.8,1307.5 806.7,1307.5 808.6,1307.5 810.5,1307.5 812.4,1307.5" fill="none" stroke="#0000ff" stroke-width="6" stroke-linejoin="round"/>
<rect x="230.5" y="712.0" width="763.8" height="616.0" fill="none" stroke="#000" stroke-width="3.6"/>
<path d="M219.0,1328.0H230.5M219.0,1181.5H230.5M219.0,1035.1H230.5M219.0,888.7H230.5M219.0,742.2H230.5M224.5,1254.8H230.5M224.5,1108.3H230.5M224.5,961.9H230.5M224.5,815.4H230.5" stroke="#000" stroke-width="3.4" fill="none"/>
<path d="M230.5,1328.0V1339.5M325.9,1328.0V1339.5M421.3,1328.0V1339.5M516.7,1328.0V1339.5M612.1,1328.0V1339.5M707.5,1328.0V1339.5M802.9,1328.0V1339.5M898.3,1328.0V1339.5M993.7,1328.0V1339.5M278.2,1328.0V1334.0M373.6,1328.0V1334.0M469.0,1328.0V1334.0M564.4,1328.0V1334.0M659.8,1328.0V1334.0M755.2,1328.0V1334.0M850.6,1328.0V1334.0M946.0,1328.0V1334.0" stroke="#000" stroke-width="3.4" fill="none"/>
<text x="210.5" y="1339.6" font-size="44.0" style="font-family:'Liberation Sans',Arial,sans-serif;font-weight:bold" fill="#000" text-anchor="end" textLength="23.6" lengthAdjust="spacingAndGlyphs">0</text>
<text x="210.5" y="1193.1" font-size="44.0" style="font-family:'Liberation Sans',Arial,sans-serif;font-weight:bold" fill="#000" text-anchor="end" textLength="47.2" lengthAdjust="spacingAndGlyphs">50</text>
<text x="210.5" y="1046.7" font-size="44.0" style="font-family:'Liberation Sans',Arial,sans-serif;font-weight:bold" fill="#000" text-anchor="end" textLength="70.8" lengthAdjust="spacingAndGlyphs">100</text>
<text x="210.5" y="900.3" font-size="44.0" style="font-family:'Liberation Sans',Arial,sans-serif;font-weight:bold" fill="#000" text-anchor="end" textLength="70.8" lengthAdjust="spacingAndGlyphs">150</text>
<text x="210.5" y="753.8" font-size="44.0" style="font-family:'Liberation Sans',Arial,sans-serif;font-weight:bold" fill="#000" text-anchor="end" textLength="70.8" lengthAdjust="spacingAndGlyphs">200</text>
<text x="231.3" y="1376.0" font-size="39.5" style="font-family:'Liberation Sans',Arial,sans-serif;font-weight:bold" fill="#000" text-anchor="middle" textLength="23.6" lengthAdjust="spacingAndGlyphs">0</text>
<text x="326.7" y="1376.0" font-size="39.5" style="font-family:'Liberation Sans',Arial,sans-serif;font-weight:bold" fill="#000" text-anchor="middle" textLength="23.6" lengthAdjust="spacingAndGlyphs">2</text>
<text x="422.1" y="1376.0" font-size="39.5" style="font-family:'Liberation Sans',Arial,sans-serif;font-weight:bold" fill="#000" text-anchor="middle" textLength="23.6" lengthAdjust="spacingAndGlyphs">4</text>
<text x="517.5" y="1376.0" font-size="39.5" style="font-family:'Liberation Sans',Arial,sans-serif;font-weight:bold" fill="#000" text-anchor="middle" textLength="23.6" lengthAdjust="spacingAndGlyphs">6</text>
<text x="612.9" y="1376.0" font-size="39.5" style="font-family:'Liberation Sans',Arial,sans-serif;font-weight:bold" fill="#000" text-anchor="middle" textLength="23.6" lengthAdjust="spacingAndGlyphs">8</text>
<text x="708.3" y="1376.0" font-size="39.5" style="font-family:'Liberation Sans',Arial,sans-serif;font-weight:bold" fill="#000" text-anchor="middle" textLength="45.2" lengthAdjust="spacingAndGlyphs">10</text>
<text x="803.7" y="1376.0" font-size="39.5" style="font-family:'Liberation Sans',Arial,sans-serif;font-weight:bold" fill="#000" text-anchor="middle" textLength="45.2" lengthAdjust="spacingAndGlyphs">12</text>
<text x="899.1" y="1376.0" font-size="39.5" style="font-family:'Liberation Sans',Arial,sans-serif;font-weight:bold" fill="#000" text-anchor="middle" textLength="45.2" lengthAdjust="spacingAndGlyphs">14</text>
<text x="994.5" y="1376.0" font-size="39.5" style="font-family:'Liberation Sans',Arial,sans-serif;font-weight:bold" fill="#000" text-anchor="middle" textLength="45.2" lengthAdjust="spacingAndGlyphs">16</text>
<text transform="translate(128.5,1018.9) rotate(-90)" x="0" y="0" font-size="47.5" style="font-family:'Liberation Sans',Arial,sans-serif;font-weight:bold" fill="#000" text-anchor="middle" textLength="127.0" lengthAdjust="spacingAndGlyphs">Counts</text>
<text x="585.2" y="1436.1" font-size="41.0" style="font-family:'Liberation Sans',Arial,sans-serif;font-weight:bold" fill="#000" text-anchor="middle" textLength="260.0" lengthAdjust="spacingAndGlyphs">Diameter (nm)</text>
<text x="262.0" y="808.0" font-size="68.0" style="font-family:'Liberation Sans',Arial,sans-serif" fill="#000" stroke="#000" stroke-width="0.9">c)</text>
<text x="812.6" y="786.9" font-size="51.5" style="font-family:'Liberation Sans',Arial,sans-serif" fill="#000" text-anchor="middle" textLength="187.0" lengthAdjust="spacingAndGlyphs" stroke="#000" stroke-width="0.9"><tspan stroke-width="2.4">N=</tspan> 1016</text>
<text x="811.8" y="855.0" font-size="51.5" style="font-family:'Liberation Sans',Arial,sans-serif" fill="#000" text-anchor="middle" textLength="284.0" lengthAdjust="spacingAndGlyphs" stroke="#000" stroke-width="0.9">3.2 <tspan stroke-width="0" font-size="60" dy="1">&#177;</tspan><tspan dy="-1"> </tspan> 0.1 nm</text>
<g clip-path="url(#cpd)"><rect x="1171.4" y="1155.8" width="38.4" height="168.6" fill="url(#bg)" stroke="#00ffff" stroke-width="2.4"/><rect x="1219.0" y="1067.5" width="38.4" height="256.8" fill="url(#bg)" stroke="#00ffff" stroke-width="2.4"/><rect x="1266.5" y="809.5" width="38.4" height="514.8" fill="url(#bg)" stroke="#00ffff" stroke-width="2.4"/><rect x="1314.1" y="945.3" width="38.4" height="379.0" fill="url(#bg)" stroke="#00ffff" stroke-width="2.4"/><rect x="1361.6" y="986.0" width="38.4" height="338.3" fill="url(#bg)" stroke="#00ffff" stroke-width="2.4"/><rect x="1409.2" y="992.8" width="38.4" height="331.5" fill="url(#bg)" stroke="#00ffff" stroke-width="2.4"/><rect x="1456.8" y="775.5" width="38.4" height="548.8" fill="url(#bg)" stroke="#00ffff" stroke-width="2.4"/><rect x="1504.3" y="938.5" width="38.4" height="385.8" fill="url(#bg)" stroke="#00ffff" stroke-width="2.4"/><rect x="1551.9" y="1108.2" width="38.4" height="216.1" fill="url(#bg)" stroke="#00ffff" stroke-width="2.4"/><rect x="1599.4" y="1013.2" width="38.4" height="311.1" fill="url(#bg)" stroke="#00ffff" stroke-width="2.4"/><rect x="1647.0" y="1135.4" width="38.4" height="188.9" fill="url(#bg)" stroke="#00ffff" stroke-width="2.4"/><rect x="1694.6" y="1210.1" width="38.4" height="114.2" fill="url(#bg)" stroke="#00ffff" stroke-width="2.4"/><rect x="1742.1" y="1169.3" width="38.4" height="155.0" fill="url(#bg)" stroke="#00ffff" stroke-width="2.4"/><rect x="1789.7" y="1210.1" width="38.4" height="114.2" fill="url(#bg)" stroke="#00ffff" stroke-width="2.4"/><rect x="1837.2" y="1257.6" width="38.4" height="66.7" fill="url(#bg)" stroke="#00ffff" stroke-width="2.4"/><rect x="1884.8" y="1284.8" width="38.4" height="39.5" fill="url(#bg)" stroke="#00ffff" stroke-width="2.4"/></g>
<polyline points="1192.6,1081.6 1194.9,1078.9 1197.3,1076.1 1199.7,1073.4 1202.1,1070.6 1204.4,1067.9 1206.8,1065.1 1209.2,1062.3 1211.5,1059.6 1213.9,1056.8 1216.3,1054.1 1218.6,1051.3 1221.0,1048.6 1223.4,1045.9 1225.7,1043.1 1228.1,1040.4 1230.5,1037.7 1232.9,1035.0 1235.2,1032.3 1237.6,1029.6 1240.0,1027.0 1242.3,1024.3 1244.7,1021.6 1247.1,1019.0 1249.4,1016.4 1251.8,1013.8 1254.2,1011.2 1256.5,1008.6 1258.9,1006.0 1261.3,1003.5 1263.7,1000.9 1266.0,998.4 1268.4,995.9 1270.8,993.5 1273.1,991.0 1275.5,988.6 1277.9,986.2 1280.2,983.8 1282.6,981.4 1285.0,979.1 1287.3,976.8 1289.7,974.5 1292.1,972.2 1294.4,970.0 1296.8,967.8 1299.2,965.6 1301.6,963.5 1303.9,961.3 1306.3,959.3 1308.7,957.2 1311.0,955.2 1313.4,953.2 1315.8,951.2 1318.1,949.3 1320.5,947.4 1322.9,945.6 1325.2,943.8 1327.6,942.0 1330.0,940.2 1332.4,938.5 1334.7,936.9 1337.1,935.2 1339.5,933.6 1341.8,932.1 1344.2,930.6 1346.6,929.1 1348.9,927.7 1351.3,926.3 1353.7,925.0 1356.0,923.7 1358.4,922.4 1360.8,921.2 1363.1,920.0 1365.5,918.9 1367.9,917.8 1370.3,916.8 1372.6,915.8 1375.0,914.9 1377.4,914.0 1379.7,913.1 1382.1,912.3 1384.5,911.6 1386.8,910.9 1389.2,910.2 1391.6,909.6 1393.9,909.0 1396.3,908.5 1398.7,908.0 1401.1,907.6 1403.4,907.2 1405.8,906.9 1408.2,906.7 1410.5,906.4 1412.9,906.3 1415.3,906.1 1417.6,906.1 1420.0,906.0 1422.4,906.1 1424.7,906.1 1427.1,906.3 1429.5,906.4 1431.8,906.7 1434.2,906.9 1436.6,907.2 1439.0,907.6 1441.3,908.0 1443.7,908.5 1446.1,909.0 1448.4,909.6 1450.8,910.2 1453.2,910.9 1455.5,911.6 1457.9,912.3 1460.3,913.1 1462.6,914.0 1465.0,914.9 1467.4,915.8 1469.8,916.8 1472.1,917.8 1474.5,918.9 1476.9,920.0 1479.2,921.2 1481.6,922.4 1484.0,923.7 1486.3,925.0 1488.7,926.3 1491.1,927.7 1493.4,929.1 1495.8,930.6 1498.2,932.1 1500.5,933.6 1502.9,935.2 1505.3,936.9 1507.7,938.5 1510.0,940.2 1512.4,942.0 1514.8,943.8 1517.1,945.6 1519.5,947.4 1521.9,949.3 1524.2,951.2 1526.6,953.2 1529.0,955.2 1531.3,957.2 1533.7,959.3 1536.1,961.3 1538.5,963.5 1540.8,965.6 1543.2,967.8 1545.6,970.0 1547.9,972.2 1550.3,974.5 1552.7,976.8 1555.0,979.1 1557.4,981.4 1559.8,983.8 1562.1,986.2 1564.5,988.6 1566.9,991.0 1569.3,993.5 1571.6,995.9 1574.0,998.4 1576.4,1000.9 1578.7,1003.5 1581.1,1006.0 1583.5,1008.6 1585.8,1011.2 1588.2,1013.8 1590.6,1016.4 1592.9,1019.0 1595.3,1021.6 1597.7,1024.3 1600.0,1027.0 1602.4,1029.6 1604.8,1032.3 1607.2,1035.0 1609.5,1037.7 1611.9,1040.4 1614.3,1043.1 1616.6,1045.9 1619.0,1048.6 1621.4,1051.3 1623.7,1054.1 1626.1,1056.8 1628.5,1059.6 1630.8,1062.3 1633.2,1065.1 1635.6,1067.9 1638.0,1070.6 1640.3,1073.4 1642.7,1076.1 1645.1,1078.9 1647.4,1081.6 1649.8,1084.4 1652.2,1087.1 1654.5,1089.9 1656.9,1092.6 1659.3,1095.4 1661.6,1098.1 1664.0,1100.8 1666.4,1103.5 1668.7,1106.2 1671.1,1108.9 1673.5,1111.6 1675.9,1114.3 1678.2,1117.0 1680.6,1119.6 1683.0,1122.3 1685.3,1124.9 1687.7,1127.6 1690.1,1130.2 1692.4,1132.8 1694.8,1135.4 1697.2,1138.0 1699.5,1140.6 1701.9,1143.1 1704.3,1145.6 1706.7,1148.2 1709.0,1150.7 1711.4,1153.2 1713.8,1155.7 1716.1,1158.1 1718.5,1160.6 1720.9,1163.0 1723.2,1165.4 1725.6,1167.8 1728.0,1170.2 1730.3,1172.5 1732.7,1174.9 1735.1,1177.2 1737.5,1179.5 1739.8,1181.8 1742.2,1184.0 1744.6,1186.3 1746.9,1188.5 1749.3,1190.7 1751.7,1192.9 1754.0,1195.1 1756.4,1197.2 1758.8,1199.3 1761.1,1201.4 1763.5,1203.5 1765.9,1205.6 1768.2,1207.6 1770.6,1209.6 1773.0,1211.6 1775.4,1213.6 1777.7,1215.5 1780.1,1217.5 1782.5,1219.4 1784.8,1221.3 1787.2,1223.1 1789.6,1225.0 1791.9,1226.8 1794.3,1228.6 1796.7,1230.4 1799.0,1232.1 1801.4,1233.8 1803.8,1235.6 1806.2,1237.2 1808.5,1238.9 1810.9,1240.6 1813.3,1242.2 1815.6,1243.8 1818.0,1245.3 1820.4,1246.9 1822.7,1248.4 1825.1,1250.0 1827.5,1251.4 1829.8,1252.9 1832.2,1254.4 1834.6,1255.8 1836.9,1257.2 1839.3,1258.6 1841.7,1259.9 1844.1,1261.3 1846.4,1262.6 1848.8,1263.9 1851.2,1265.2 1853.5,1266.5 1855.9,1267.7 1858.3,1268.9 1860.6,1270.1 1863.0,1271.3 1865.4,1272.5 1867.7,1273.6 1870.1,1274.7 1872.5,1275.8 1874.9,1276.9 1877.2,1278.0 1879.6,1279.0 1882.0,1280.1 1884.3,1281.1 1886.7,1282.1 1889.1,1283.0 1891.4,1284.0 1893.8,1284.9 1896.2,1285.8 1898.5,1286.8 1900.9,1287.6 1903.3,1288.5" fill="none" stroke="#0000ff" stroke-width="6" stroke-linejoin="round"/>
<rect x="1145.2" y="713.0" width="758.0999999999999" height="611.3" fill="none" stroke="#000" stroke-width="2.6"/>
<path d="M1134.2,1324.3H1145.2M1134.2,1154.5H1145.2M1134.2,984.8H1145.2M1134.2,815.0H1145.2M1139.2,1239.4H1145.2M1139.2,1069.7H1145.2M1139.2,899.9H1145.2M1139.2,730.2H1145.2" stroke="#000" stroke-width="2.6" fill="none"/>
<path d="M1145.2,1324.3V1335.3M1240.0,1324.3V1335.3M1334.7,1324.3V1335.3M1429.5,1324.3V1335.3M1524.2,1324.3V1335.3M1619.0,1324.3V1335.3M1713.8,1324.3V1335.3M1808.5,1324.3V1335.3M1903.3,1324.3V1335.3M1192.6,1324.3V1330.3M1287.3,1324.3V1330.3M1382.1,1324.3V1330.3M1476.9,1324.3V1330.3M1571.6,1324.3V1330.3M1666.4,1324.3V1330.3M1761.1,1324.3V1330.3M1855.9,1324.3V1330.3" stroke="#000" stroke-width="2.6" fill="none"/>
<text x="1124.0" y="1334.9" font-size="44.0" style="font-family:'Liberation Sans',Arial,sans-serif;font-weight:bold" fill="#000" text-anchor="end" textLength="23.6" lengthAdjust="spacingAndGlyphs">0</text>
<text x="1124.0" y="1165.1" font-size="44.0" style="font-family:'Liberation Sans',Arial,sans-serif;font-weight:bold" fill="#000" text-anchor="end" textLength="47.2" lengthAdjust="spacingAndGlyphs">25</text>
<text x="1124.0" y="995.4" font-size="44.0" style="font-family:'Liberation Sans',Arial,sans-serif;font-weight:bold" fill="#000" text-anchor="end" textLength="47.2" lengthAdjust="spacingAndGlyphs">50</text>
<text x="1124.0" y="825.6" font-size="44.0" style="font-family:'Liberation Sans',Arial,sans-serif;font-weight:bold" fill="#000" text-anchor="end" textLength="47.2" lengthAdjust="spacingAndGlyphs">75</text>
<text x="1143.4" y="1376.0" font-size="42.0" style="font-family:'Liberation Sans',Arial,sans-serif;font-weight:bold" fill="#000" text-anchor="middle" textLength="25.0" lengthAdjust="spacingAndGlyphs">0</text>
<text x="1238.4" y="1376.0" font-size="42.0" style="font-family:'Liberation Sans',Arial,sans-serif;font-weight:bold" fill="#000" text-anchor="middle" textLength="25.0" lengthAdjust="spacingAndGlyphs">2</text>
<text x="1333.4" y="1376.0" font-size="42.0" style="font-family:'Liberation Sans',Arial,sans-serif;font-weight:bold" fill="#000" text-anchor="middle" textLength="25.0" lengthAdjust="spacingAndGlyphs">4</text>
<text x="1428.4" y="1376.0" font-size="42.0" style="font-family:'Liberation Sans',Arial,sans-serif;font-weight:bold" fill="#000" text-anchor="middle" textLength="25.0" lengthAdjust="spacingAndGlyphs">6</text>
<text x="1523.3" y="1376.0" font-size="42.0" style="font-family:'Liberation Sans',Arial,sans-serif;font-weight:bold" fill="#000" text-anchor="middle" textLength="25.0" lengthAdjust="spacingAndGlyphs">8</text>
<text x="1618.3" y="1376.0" font-size="42.0" style="font-family:'Liberation Sans',Arial,sans-serif;font-weight:bold" fill="#000" text-anchor="middle" textLength="46.4" lengthAdjust="spacingAndGlyphs">10</text>
<text x="1713.3" y="1376.0" font-size="42.0" style="font-family:'Liberation Sans',Arial,sans-serif;font-weight:bold" fill="#000" text-anchor="middle" textLength="46.4" lengthAdjust="spacingAndGlyphs">12</text>
<text x="1808.3" y="1376.0" font-size="42.0" style="font-family:'Liberation Sans',Arial,sans-serif;font-weight:bold" fill="#000" text-anchor="middle" textLength="46.4" lengthAdjust="spacingAndGlyphs">14</text>
<text x="1903.3" y="1376.0" font-size="42.0" style="font-family:'Liberation Sans',Arial,sans-serif;font-weight:bold" fill="#000" text-anchor="middle" textLength="46.4" lengthAdjust="spacingAndGlyphs">16</text>
<text transform="translate(1046.0,1012.0) rotate(-90)" x="0" y="0" font-size="47.5" style="font-family:'Liberation Sans',Arial,sans-serif;font-weight:bold" fill="#000" text-anchor="middle" textLength="135.0" lengthAdjust="spacingAndGlyphs">Counts</text>
<text x="1524.5" y="1440.5" font-size="41.5" style="font-family:'Liberation Sans',Arial,sans-serif;font-weight:bold" fill="#000" text-anchor="middle" textLength="258.0" lengthAdjust="spacingAndGlyphs">Diameter (nm)</text>
<text x="1189.0" y="810.8" font-size="68.0" style="font-family:'Liberation Sans',Arial,sans-serif" fill="#000" stroke="#000" stroke-width="0.9">d)</text>
<text x="1725.4" y="807.9" font-size="51.5" style="font-family:'Liberation Sans',Arial,sans-serif" fill="#000" text-anchor="middle" textLength="161.0" lengthAdjust="spacingAndGlyphs" stroke="#000" stroke-width="0.9"><tspan stroke-width="2.4">N=</tspan> 611</text>
<text x="1723.6" y="876.6" font-size="51.5" style="font-family:'Liberation Sans',Arial,sans-serif" fill="#000" text-anchor="middle" textLength="284.0" lengthAdjust="spacingAndGlyphs" stroke="#000" stroke-width="0.9">5.8 <tspan stroke-width="0" font-size="60" dy="1">&#177;</tspan><tspan dy="-1"> </tspan> 0.5 nm</text>
<g clip-path="url(#cpe)">
<polyline points="197.0,2132.4 197.7,2141.1 198.4,2133.9 199.1,2139.3 199.8,2135.0 200.5,2137.5 201.2,2137.9 201.9,2141.4 202.6,2141.5 203.3,2141.5 204.0,2137.6 204.7,2137.6 205.4,2132.2 206.1,2138.9 206.8,2136.9 207.5,2137.5 208.2,2136.6 208.9,2140.0 209.6,2136.8 210.3,2141.5 211.0,2132.3 211.7,2126.0 212.4,2137.2 213.1,2139.7 213.8,2132.1 214.5,2135.9 215.2,2131.0 215.9,2140.8 216.6,2135.6 217.3,2139.3 218.0,2136.3 218.7,2141.5 219.4,2136.2 220.1,2138.3 220.8,2121.3 221.5,2141.5 222.2,2133.0 222.9,2139.5 223.6,2137.8 224.3,2140.7 225.0,2133.1 225.7,2139.5 226.4,2133.3 227.1,2139.6 227.8,2136.2 228.5,2139.2 229.2,2135.8 229.9,2137.3 230.6,2138.3 231.3,2138.2 232.0,2128.1" fill="none" stroke="#000" stroke-width="2.6"/>
<polyline points="301.0,2118.7 301.6,2113.7 302.2,2107.5 302.8,2115.4 303.4,2105.4 304.0,2113.2 304.6,2104.3 305.2,2109.3 305.8,2107.4 306.4,2108.7 307.0,2105.7 307.6,2108.7 308.2,2104.8 308.8,2106.4 309.4,2105.6 310.0,2106.2 310.6,2101.2 311.2,2105.1 311.8,2101.9 312.4,2102.4 313.0,2098.0 313.6,2099.7 314.2,2097.0 314.8,2097.4 315.4,2093.7 316.0,2097.4 316.6,2090.0 317.2,2093.1 317.8,2088.0 318.4,2093.8 319.0,2088.4 319.6,2091.6 320.2,2084.2 320.8,2090.1 321.4,2084.8 322.0,2086.7 322.6,2081.2 323.2,2076.9 323.8,2076.9 324.4,2081.7 325.0,2080.1 325.6,2080.4 326.2,2075.5 326.8,2079.3 327.4,2072.8 328.0,2074.0 328.6,2074.4 329.2,2080.6 329.8,2066.0 330.4,2075.3 331.0,2064.3 331.6,2069.0 332.2,2061.2 332.8,2065.5 333.4,2060.3 334.0,2062.5 334.6,2053.3 335.2,2059.2 335.8,2055.0 336.4,2063.5 337.0,2047.9 337.6,2053.6 338.2,2048.5 338.8,2051.2 339.4,2045.4 340.0,2047.6 340.6,2040.0 341.2,2041.8 341.8,2038.5 342.4,2039.2 343.0,2034.0 343.6,2039.1 344.2,2029.0 344.8,2030.5 345.4,2026.1 346.0,2024.6 346.6,2022.0 347.2,2022.4 347.8,2020.3 348.4,2024.9 349.0,2012.7 349.6,2013.0 350.2,2005.0 350.8,2006.9 351.4,2001.3 352.0,2000.2 352.6,1991.2 353.2,1993.2 353.8,1983.9 354.4,1986.0 355.0,1976.7 355.6,1978.5 356.2,1971.4 356.8,1973.1 357.4,1967.6 358.0,1965.9 358.6,1961.9 359.2,1965.7 359.8,1950.5 360.4,1958.5 361.0,1946.4 361.6,1944.5 362.2,1939.5 362.8,1946.1 363.4,1936.2 364.0,1933.5 364.6,1933.2 365.2,1931.1 365.8,1926.9 366.4,1926.6 367.0,1920.1 367.6,1922.5 368.2,1912.8 368.8,1917.4 369.4,1913.2 370.0,1913.4 370.6,1908.8 371.2,1911.9 371.8,1906.2 372.4,1907.0 373.0,1902.1 373.6,1903.6 374.2,1893.6 374.8,1897.5 375.4,1893.6 376.0,1896.1 376.6,1888.6 377.2,1886.8 377.8,1881.8 378.4,1881.6 379.0,1879.3 379.6,1879.2 380.2,1868.1 380.8,1871.0 381.4,1866.7 382.0,1866.4 382.6,1862.8 383.2,1864.0 383.8,1858.2 384.4,1851.9 385.0,1852.8 385.6,1853.7 386.2,1840.1 386.8,1847.6 387.4,1844.4 388.0,1847.0 388.6,1839.7 389.2,1841.2 389.8,1832.1 390.4,1834.2 391.0,1830.2 391.6,1832.3 392.2,1823.5 392.8,1824.6 393.4,1819.5 394.0,1820.7 394.6,1812.2 395.2,1815.7 395.8,1811.0 396.4,1813.8 397.0,1806.8 397.6,1805.3 398.2,1793.0 398.8,1801.6 399.4,1795.1 400.0,1799.5 400.6,1787.3 401.2,1790.5 401.8,1786.2 402.4,1786.0 403.0,1782.7 403.6,1785.2 404.2,1779.4 404.8,1777.9 405.4,1770.8 406.0,1774.7 406.6,1770.5 407.2,1771.7 407.8,1760.5 408.4,1768.6 409.0,1762.1 409.6,1763.2 410.2,1758.1 410.8,1760.5 411.4,1755.6 412.0,1755.0 412.6,1748.0 413.2,1751.1 413.8,1743.4 414.4,1749.7 415.0,1745.9 415.6,1747.1 416.2,1741.8 416.8,1740.7 417.4,1733.3 418.0,1740.3 418.6,1732.5 419.2,1733.7 419.8,1730.7 420.4,1732.2 421.0,1725.4 421.6,1724.9 422.2,1718.3 422.8,1721.4 423.4,1717.9 424.0,1716.2 424.6,1710.9 425.2,1714.5 425.8,1706.4 426.4,1707.2 427.0,1702.9 427.6,1704.4 428.2,1696.6 428.8,1701.4 429.4,1692.4 430.0,1693.6 430.6,1688.7 431.2,1690.2 431.8,1677.9 432.4,1689.5 433.0,1685.2 433.6,1680.9 434.2,1674.6 434.8,1677.8 435.4,1670.7 436.0,1673.2 436.6,1664.8 437.2,1669.1 437.8,1660.1 438.4,1666.8 439.0,1655.3 439.6,1668.1 440.2,1655.1 440.8,1662.6 441.4,1653.5 442.0,1653.9 442.6,1648.9 443.2,1650.9 443.8,1654.3 444.4,1645.6 445.0,1629.6 445.6,1643.0 446.2,1638.9 446.8,1642.7 447.4,1635.3 448.0,1639.5 448.6,1633.4 449.2,1635.9 449.8,1632.1 450.4,1637.4 451.0,1627.6 451.6,1633.9 452.2,1621.3 452.8,1630.4 453.4,1622.8 454.0,1633.5 454.6,1623.8 455.2,1629.1 455.8,1620.6 456.4,1629.1 457.0,1623.8 457.6,1627.0 458.2,1623.9 458.8,1628.1 459.4,1624.1 460.0,1627.6 460.6,1625.2 461.2,1629.0 461.8,1627.6 462.4,1619.3 463.0,1625.1 463.6,1633.2 464.2,1630.2 464.8,1636.6 465.4,1636.2 466.0,1642.9 466.6,1639.7 467.2,1642.3 467.8,1651.1 468.4,1647.0 469.0,1646.8 469.6,1648.9 470.2,1647.6 470.8,1652.0 471.4,1648.8 472.0,1660.4 472.6,1659.0 473.2,1663.4 473.8,1660.3 474.4,1667.3 475.0,1667.0 475.6,1673.9 476.2,1672.1 476.8,1681.3 477.4,1679.2 478.0,1686.6 478.6,1686.2 479.2,1689.3 479.8,1687.1 480.4,1694.7 481.0,1693.1 481.6,1701.9 482.2,1698.2 482.8,1707.0 483.4,1702.7 484.0,1707.9 484.6,1704.4 485.2,1714.8 485.8,1711.6 486.4,1722.9 487.0,1713.4 487.6,1721.5 488.2,1717.7 488.8,1732.0 489.4,1725.4 490.0,1730.9 490.6,1730.5 491.2,1734.4 491.8,1734.8 492.4,1741.5 493.0,1739.2 493.6,1746.4 494.2,1744.6 494.8,1751.6 495.4,1745.2 496.0,1754.2 496.6,1751.7 497.2,1757.9 497.8,1754.9 498.4,1758.8 499.0,1760.1 499.6,1768.1 500.2,1763.3 500.8,1766.3 501.4,1776.1 502.0,1770.5 502.6,1770.8 503.2,1779.2 503.8,1773.0 504.4,1778.7 505.0,1775.8 505.6,1780.9 506.2,1783.4 506.8,1788.6 507.4,1786.8 508.0,1789.9 508.6,1786.7 509.2,1796.7 509.8,1801.1 510.4,1800.5 511.0,1797.2 511.6,1808.2 512.2,1804.3 512.8,1809.1 513.4,1808.7 514.0,1813.5 514.6,1811.3 515.2,1815.3 515.8,1806.2 516.4,1819.8 517.0,1819.5 517.6,1823.7 518.2,1821.3 518.8,1830.0 519.4,1831.5 520.0,1834.6 520.6,1834.0 521.2,1838.1 521.8,1837.3 522.4,1840.8 523.0,1836.5 523.6,1844.5 524.2,1844.2 524.8,1845.9 525.4,1842.9 526.0,1851.4 526.6,1847.2 527.2,1855.9 527.8,1852.5 528.4,1857.0 529.0,1856.1 529.6,1859.0 530.2,1859.1 530.8,1864.9 531.4,1861.0 532.0,1867.2 532.6,1866.2 533.2,1869.5 533.8,1870.0 534.4,1874.4 535.0,1871.6 535.6,1874.7 536.2,1872.9 536.8,1881.8 537.4,1877.1 538.0,1878.1 538.6,1873.0 539.2,1883.5 539.8,1878.2 540.4,1886.9 541.0,1880.1 541.6,1884.8 542.2,1882.3 542.8,1885.0 543.4,1883.1 544.0,1889.2 544.6,1885.8 545.2,1889.6 545.8,1887.1 546.4,1892.1 547.0,1887.6 547.6,1896.5 548.2,1883.7 548.8,1891.0 549.4,1892.9 550.0,1895.3 550.6,1890.6 551.2,1896.1 551.8,1891.3 552.4,1898.2 553.0,1890.0 553.6,1898.2 554.2,1894.7 554.8,1897.4 555.4,1897.4 556.0,1893.0 556.6,1894.5 557.2,1898.8 557.8,1895.4 558.4,1897.9 559.0,1898.6 559.6,1889.4 560.2,1895.4 560.8,1902.0 561.4,1897.5 562.0,1901.0 562.6,1898.1 563.2,1902.2 563.8,1897.8 564.4,1901.2 565.0,1894.4 565.6,1898.7 566.2,1898.2 566.8,1898.7 567.4,1895.3 568.0,1900.9 568.6,1892.8 569.2,1902.7 569.8,1895.9 570.4,1900.1 571.0,1895.3 571.6,1901.0 572.2,1891.7 572.8,1896.9 573.4,1891.2 574.0,1898.7 574.6,1885.0 575.2,1896.6 575.8,1889.8 576.4,1896.7 577.0,1890.6 577.6,1893.7 578.2,1888.2 578.8,1891.8 579.4,1885.1 580.0,1890.0 580.6,1886.9 581.2,1891.8 581.8,1882.9 582.4,1886.9 583.0,1882.8 583.6,1885.4 584.2,1880.7 584.8,1891.6 585.4,1875.1 586.0,1883.0 586.6,1881.0 587.2,1882.1 587.8,1877.9 588.4,1885.3 589.0,1877.2 589.6,1882.3 590.2,1875.6 590.8,1878.2 591.4,1871.2 592.0,1874.4 592.6,1869.6 593.2,1873.1 593.8,1870.5 594.4,1870.7 595.0,1865.1 595.6,1863.3 596.2,1865.7 596.8,1867.1 597.4,1861.4 598.0,1865.4 598.6,1861.7 599.2,1860.7 599.8,1859.5 600.4,1851.3 601.0,1856.1 601.6,1859.9 602.2,1850.3 602.8,1859.0 603.4,1852.4 604.0,1856.1 604.6,1850.3 605.2,1852.6 605.8,1852.7 606.4,1853.6 607.0,1845.9 607.6,1849.1 608.2,1842.6 608.8,1846.7 609.4,1844.9 610.0,1845.0 610.6,1840.5 611.2,1848.5 611.8,1841.2 612.4,1842.3 613.0,1841.0 613.6,1842.4 614.2,1836.6 614.8,1845.3 615.4,1833.1 616.0,1840.6 616.6,1832.6 617.2,1839.5 617.8,1832.4 618.4,1838.2 619.0,1836.1 619.6,1836.2 620.2,1829.9 620.8,1840.0 621.4,1833.3 622.0,1834.7 622.6,1831.0 623.2,1832.7 623.8,1828.7 624.4,1833.2 625.0,1829.1 625.6,1833.1 626.2,1827.0 626.8,1831.1 627.4,1824.2 628.0,1830.3 628.6,1823.4 629.2,1827.4 629.8,1832.6 630.4,1834.3 631.0,1824.8 631.6,1828.4 632.2,1828.0 632.8,1831.7 633.4,1828.0 634.0,1831.0 634.6,1828.8 635.2,1833.2 635.8,1825.3 636.4,1831.1 637.0,1822.2 637.6,1833.0 638.2,1827.9 638.8,1829.5 639.4,1827.0 640.0,1834.0 640.6,1830.1 641.2,1832.3 641.8,1829.8 642.4,1835.7 643.0,1828.3 643.6,1835.5 644.2,1823.9 644.8,1832.2 645.4,1833.3 646.0,1837.7 646.6,1830.7 647.2,1837.6 647.8,1835.7 648.4,1840.5 649.0,1832.4 649.6,1842.1 650.2,1825.2 650.8,1840.5 651.4,1833.4 652.0,1841.9 652.6,1840.8 653.2,1842.4 653.8,1842.3 654.4,1848.4 655.0,1845.0 655.6,1848.9 656.2,1844.2 656.8,1848.9 657.4,1840.3 658.0,1849.3 658.6,1848.3 659.2,1850.2 659.8,1845.4 660.4,1856.3 661.0,1853.6 661.6,1861.9 662.2,1868.6 662.8,1871.3 663.4,1871.0 664.0,1879.9 664.6,1878.3 665.2,1893.1 665.8,1889.3 666.4,1897.9 667.0,1894.5 667.6,1901.4 668.2,1898.8 668.8,1904.7 669.4,1903.3 670.0,1912.5 670.6,1909.5 671.2,1914.5 671.8,1913.2 672.4,1919.2 673.0,1917.9 673.6,1922.5 674.2,1918.5 674.8,1930.1 675.4,1926.9 676.0,1931.8 676.6,1926.7 677.2,1931.3 677.8,1935.2 678.4,1949.3 679.0,1942.8 679.6,1951.9 680.2,1949.2 680.8,1964.0 681.4,1956.7 682.0,1961.4 682.6,1962.3 683.2,1970.6 683.8,1968.7 684.4,1973.6 685.0,1973.6 685.6,1981.4 686.2,1978.6 686.8,1985.1 687.4,1982.2 688.0,1990.8 688.6,1988.0 689.2,1996.6 689.8,1997.3 690.4,2002.5 691.0,2000.7 691.6,2007.6 692.2,2007.0 692.8,2012.6 693.4,2015.1 694.0,2018.8 694.6,2014.4 695.2,2025.5 695.8,2025.5 696.4,2030.6 697.0,2026.0 697.6,2036.1 698.2,2031.3 698.8,2038.1 699.4,2037.2 700.0,2042.9 700.6,2040.0 701.2,2043.1 701.8,2038.7 702.4,2051.7 703.0,2047.0 703.6,2054.1 704.2,2052.0 704.8,2055.0 705.4,2054.7 706.0,2061.4 706.6,2059.1 707.2,2066.1 707.8,2064.7 708.4,2067.4 709.0,2067.5 709.6,2071.5 710.2,2070.0 710.8,2074.3 711.4,2075.1 712.0,2078.1 712.6,2076.5 713.2,2078.2 713.8,2074.0 714.4,2085.3 715.0,2080.5 715.6,2084.4 716.2,2080.3 716.8,2083.6 717.4,2080.8 718.0,2086.7 718.6,2083.8 719.2,2088.1 719.8,2086.7 720.4,2090.0 721.0,2085.2 721.6,2090.0 722.2,2088.4 722.8,2092.5 723.4,2092.0 724.0,2095.8 724.6,2089.2 725.2,2094.8 725.8,2093.4 726.4,2097.8 727.0,2089.5 727.6,2097.9 728.2,2091.8 728.8,2101.4 729.4,2095.5 730.0,2099.6 730.6,2098.4 731.2,2104.8 731.8,2097.1 732.4,2101.5 733.0,2094.6 733.6,2107.6 734.2,2101.8 734.8,2100.6 735.4,2097.4 736.0,2103.6 736.6,2102.1 737.2,2107.2 737.8,2100.2 738.4,2110.3 739.0,2102.4 739.6,2107.1 740.2,2105.6 740.8,2106.7 741.4,2105.2 742.0,2107.5 742.6,2107.3 743.2,2108.9 743.8,2107.8 744.4,2111.9 745.0,2109.2 745.6,2114.2 746.2,2108.8 746.8,2118.2 747.4,2113.5 748.0,2114.6 748.6,2111.3 749.2,2116.6 749.8,2116.1 750.4,2121.2 751.0,2117.9 751.6,2125.8 752.2,2118.3 752.8,2125.4 753.4,2122.4 754.0,2123.3 754.6,2119.7 755.2,2126.9 755.8,2124.3 756.4,2127.2 757.0,2126.3 757.6,2131.6 758.2,2126.1 758.8,2129.4 759.4,2118.0 760.0,2132.9 760.6,2128.9 761.2,2133.3 761.8,2129.0 762.4,2133.7 763.0,2133.1 763.6,2139.3 764.2,2130.9 764.8,2136.6 765.4,2135.3 766.0,2141.5 766.6,2137.1 767.2,2140.1 767.8,2132.7 768.4,2137.2 769.0,2140.3 769.6,2134.7 770.2,2134.6 770.8,2137.0 771.4,2133.0 772.0,2136.9 772.6,2133.4 773.2,2138.3 773.8,2130.9 774.4,2138.8 775.0,2133.6 775.6,2138.7 776.2,2134.1 776.8,2141.2 777.4,2129.4 778.0,2141.2 778.6,2134.1 779.2,2135.4 779.8,2137.9 780.4,2140.5 781.0,2133.8 781.6,2139.6 782.2,2135.4 782.8,2141.5 783.4,2132.6 784.0,2136.3 784.6,2134.6 785.2,2137.8 785.8,2132.4 786.4,2141.4 787.0,2133.9 787.6,2135.8 788.2,2134.9 788.8,2136.6 789.4,2134.3 790.0,2141.5 790.6,2131.3 791.2,2139.8 791.8,2131.4 792.4,2138.7 793.0,2127.1 793.6,2139.7 794.2,2134.3 794.8,2137.1 795.4,2133.1 796.0,2128.3 796.6,2131.9 797.2,2135.1 797.8,2133.2 798.4,2141.5 799.0,2132.3 799.6,2138.7 800.2,2133.7 800.8,2141.5 801.4,2132.9 802.0,2138.2 802.6,2135.6 803.2,2138.2 803.8,2132.0 804.4,2141.5 805.0,2130.2 805.6,2136.9 806.2,2128.1 806.8,2138.2 807.4,2132.8 808.0,2138.0 808.6,2132.7 809.2,2138.3 809.8,2134.9 810.4,2139.1 811.0,2135.3 811.6,2141.5 812.2,2130.9 812.8,2138.3 813.4,2136.7 814.0,2141.0 814.6,2131.1 815.2,2141.5 815.8,2132.3 816.4,2135.8 817.0,2132.5 817.6,2139.6 818.2,2132.5 818.8,2137.6 819.4,2130.3 820.0,2141.5 820.6,2128.9 821.2,2139.2 821.8,2129.9 822.4,2138.2 823.0,2133.5 823.6,2136.1 824.2,2129.4 824.8,2141.5 825.4,2132.6 826.0,2134.7 826.6,2135.7 827.2,2139.5 827.8,2130.2 828.4,2140.7 829.0,2135.4 829.6,2134.3 830.2,2134.0 830.8,2141.5 831.4,2130.7 832.0,2137.0 832.6,2128.9 833.2,2141.5 833.8,2133.8 834.4,2139.6 835.0,2135.2 835.6,2141.4 836.2,2130.6 836.8,2141.2 837.4,2134.3 838.0,2138.3 838.6,2120.0 839.2,2141.5 839.8,2137.0 840.4,2137.6 841.0,2125.2 841.6,2141.5 842.2,2136.3 842.8,2140.3 843.4,2133.6 844.0,2138.8 844.6,2137.8 845.2,2141.5 845.8,2133.4 846.4,2141.5 847.0,2139.3 847.6,2141.5 848.2,2131.9 848.8,2141.5 849.4,2133.6" fill="none" stroke="#000" stroke-width="3.4" stroke-linejoin="bevel"/>
<polyline points="197.0,2136.4 197.5,2136.0 197.9,2114.0 198.3,2136.0 197.8,2138.3 198.6,2131.6 199.4,2140.0 200.2,2119.4 201.0,2137.7 201.8,2133.0 202.6,2141.5 203.4,2141.5 204.2,2141.5 205.0,2131.0 205.8,2141.5 206.6,2132.1 207.4,2124.6 208.2,2134.0 209.0,2137.4 209.8,2133.0 210.6,2139.5 211.4,2133.3 212.2,2141.5 213.0,2133.6 213.8,2141.5 214.6,2131.2 215.4,2138.2 215.5,2136.5 215.9,2121.0 216.3,2136.5 216.2,2134.5 217.0,2136.1 217.8,2129.6 218.6,2137.2 219.4,2141.5 220.2,2139.5 221.0,2135.0 221.8,2137.4 222.6,2134.7 223.4,2137.7 224.2,2133.3 225.0,2138.8 225.8,2135.5 226.6,2136.4 227.4,2133.7 228.2,2138.0 229.0,2135.5 229.8,2138.4 230.6,2133.0 231.4,2141.5" fill="none" stroke="#e80000" stroke-width="2.6"/>
<polyline points="251.0,2133.8 251.6,2137.0 252.1,2136.0 252.7,2141.5 253.2,2130.5 253.8,2141.5 254.3,2135.5 254.9,2138.3 255.4,2133.6 256.0,2138.1 256.5,2134.1 257.1,2141.5 257.6,2130.2 258.2,2140.5 258.7,2131.5 259.3,2135.4 259.8,2122.6 260.4,2135.2 260.9,2130.7 261.5,2131.6 262.0,2124.9 262.6,2136.2 263.1,2130.0 263.7,2136.8 264.2,2131.1 264.8,2133.1 265.3,2125.4 265.9,2138.7 266.4,2122.6 267.0,2135.0 267.5,2125.5 268.1,2131.1 268.6,2125.5 269.2,2130.5 269.7,2124.1 270.3,2137.4 270.8,2124.3 271.0,2128.0 271.4,2085.0 271.8,2128.0 271.4,2130.7 271.9,2123.8 272.5,2130.5 273.0,2123.0 273.6,2124.7 274.0,2126.4 274.4,2100.0 274.8,2126.4 274.1,2141.5 274.7,2129.4 275.2,2123.9 275.8,2131.6 276.3,2118.9 276.9,2128.0 277.4,2125.1 278.0,2130.3 278.5,2121.4 279.0,2123.6 279.4,2095.0 279.8,2123.6 279.1,2110.3 279.6,2118.5 280.2,2130.4 280.7,2120.0 281.3,2121.1 281.8,2115.9 282.4,2126.3 282.9,2119.2 283.5,2123.6 284.0,2121.4 284.4,2099.0 284.8,2121.4 284.0,2114.6 284.6,2124.5 285.1,2108.0 285.7,2120.7 286.2,2115.7 286.8,2130.7 287.3,2107.5 287.9,2121.3 288.4,2116.9 289.0,2120.9 289.5,2110.5 290.0,2119.5 290.4,2108.0 290.8,2119.5 290.1,2120.1 290.6,2120.0 291.2,2121.7 291.7,2116.8 292.3,2119.2 292.8,2111.9 293.4,2122.9 293.9,2118.4 294.5,2120.9 295.0,2116.4 295.6,2125.4 296.1,2117.1 296.7,2124.1 297.0,2116.9 297.4,2103.0 297.8,2116.9 297.2,2119.0 297.8,2119.0 298.3,2115.1 298.9,2115.5 299.4,2116.5 300.0,2101.5 300.5,2115.0 301.1,2121.4 301.6,2108.3 302.2,2115.4 302.7,2110.8 303.3,2114.0 303.8,2106.6 304.4,2114.0 304.9,2108.4 305.5,2115.7 306.0,2103.0 306.6,2120.9 307.1,2106.8 307.7,2112.9 308.2,2109.3 308.8,2111.6 309.0,2108.5 309.4,2098.0 309.8,2108.5 309.3,2098.0 309.9,2111.2 310.4,2104.2 311.0,2110.8 311.5,2100.3 312.1,2113.7 312.6,2100.9 313.0,2105.8 313.4,2102.0 313.8,2105.8 313.2,2117.3 313.7,2101.6 314.3,2112.8 314.8,2103.2 315.4,2111.0 315.9,2102.7 316.5,2106.8 317.0,2095.0 317.6,2105.8 318.1,2101.5 318.7,2104.8 319.2,2094.3 319.8,2101.2 320.3,2093.0 320.9,2105.8 321.4,2096.9 322.0,2097.3 322.5,2085.3 323.1,2099.2 323.6,2094.2 324.2,2108.8 324.7,2093.2 325.3,2100.1 325.8,2095.4 326.0,2094.6 326.4,2090.0 326.8,2094.6 326.4,2094.4 326.9,2092.2 327.5,2095.0 328.0,2088.3 328.6,2112.4 329.1,2081.9 329.7,2092.2 330.2,2091.1 330.8,2092.5 331.0,2087.9 331.4,2088.0 331.8,2087.9 331.3,2081.9 331.9,2101.5 332.4,2078.8 333.0,2086.0 333.5,2077.7 334.1,2086.2 334.6,2081.4 335.2,2089.5 335.7,2076.6 336.3,2087.1 336.8,2078.9 337.4,2078.7 337.9,2079.7 338.5,2083.7 339.0,2071.1 339.6,2073.2 340.1,2084.3 340.7,2075.9 341.2,2066.1 341.8,2068.5 342.3,2063.9 342.9,2062.7 343.4,2059.6 344.0,2063.4 344.5,2051.7 345.1,2056.8 345.6,2046.8 346.2,2055.3 346.7,2052.0 347.3,2053.6 347.8,2037.9 348.4,2053.8 348.9,2034.3 349.5,2040.5 350.0,2040.3 350.6,2043.9 351.1,2039.0 351.7,2041.6 352.2,2032.7 352.8,2039.9 353.3,2024.0 353.9,2035.9 354.4,2021.6 355.0,2038.8 355.5,2030.3 356.1,2037.1 356.6,2027.7 357.2,2039.3 357.7,2026.5 358.3,2031.4 358.8,2027.6 359.4,2033.6 359.9,2025.8 360.5,2027.5 361.0,2023.5 361.6,2032.1 362.1,2020.8 362.7,2030.2 363.2,2018.7 363.8,2030.4 364.3,2011.1 364.9,2027.1 365.4,2018.1 366.0,2025.8 366.5,2020.5 367.1,2021.9 367.6,2013.7 368.2,2021.2 368.7,2016.5 369.3,2020.5 369.8,2015.5 370.4,2022.3 370.9,2011.5 371.5,2027.0 372.0,2017.8 372.6,2020.2 373.1,2015.0 373.7,2017.8 374.2,2010.4 374.8,2019.1 375.3,2012.3 375.9,2013.8 376.4,2000.7 377.0,2014.5 377.5,1999.4 378.1,2010.3 378.6,2007.7 379.2,2022.4 379.7,2004.5 380.3,2013.7 380.8,2014.6 381.4,1991.9 381.9,2005.0 382.5,2007.1 383.0,2002.0 383.6,2006.9 384.1,2003.2 384.7,2005.3 385.2,1998.0 385.8,2002.1 386.3,1990.7 386.9,2009.4 387.4,1983.4 388.0,2004.1 388.5,1992.0 389.1,2001.5 389.6,1993.6 390.2,2004.7 390.7,1988.1 391.3,1994.9 391.8,1989.6 392.4,1996.3 392.9,1987.9 393.5,2007.6 394.0,1978.1 394.6,1988.3 395.1,1982.6 395.7,1988.7 396.2,1980.1 396.8,1985.0 397.3,1979.9 397.9,1984.6 398.4,1977.4 399.0,1984.7 399.5,1975.4 400.1,1976.6 400.6,1949.5 401.2,1976.2 401.7,1960.2 402.3,1943.5 402.8,1962.4 403.4,1967.7 403.9,1963.2 404.5,1965.4 405.0,1954.9 405.6,1962.3 406.1,1950.3 406.7,1959.1 407.2,1942.6 407.8,1932.7 408.3,1945.7 408.9,1949.0 409.4,1920.3 410.0,1934.8 410.5,1940.5 411.1,1946.2 411.6,1939.7 412.2,1947.0 412.7,1932.1 413.3,1935.4 413.8,1932.9 414.4,1938.0 414.9,1926.3 415.5,1931.0 416.0,1925.0 416.6,1926.3 417.1,1920.2 417.7,1934.8 418.2,1893.9 418.8,1947.4 419.3,1917.7 419.9,1923.0 420.4,1913.7 421.0,1916.5 421.5,1910.3 422.1,1917.6 422.6,1902.3 423.2,1913.2 423.7,1901.3 424.3,1908.1 424.8,1895.6 425.4,1904.2 425.9,1876.5 426.5,1905.7 427.0,1892.0 427.6,1896.0 428.1,1882.5 428.7,1893.5 429.2,1890.1 429.8,1890.7 430.3,1882.0 430.9,1888.1 431.4,1884.8 432.0,1882.1 432.5,1877.5 433.1,1870.0 433.6,1875.7 434.2,1882.0 434.7,1868.6 435.3,1897.9 435.8,1867.2 436.4,1873.3 436.9,1859.1 437.5,1868.8 438.0,1861.2 438.6,1862.5 439.1,1851.1 439.7,1855.6 440.2,1851.0 440.8,1851.5 441.3,1847.4 441.9,1851.8 442.4,1842.7 443.0,1847.2 443.5,1836.6 444.1,1850.9 444.6,1834.4 445.2,1835.7 445.7,1835.4 446.3,1834.9 446.8,1821.0 447.4,1831.2 447.9,1821.2 448.5,1829.7 449.0,1820.3 449.6,1825.6 450.1,1796.9 450.7,1819.6 451.2,1811.9 451.8,1811.9 452.3,1812.0 452.9,1816.1 453.4,1803.5 454.0,1809.9 454.5,1795.9 455.1,1797.0 455.6,1795.2 456.2,1791.7 456.7,1782.0 457.3,1793.5 457.8,1786.8 458.4,1789.0 458.9,1781.8 459.5,1798.2 460.0,1777.5 460.6,1781.3 461.1,1761.8 461.7,1777.9 462.2,1773.1 462.8,1774.0 463.3,1763.7 463.9,1778.9 464.4,1758.5 465.0,1783.8 465.5,1736.4 466.1,1760.4 466.6,1757.5 467.2,1762.7 467.7,1753.2 468.3,1763.1 468.8,1758.6 469.4,1760.9 469.9,1752.3 470.5,1758.7 471.0,1749.0 471.6,1760.2 472.1,1756.7 472.7,1759.4 473.2,1755.3 473.8,1762.6 474.3,1757.4 474.9,1761.8 475.4,1755.7 476.0,1762.9 476.5,1761.8 477.1,1763.7 477.6,1757.8 478.2,1776.3 478.7,1765.4 479.3,1771.0 479.8,1764.5 480.4,1774.1 480.9,1769.2 481.5,1777.4 482.0,1771.4 482.6,1787.4 483.1,1772.5 483.7,1779.7 484.2,1777.8 484.8,1787.7 485.3,1790.5 485.9,1798.9 486.4,1794.3 487.0,1824.2 487.5,1792.3 488.1,1806.4 488.6,1803.5 489.2,1800.6 489.7,1803.2 490.3,1813.4 490.8,1786.5 491.4,1819.9 491.9,1816.0 492.5,1831.6 493.0,1822.5 493.6,1833.3 494.1,1830.9 494.7,1839.9 495.2,1833.6 495.8,1845.7 496.3,1843.2 496.9,1852.3 497.4,1842.0 498.0,1853.7 498.5,1851.2 499.1,1857.9 499.6,1859.3 500.2,1875.3 500.7,1859.8 501.3,1871.9 501.8,1867.8 502.4,1873.9 502.9,1874.1 503.5,1886.2 504.0,1878.3 504.6,1886.2 505.1,1872.7 505.7,1886.6 506.2,1883.3 506.8,1891.3 507.3,1882.2 507.9,1894.8 508.4,1887.8 509.0,1902.7 509.5,1892.9 510.1,1898.4 510.6,1898.5 511.2,1903.6 511.7,1895.2 512.3,1904.1 512.8,1901.1 513.4,1904.6 513.9,1906.4 514.5,1908.5 515.0,1907.1 515.6,1920.3 516.1,1898.6 516.7,1920.4 517.2,1882.3 517.8,1915.6 518.3,1904.8 518.9,1918.0 519.4,1910.5 520.0,1910.7 520.5,1922.9 521.1,1928.3 521.6,1918.9 522.2,1924.0 522.7,1920.5 523.3,1933.2 523.8,1919.9 524.4,1932.9 524.9,1926.5 525.5,1933.3 526.0,1927.5 526.6,1935.2 527.1,1943.4 527.7,1938.5 528.2,1911.8 528.8,1936.1 529.3,1935.4 529.9,1941.6 530.4,1936.0 531.0,1949.6 531.5,1938.3 532.1,1945.4 532.6,1944.5 533.2,1952.4 533.7,1945.8 534.3,1951.1 534.8,1945.3 535.4,1953.9 535.9,1940.2 536.5,1950.7 537.0,1937.3 537.6,1929.8 538.1,1947.6 538.7,1949.3 539.2,1941.2 539.8,1950.0 540.3,1944.4 540.9,1948.1 541.4,1945.5 542.0,1947.9 542.5,1926.4 543.1,1948.1 543.6,1943.0 544.2,1951.3 544.7,1943.0 545.3,1950.4 545.8,1951.2 546.4,1949.8 546.9,1943.4 547.5,1950.8 548.0,1946.5 548.6,1953.1 549.1,1942.4 549.7,1950.9 550.2,1946.3 550.8,1930.0 551.3,1949.3 551.9,1955.2 552.4,1920.1 553.0,1949.9 553.5,1943.3 554.1,1983.5 554.6,1950.2 555.2,1961.0 555.7,1948.7 556.3,1960.8 556.8,1950.8 557.4,1954.6 557.9,1946.2 558.0,1950.4 558.4,1925.0 558.8,1950.4 558.5,1950.6 559.0,1948.8 559.6,1953.9 560.1,1943.3 560.7,1950.7 561.2,1946.3 561.8,1953.9 562.3,1939.5 562.9,1950.3 563.4,1945.2 564.0,1971.5 564.5,1949.3 565.1,1951.1 565.6,1947.2 566.2,1951.4 566.7,1946.3 567.3,1955.5 567.8,1950.4 568.4,1956.5 568.9,1946.6 569.5,1952.0 570.0,1943.3 570.6,1960.1 571.0,1944.0 571.4,1990.0 571.8,1944.0 571.1,1937.7 571.7,1943.5 572.2,1942.1 572.8,1954.0 573.3,1937.1 573.9,1946.3 574.4,1934.8 575.0,1941.0 575.0,1937.8 575.4,1975.0 575.8,1937.8 575.5,1934.1 576.1,1941.4 576.6,1933.2 577.1,1937.1 577.7,1922.7 578.2,1938.1 578.8,1930.4 579.3,1939.5 579.9,1923.0 580.4,1937.5 581.0,1922.5 581.5,1924.6 582.1,1924.4 582.6,1930.3 583.2,1921.8 583.7,1927.7 584.3,1913.6 584.8,1927.7 585.4,1910.8 585.9,1920.9 586.5,1910.8 587.0,1916.1 587.6,1910.5 588.1,1918.4 588.7,1910.4 589.2,1894.9 589.8,1909.1 590.3,1913.3 590.9,1909.5 591.4,1913.8 592.0,1900.7 592.5,1912.7 593.1,1897.0 593.6,1910.0 594.2,1902.5 594.7,1904.4 595.3,1902.1 595.8,1910.9 596.4,1901.7 596.9,1905.9 597.5,1899.9 598.0,1927.1 598.6,1898.9 599.1,1903.7 599.7,1912.5 600.2,1903.1 600.8,1896.0 601.3,1900.7 601.9,1893.7 602.4,1898.1 603.0,1889.2 603.5,1897.3 604.1,1881.8 604.6,1895.3 605.2,1881.8 605.7,1886.4 606.3,1882.2 606.8,1894.4 607.4,1883.7 607.9,1883.7 608.5,1871.7 609.0,1882.8 609.6,1876.4 610.1,1884.5 610.7,1873.6 611.2,1877.8 611.8,1849.7 612.3,1879.0 612.9,1872.8 613.4,1872.6 614.0,1868.0 614.5,1875.0 615.1,1868.0 615.6,1868.9 616.2,1855.1 616.7,1870.5 617.3,1864.2 617.8,1874.9 618.4,1855.0 618.9,1869.4 619.5,1858.3 620.0,1861.4 620.6,1849.6 621.1,1860.7 621.7,1856.7 622.2,1861.1 622.8,1846.5 623.3,1837.0 623.9,1851.8 624.4,1859.6 625.0,1849.2 625.5,1855.1 626.1,1850.7 626.6,1856.8 627.2,1840.4 627.7,1854.3 628.3,1842.5 628.8,1848.5 629.4,1843.2 629.9,1855.6 630.5,1840.6 631.0,1851.1 631.6,1835.5 632.1,1851.9 632.7,1835.6 633.2,1844.2 633.8,1841.1 634.3,1844.5 634.9,1841.5 635.4,1845.6 636.0,1815.4 636.5,1847.3 637.1,1825.4 637.6,1857.5 638.2,1830.5 638.7,1839.1 639.3,1832.9 639.8,1836.6 640.4,1831.8 640.9,1840.7 641.5,1830.5 642.0,1839.6 642.6,1831.5 643.1,1839.5 643.7,1825.4 644.2,1829.7 644.8,1828.1 645.3,1827.1 645.9,1823.4 646.4,1833.4 647.0,1806.3 647.5,1819.5 648.1,1825.3 648.6,1838.3 649.2,1829.1 649.7,1833.6 650.3,1826.7 650.8,1841.2 651.4,1826.9 651.9,1835.5 652.5,1836.4 653.0,1841.9 653.6,1835.8 654.1,1864.0 654.7,1834.2 655.2,1834.8 655.8,1832.9 656.3,1851.1 656.9,1838.3 657.4,1848.8 658.0,1843.6 658.5,1846.1 659.1,1843.0 659.6,1856.9 660.2,1843.8 660.7,1871.1 661.3,1840.5 661.8,1861.7 662.4,1854.8 662.9,1859.1 663.5,1856.6 664.0,1870.9 664.6,1865.8 665.1,1867.8 665.7,1867.6 666.2,1880.7 666.8,1872.7 667.3,1883.1 667.9,1872.1 668.4,1883.5 669.0,1880.4 669.5,1874.8 670.1,1885.7 670.6,1893.4 671.2,1884.5 671.7,1898.5 672.3,1888.4 672.8,1896.6 673.4,1887.9 673.9,1924.4 674.5,1895.9 675.0,1905.0 675.6,1901.8 676.1,1925.8 676.7,1901.2 677.2,1917.6 677.8,1905.7 678.3,1920.6 678.9,1913.5 679.4,1915.3 680.0,1912.5 680.5,1920.9 681.1,1912.0 681.6,1931.1 682.0,1924.4 682.4,1935.0 682.8,1924.4 682.2,1922.4 682.7,1933.5 683.3,1924.0 683.8,1938.1 684.4,1925.4 684.9,1944.4 685.5,1935.1 686.0,1944.9 686.6,1933.4 687.1,1942.1 687.7,1944.3 688.2,1951.6 688.8,1936.5 689.3,1957.9 689.9,1928.1 690.4,1954.7 691.0,1953.3 691.5,1958.4 692.1,1956.9 692.6,1966.2 693.2,1958.9 693.7,1973.9 694.3,1966.4 694.8,1970.8 695.4,1970.1 695.9,1972.9 696.5,1972.2 697.0,1978.8 697.6,1968.7 698.1,1982.0 698.7,1980.7 699.2,1992.1 699.8,1986.0 700.3,1992.7 700.9,1987.6 701.4,1996.1 702.0,1992.1 702.5,2007.0 703.1,1991.5 703.6,2001.7 704.2,1996.8 704.7,2004.2 705.3,1998.5 705.8,2011.0 706.4,1991.6 706.9,2011.9 707.5,2007.3 708.0,2024.2 708.6,2016.6 709.1,2022.1 709.7,2013.0 710.2,2022.2 710.8,1993.8 711.3,2026.6 711.9,2030.8 712.4,2034.5 713.0,2021.3 713.5,2036.7 714.1,2035.6 714.6,2040.1 715.2,2028.2 715.7,2040.0 716.3,2039.4 716.8,2047.6 717.4,2038.3 717.9,2047.2 718.5,2040.4 719.0,2051.8 719.6,2043.1 720.1,2051.9 720.7,2047.9 721.2,2050.7 721.8,2048.0 722.3,2058.3 722.9,2042.4 723.4,2065.1 724.0,2056.1 724.5,2065.2 725.1,2045.5 725.6,2063.1 726.2,2057.7 726.7,2061.5 727.3,2059.3 727.8,2065.9 728.4,2055.9 728.9,2070.6 729.5,2054.8 730.0,2054.4 730.6,2067.9 731.1,2071.8 731.7,2055.2 732.2,2081.5 732.8,2067.6 733.3,2083.4 733.9,2066.3 734.4,2072.2 735.0,2072.6 735.5,2073.8 736.1,2064.7 736.6,2073.5 737.2,2065.6 737.7,2072.1 738.3,2071.8 738.8,2084.9 739.4,2071.5 739.9,2084.7 740.5,2062.4 741.0,2084.0 741.6,2075.8 742.1,2078.7 742.7,2073.7 743.2,2082.7 743.8,2080.1 744.3,2089.3 744.9,2074.0 745.4,2090.5 746.0,2078.3 746.5,2095.2 747.1,2076.8 747.6,2084.1 748.2,2080.8 748.7,2083.9 749.3,2083.8 749.8,2093.7 750.4,2082.7 750.9,2089.5 751.5,2062.1 752.0,2093.8 752.6,2060.1 753.1,2110.9 753.7,2086.1 754.2,2104.4 754.8,2087.9 755.3,2092.9 755.9,2090.9 756.4,2100.0 757.0,2090.1 757.5,2104.7 758.1,2092.4 758.6,2098.3 759.2,2092.3 759.7,2126.4 760.3,2094.4 760.8,2099.5 761.4,2093.4 761.9,2110.4 762.5,2097.0 763.0,2104.6 763.6,2092.4 764.1,2115.0 764.7,2107.4 765.2,2105.5 765.8,2096.7 766.3,2110.1 766.9,2111.6 767.4,2114.1 768.0,2089.2 768.5,2115.9 769.1,2113.2 769.6,2121.0 770.2,2088.4 770.7,2119.0 771.3,2118.6 771.8,2121.8 772.4,2115.3 772.9,2124.2 773.5,2118.1 774.0,2119.1 774.6,2111.2 775.1,2128.3 775.7,2115.3 776.2,2141.0 776.8,2099.5 777.3,2130.3 777.9,2106.7 778.4,2126.0 779.0,2119.0 779.5,2129.2 780.1,2123.6 780.6,2130.9 781.2,2126.9 781.7,2130.0 782.3,2123.6 782.8,2138.9 783.4,2119.9 783.9,2136.3 784.5,2115.9 785.0,2135.4 785.6,2138.6 786.1,2140.6 786.7,2127.8 787.2,2133.9 787.8,2125.0 788.3,2137.3 788.9,2110.3 789.4,2131.0 790.0,2141.5 790.5,2136.4 791.1,2124.2 791.6,2129.9 792.2,2124.2 792.7,2133.5 793.3,2128.4 793.8,2141.5 794.4,2123.0 794.9,2134.0 795.5,2137.8 796.0,2139.8 796.6,2128.1 797.1,2127.2 797.7,2127.5 798.2,2134.7 798.8,2123.6 799.3,2141.5 799.9,2129.7 800.4,2141.5 801.0,2121.0 801.5,2141.5 802.1,2127.6 802.6,2133.9 803.2,2131.6 803.7,2135.4 804.3,2123.9 804.8,2138.5 805.4,2126.3 805.9,2141.5 806.5,2127.9 807.0,2135.8 807.6,2125.4 808.1,2141.5 808.7,2129.9 809.2,2136.4 809.8,2131.2 810.3,2138.6 810.9,2125.3 811.4,2141.5 812.0,2124.4 812.5,2135.2 813.1,2125.8 813.6,2133.5 814.2,2124.1 814.7,2141.0 815.3,2132.7 815.8,2133.8 816.4,2127.2 816.9,2141.5 817.5,2122.5 818.0,2134.4 818.6,2125.3 819.1,2135.4 819.7,2121.7 820.2,2134.4 820.8,2124.7 821.3,2137.8 821.9,2121.8 822.4,2135.8 823.0,2104.8 823.5,2135.6 824.1,2127.1 824.6,2132.8 825.2,2117.7 825.7,2138.5 826.3,2128.2 826.8,2135.4 827.4,2114.2 827.9,2129.3 828.5,2125.7 829.0,2135.3 829.6,2128.9 830.1,2137.2 830.7,2125.9 831.2,2138.5 831.8,2123.3 832.3,2141.5 832.9,2126.9 833.4,2129.6 834.0,2127.2 834.5,2136.6 835.1,2129.8 835.6,2140.0 836.2,2119.0 836.7,2141.5 837.3,2122.3 837.8,2141.5 838.4,2130.0 838.9,2113.6 839.5,2129.9 840.0,2133.9 840.6,2128.0 841.1,2132.7 841.7,2123.8 842.2,2130.9 842.8,2123.8 843.3,2137.7 843.9,2121.6 844.4,2139.7 845.0,2128.6 845.5,2130.7 846.1,2124.3 846.6,2134.5 847.2,2116.1 847.7,2141.5 848.3,2130.5 848.8,2129.8 849.4,2121.0 849.9,2138.6 850.0,2131.0 850.4,2103.0 850.8,2131.0 850.5,2131.1 851.0,2134.7 851.6,2128.1 852.1,2141.5 852.7,2126.1 853.2,2132.4 853.8,2092.8 854.3,2132.3 854.9,2120.0 855.4,2130.4 856.0,2130.4 856.5,2133.1 857.1,2123.6 857.6,2131.8 858.2,2123.9 858.7,2133.0 859.3,2118.0 859.8,2131.7 860.4,2125.9 860.9,2137.8 861.5,2125.1 862.0,2136.7 862.6,2124.3 863.1,2129.2 863.7,2131.4 864.2,2130.1 864.8,2129.8 865.3,2139.0 865.9,2127.0 866.4,2131.6 867.0,2129.5 867.5,2136.9 868.1,2116.0 868.6,2141.5 869.2,2126.7 869.7,2130.1 870.3,2129.9 870.8,2136.8 871.4,2132.2 871.9,2135.7 872.5,2120.6 873.0,2137.7 873.6,2128.1 874.1,2129.7 874.7,2121.7 875.2,2138.1 875.8,2119.5 876.3,2139.5 876.9,2123.7 877.4,2135.3 878.0,2130.5 878.5,2135.6 879.1,2133.3 879.6,2126.0 880.0,2131.0 880.4,2110.0 880.8,2131.0 880.2,2127.5 880.7,2135.2 881.3,2131.8 881.8,2131.6 882.4,2119.5 882.9,2139.2 883.5,2127.9 884.0,2137.7 884.6,2123.6 885.1,2130.4 885.7,2128.0 886.2,2141.5 886.8,2122.5 887.3,2131.0 887.9,2127.3 888.4,2139.1 889.0,2110.2 889.5,2134.5 890.1,2131.2 890.6,2133.1 891.2,2120.4 891.7,2132.5 892.3,2123.4 892.8,2141.5 893.4,2129.5 893.9,2138.8 894.5,2126.9 895.0,2119.5 895.6,2130.5 896.1,2139.6 896.7,2096.3 897.2,2132.1 897.8,2132.2 898.3,2132.4 898.9,2115.0 899.4,2133.9 900.0,2141.5 900.5,2136.2 901.1,2131.0 901.6,2134.2 902.2,2126.4 902.7,2134.4 903.3,2131.0 903.8,2136.7 904.4,2128.7 904.9,2141.5 905.0,2131.0 905.4,2112.0 905.8,2131.0 905.5,2130.3 906.0,2141.5 906.6,2111.7 907.1,2119.3 907.7,2132.0 908.2,2139.6 908.8,2125.5 909.3,2139.5 909.9,2126.9 910.4,2132.6 911.0,2114.4 911.5,2133.2 912.1,2116.5 912.6,2138.3 913.2,2141.5 913.7,2117.1 914.3,2112.6 914.8,2136.9 915.4,2131.2 915.9,2133.8 916.5,2128.9 917.0,2136.5 917.6,2121.2 918.1,2141.5 918.7,2133.6 919.2,2136.5 919.8,2132.7 920.3,2138.4 920.9,2102.4 921.4,2135.2 922.0,2118.4 922.5,2128.2 923.1,2125.3 923.6,2130.3 924.2,2123.8 924.7,2130.0 925.0,2131.0 925.4,2106.0 925.8,2131.0 925.3,2129.0 925.8,2132.1 926.4,2128.5 926.9,2141.5 927.5,2119.2 928.0,2129.6 928.6,2129.2 929.1,2136.5 929.7,2130.6 930.2,2116.4 930.8,2128.8 931.3,2137.6 931.9,2110.3 932.4,2133.5 933.0,2119.7 933.5,2119.2 934.1,2126.2 934.6,2133.4 935.2,2122.6 935.7,2141.5 936.3,2128.9 936.8,2131.4 937.4,2127.2 937.9,2141.5 938.5,2128.2 939.0,2138.4 939.6,2128.1 940.1,2141.5 940.7,2111.3 941.2,2138.6 941.8,2127.2 942.3,2136.5 942.9,2126.3 943.4,2137.9 944.0,2127.6 944.5,2136.2 945.1,2141.5 945.6,2127.2 946.2,2130.7 946.7,2137.5 947.0,2131.0 947.4,2108.0 947.8,2131.0 947.3,2127.1 947.8,2135.7 948.4,2129.6 948.9,2140.7 949.5,2130.3 950.0,2133.4 950.6,2129.8 951.1,2141.5 951.7,2123.6 952.2,2141.5 952.8,2129.2 953.3,2134.1 953.9,2128.1 954.4,2141.5 955.0,2129.4 955.5,2136.6 956.1,2126.0 956.6,2135.0 957.2,2116.4 957.7,2141.5 958.3,2124.7 958.8,2132.0 959.4,2118.8 959.9,2132.4 960.5,2121.6 961.0,2138.6 961.6,2114.6 962.1,2141.5 962.7,2129.5 963.2,2131.5 963.8,2114.6 964.3,2132.7 964.9,2106.9 965.4,2141.5 966.0,2123.3 966.5,2141.5" fill="none" stroke="#e80000" stroke-width="3.0" stroke-linejoin="bevel"/>
</g>
<rect x="196.5" y="1520.3" width="770.4" height="620.2" fill="none" stroke="#000" stroke-width="3.6"/>
<path d="M185.0,2140.5H196.5M185.0,2002.9H196.5M185.0,1865.3H196.5M185.0,1727.7H196.5M185.0,1590.1H196.5M190.5,2071.7H196.5M190.5,1934.1H196.5M190.5,1796.5H196.5M190.5,1658.9H196.5" stroke="#000" stroke-width="3.4" fill="none"/>
<path d="M196.5,2140.5V2152.5M350.6,2140.5V2152.5M504.7,2140.5V2152.5M658.8,2140.5V2152.5M812.9,2140.5V2152.5M967.0,2140.5V2152.5M273.6,2140.5V2146.5M427.6,2140.5V2146.5M581.8,2140.5V2146.5M735.9,2140.5V2146.5M889.9,2140.5V2146.5" stroke="#000" stroke-width="3.4" fill="none"/>
<text x="175.2" y="2150.7" font-size="44.0" style="font-family:'Liberation Sans',Arial,sans-serif;font-weight:bold" fill="#000" text-anchor="end" textLength="22.9" lengthAdjust="spacingAndGlyphs">0</text>
<text x="175.2" y="2013.1" font-size="44.0" style="font-family:'Liberation Sans',Arial,sans-serif;font-weight:bold" fill="#000" text-anchor="end" textLength="91.6" lengthAdjust="spacingAndGlyphs">2000</text>
<text x="175.2" y="1875.5" font-size="44.0" style="font-family:'Liberation Sans',Arial,sans-serif;font-weight:bold" fill="#000" text-anchor="end" textLength="91.6" lengthAdjust="spacingAndGlyphs">4000</text>
<text x="175.2" y="1737.9" font-size="44.0" style="font-family:'Liberation Sans',Arial,sans-serif;font-weight:bold" fill="#000" text-anchor="end" textLength="91.6" lengthAdjust="spacingAndGlyphs">6000</text>
<text x="175.2" y="1600.3" font-size="44.0" style="font-family:'Liberation Sans',Arial,sans-serif;font-weight:bold" fill="#000" text-anchor="end" textLength="91.6" lengthAdjust="spacingAndGlyphs">8000</text>
<text x="196.5" y="2192.0" font-size="38.0" style="font-family:'Liberation Sans',Arial,sans-serif;font-weight:bold" fill="#000" text-anchor="middle" textLength="88.0" lengthAdjust="spacingAndGlyphs">1000</text>
<text x="350.6" y="2192.0" font-size="38.0" style="font-family:'Liberation Sans',Arial,sans-serif;font-weight:bold" fill="#000" text-anchor="middle" textLength="88.0" lengthAdjust="spacingAndGlyphs">1200</text>
<text x="504.7" y="2192.0" font-size="38.0" style="font-family:'Liberation Sans',Arial,sans-serif;font-weight:bold" fill="#000" text-anchor="middle" textLength="88.0" lengthAdjust="spacingAndGlyphs">1400</text>
<text x="658.8" y="2192.0" font-size="38.0" style="font-family:'Liberation Sans',Arial,sans-serif;font-weight:bold" fill="#000" text-anchor="middle" textLength="88.0" lengthAdjust="spacingAndGlyphs">1600</text>
<text x="812.9" y="2192.0" font-size="38.0" style="font-family:'Liberation Sans',Arial,sans-serif;font-weight:bold" fill="#000" text-anchor="middle" textLength="88.0" lengthAdjust="spacingAndGlyphs">1800</text>
<text x="967.0" y="2192.0" font-size="38.0" style="font-family:'Liberation Sans',Arial,sans-serif;font-weight:bold" fill="#000" text-anchor="middle" textLength="88.0" lengthAdjust="spacingAndGlyphs">2000</text>
<text transform="translate(55.8,1814.5) rotate(-90)" x="0" y="0" font-size="46.0" style="font-family:'Liberation Sans',Arial,sans-serif;font-weight:bold" fill="#000" text-anchor="middle" textLength="309.0" lengthAdjust="spacingAndGlyphs">Intensity (counts)</text>
<text x="401" y="2250.4" font-size="41" style="font-family:'Liberation Sans',Arial,sans-serif;font-weight:bold" textLength="363" lengthAdjust="spacingAndGlyphs">Wavenumber (cm<tspan font-size="24" dy="-17">-1</tspan><tspan dy="17">)</tspan></text>
<text x="237.0" y="1610.4" font-size="68.0" style="font-family:'Liberation Sans',Arial,sans-serif" fill="#000" stroke="#000" stroke-width="1.2">e)</text>
<text x="366.5" y="1644.3" font-size="50.0" style="font-family:'Liberation Sans',Arial,sans-serif" fill="#000" textLength="33.0" lengthAdjust="spacingAndGlyphs" stroke="#000" stroke-width="0.6">D</text>
<text x="571.0" y="1808.2" font-size="50.0" style="font-family:'Liberation Sans',Arial,sans-serif" fill="#000" textLength="35.0" lengthAdjust="spacingAndGlyphs" stroke="#000" stroke-width="0.6">G</text>
<path d="M674.3,1554.5H767.8" stroke="#000" stroke-width="3.4"/>
<path d="M674.3,1603.4H767.8" stroke="#e80000" stroke-width="3.4"/>
<text x="778.0" y="1568.0" font-size="40.5" style="font-family:'Liberation Sans',Arial,sans-serif;font-weight:bold" fill="#000" textLength="107.0" lengthAdjust="spacingAndGlyphs">Cdots</text>
<text x="779.0" y="1617.7" font-size="40.5" style="font-family:'Liberation Sans',Arial,sans-serif;font-weight:bold" fill="#000" textLength="170.0" lengthAdjust="spacingAndGlyphs">Eu-Cdots</text>
<text x="717" y="1720.4" font-size="49" style="font-family:'Liberation Sans',Arial,sans-serif" fill="#000" stroke="#000" stroke-width="0.8">I<tspan font-size="33" dy="13">D</tspan><tspan dy="-13">/I</tspan><tspan font-size="33" dy="13">G</tspan><tspan dy="-13" dx="4"> =</tspan><tspan dx="-1"> 1.9</tspan></text>
<text x="717" y="1788.7" font-size="49" style="font-family:'Liberation Sans',Arial,sans-serif" fill="#ee0000" stroke="#ee0000" stroke-width="0.8">I<tspan font-size="33" dy="13">D</tspan><tspan dy="-13">/I</tspan><tspan font-size="33" dy="13">G</tspan><tspan dy="-13" dx="4"> =</tspan><tspan dx="-1"> 1.3</tspan></text>
<g clip-path="url(#cpf)">
<path d="M1148.3,2139.5C1150.3,2139.2 1155.6,2142.4 1160.2,2138.0C1164.8,2133.6 1172.2,2123.3 1175.9,2113.2C1179.7,2103.1 1180.5,2090.8 1182.7,2077.3C1185.0,2063.8 1187.5,2042.9 1189.4,2032.4C1191.3,2021.9 1192.4,2020.4 1193.9,2014.4C1195.4,2008.4 1196.2,2005.1 1198.4,1996.5C1200.7,1987.9 1204.0,1972.9 1207.4,1962.8C1210.8,1952.7 1214.9,1944.4 1218.6,1935.8C1222.3,1927.2 1226.0,1917.5 1229.8,1911.1C1233.5,1904.7 1237.0,1901.0 1241.1,1897.6C1245.2,1894.2 1250.4,1895.0 1254.5,1890.9C1258.6,1886.8 1262.4,1882.2 1265.8,1872.9C1269.2,1863.6 1271.8,1847.5 1274.8,1834.8C1277.8,1822.1 1281.3,1804.9 1283.7,1796.6C1286.1,1788.3 1287.1,1787.6 1289.0,1785.0C1290.9,1782.4 1293.0,1781.2 1295.0,1781.0C1297.0,1780.8 1299.1,1781.8 1301.0,1784.0C1302.9,1786.2 1304.2,1786.6 1306.2,1794.3C1308.2,1802.0 1310.7,1816.1 1312.9,1830.3C1315.2,1844.5 1317.8,1867.7 1319.7,1879.7C1321.6,1891.7 1322.0,1895.4 1324.2,1902.1C1326.5,1908.8 1330.2,1910.4 1333.2,1920.1C1336.2,1929.8 1339.1,1949.3 1342.1,1960.5C1345.1,1971.7 1348.1,1978.9 1351.1,1987.5C1354.1,1996.1 1356.3,2005.8 1360.1,2012.2C1363.8,2018.6 1369.1,2020.1 1373.6,2025.7C1378.1,2031.3 1382.5,2038.4 1387.0,2045.9C1391.5,2053.4 1394.9,2062.8 1400.5,2070.6C1406.1,2078.4 1413.6,2087.0 1420.7,2093.0C1427.8,2099.0 1436.8,2102.4 1443.2,2106.5C1449.6,2110.6 1453.3,2113.9 1458.9,2117.7C1464.5,2121.4 1471.7,2126.0 1476.9,2129.0C1482.2,2132.0 1485.2,2134.4 1490.4,2135.7C1495.6,2137.0 1500.0,2137.1 1508.3,2136.8C1516.6,2136.5 1530.5,2134.9 1540.0,2134.0C1549.5,2133.1 1557.1,2133.6 1565.6,2131.5C1574.1,2129.4 1584.4,2124.7 1591.2,2121.3C1598.0,2117.9 1602.7,2115.7 1606.5,2111.0C1610.3,2106.3 1612.1,2102.5 1614.2,2093.1C1616.3,2083.7 1617.4,2065.5 1619.3,2054.8C1621.2,2044.2 1624.2,2046.2 1625.7,2029.2C1627.2,2012.2 1627.4,1976.8 1628.2,1952.5C1629.0,1928.2 1630.2,1902.6 1630.8,1883.4C1631.4,1864.2 1631.2,1850.2 1632.1,1837.4C1632.9,1824.6 1634.2,1806.3 1635.9,1806.7C1637.6,1807.1 1640.0,1834.9 1642.3,1840.0C1644.6,1845.1 1647.9,1846.4 1650.0,1837.4C1652.1,1828.4 1653.4,1806.2 1655.1,1786.2C1656.8,1766.2 1658.3,1732.5 1660.2,1717.2C1662.1,1701.9 1664.5,1680.6 1666.6,1694.2C1668.7,1707.8 1671.5,1762.3 1673.0,1799.0C1674.5,1835.7 1674.2,1882.1 1675.5,1914.1C1676.8,1946.1 1679.2,1971.8 1680.7,1990.8C1682.2,2009.8 1682.8,2030.0 1684.5,2027.9C1686.2,2025.8 1688.6,1997.0 1690.9,1978.0C1693.2,1959.0 1696.5,1939.7 1698.6,1914.1C1700.7,1888.5 1702.4,1852.3 1703.7,1824.6C1705.0,1796.9 1705.6,1769.6 1706.2,1747.9C1706.8,1726.2 1706.9,1694.2 1707.5,1694.2C1708.1,1694.2 1708.9,1721.9 1710.0,1747.9C1711.1,1773.9 1712.4,1820.4 1713.9,1850.2C1715.4,1880.0 1716.9,1907.7 1719.0,1926.9C1721.1,1946.1 1722.9,1949.1 1726.7,1965.3C1730.5,1981.5 1737.3,2014.7 1742.0,2024.1C1746.7,2033.5 1751.4,2016.4 1754.8,2021.5C1758.2,2026.6 1759.9,2040.7 1762.5,2054.8C1765.1,2068.9 1766.8,2094.8 1770.2,2105.9C1773.6,2117.0 1778.7,2117.0 1783.0,2121.3C1787.3,2125.6 1790.0,2128.9 1795.8,2131.5C1801.5,2134.1 1811.1,2140.4 1817.5,2136.6C1823.9,2132.8 1829.2,2120.4 1834.1,2108.5C1839.0,2096.6 1843.1,2074.8 1846.9,2065.0C1850.7,2055.2 1854.1,2049.3 1857.1,2049.7C1860.1,2050.1 1860.1,2071.4 1864.8,2067.6C1869.5,2063.8 1878.9,2033.4 1885.3,2026.6C1891.7,2019.8 1898.5,2024.0 1903.2,2026.6C1907.9,2029.2 1910.9,2033.9 1913.4,2042.0C1915.9,2050.1 1917.2,2069.7 1918.0,2075.2" fill="none" stroke="#000" stroke-width="2.7" stroke-linejoin="round"/>
<path d="M1160.0,2139.5C1160.8,2139.2 1162.0,2139.8 1164.7,2138.0C1167.4,2136.2 1172.5,2134.6 1175.9,2129.0C1179.3,2123.4 1181.5,2115.9 1184.9,2104.3C1188.3,2092.7 1192.3,2074.4 1196.1,2059.4C1199.8,2044.4 1203.7,2027.5 1207.4,2014.4C1211.2,2001.3 1214.9,1991.2 1218.6,1980.7C1222.3,1970.2 1226.4,1959.0 1229.8,1951.5C1233.2,1944.0 1235.4,1939.3 1238.8,1935.8C1242.2,1932.2 1246.2,1930.2 1250.0,1930.2C1253.8,1930.2 1257.2,1933.7 1261.3,1935.8C1265.4,1937.9 1270.7,1940.0 1274.8,1942.6C1278.9,1945.2 1282.3,1947.0 1286.0,1951.5C1289.7,1956.0 1293.1,1961.6 1297.2,1969.5C1301.3,1977.4 1306.2,1988.6 1310.7,1998.7C1315.2,2008.8 1319.7,2021.5 1324.2,2030.1C1328.7,2038.7 1333.1,2044.0 1337.6,2050.4C1342.1,2056.8 1347.0,2062.0 1351.1,2068.3C1355.2,2074.7 1357.8,2082.5 1362.3,2088.5C1366.8,2094.5 1372.5,2098.7 1378.1,2104.3C1383.7,2109.9 1390.8,2117.7 1396.0,2122.2C1401.2,2126.7 1405.0,2128.5 1409.5,2131.2C1414.0,2133.9 1411.9,2137.3 1423.0,2138.5C1434.1,2139.7 1463.2,2138.8 1476.0,2138.5C1488.8,2138.2 1489.3,2136.8 1500.0,2136.5C1510.7,2136.2 1525.7,2137.0 1540.0,2137.0C1554.3,2137.0 1573.2,2137.9 1586.0,2136.6C1598.8,2135.3 1609.5,2132.8 1616.7,2129.0C1624.0,2125.2 1626.1,2121.7 1629.5,2113.6C1632.9,2105.5 1635.1,2096.6 1637.2,2080.4C1639.3,2064.2 1640.6,2037.7 1642.3,2016.4C1644.0,1995.1 1645.7,1975.9 1647.4,1952.5C1649.1,1929.1 1650.8,1901.4 1652.5,1875.8C1654.2,1850.2 1655.9,1828.8 1657.6,1799.0C1659.3,1769.2 1661.1,1721.0 1662.8,1696.7C1664.5,1672.4 1666.2,1653.2 1667.9,1653.2C1669.6,1653.2 1671.3,1668.1 1673.0,1696.7C1674.7,1725.3 1676.4,1788.4 1678.1,1824.6C1679.8,1860.8 1681.1,1889.8 1683.2,1914.1C1685.3,1938.4 1688.8,1972.5 1690.9,1970.4C1693.0,1968.3 1693.9,1923.5 1696.0,1901.3C1698.1,1879.1 1701.9,1851.9 1703.7,1837.4C1705.5,1822.9 1705.5,1814.4 1706.8,1814.4C1708.1,1814.4 1709.8,1814.4 1711.4,1837.4C1713.0,1860.4 1714.4,1916.3 1716.5,1952.5C1718.6,1988.7 1722.0,2033.9 1724.1,2054.8C1726.2,2075.7 1727.2,2075.2 1729.3,2077.8C1731.4,2080.4 1734.8,2072.2 1736.9,2070.1C1739.0,2068.0 1740.3,2061.2 1742.0,2065.0C1743.7,2068.8 1743.8,2082.7 1747.2,2093.1C1750.6,2103.5 1758.2,2125.6 1762.5,2127.7C1766.8,2129.8 1769.7,2110.4 1772.7,2105.9C1775.7,2101.4 1776.6,2096.1 1780.4,2100.8C1784.2,2105.5 1792.0,2128.9 1795.8,2134.0C1799.6,2139.1 1800.9,2134.9 1803.4,2131.5C1806.0,2128.1 1808.1,2122.1 1811.1,2113.6C1814.1,2105.1 1818.3,2084.7 1821.3,2080.4C1824.3,2076.1 1826.4,2096.5 1829.0,2088.0C1831.6,2079.5 1834.2,2033.9 1836.7,2029.2C1839.2,2024.5 1841.3,2056.5 1844.3,2059.9C1847.3,2063.3 1851.6,2054.8 1854.6,2049.7C1857.6,2044.6 1859.8,2034.3 1862.3,2029.2C1864.8,2024.1 1867.8,2026.7 1869.9,2019.0C1872.0,2011.3 1873.3,1986.6 1875.0,1983.2C1876.7,1979.8 1878.3,1996.8 1880.2,1998.5C1882.1,2000.2 1884.2,1989.1 1886.5,1993.4C1888.8,1997.7 1891.4,2019.0 1894.2,2024.1C1897.0,2029.2 1900.4,2022.0 1903.2,2024.1C1906.0,2026.2 1908.3,2027.1 1910.8,2036.9C1913.3,2046.7 1916.8,2075.2 1918.0,2082.9" fill="none" stroke="#ff3030" stroke-width="2.7" stroke-linejoin="round"/>
</g>
<rect x="1148.3" y="1520.3" width="770.0" height="620.0000000000002" fill="none" stroke="#000" stroke-width="3.4"/>
<path d="M1136.3,2140.0H1148.3M1136.3,1933.4H1148.3M1136.3,1726.8H1148.3M1136.3,1520.2H1148.3M1142.3,2036.7H1148.3M1142.3,1830.1H1148.3M1142.3,1623.5H1148.3" stroke="#000" stroke-width="3.2" fill="none"/>
<path d="M1918.2,2140.3V2152.3M1801.5,2140.3V2152.3M1684.9,2140.3V2152.3M1568.2,2140.3V2152.3M1451.6,2140.3V2152.3M1335.0,2140.3V2152.3M1218.3,2140.3V2152.3M1859.9,2140.3V2146.3M1743.2,2140.3V2146.3M1626.6,2140.3V2146.3M1509.9,2140.3V2146.3M1393.3,2140.3V2146.3M1276.6,2140.3V2146.3M1160.0,2140.3V2146.3" stroke="#000" stroke-width="3.2" fill="none"/>
<text x="1126.3" y="2150.1" font-size="44.0" style="font-family:'Liberation Sans',Arial,sans-serif;font-weight:bold" fill="#000" text-anchor="end" textLength="59.0" lengthAdjust="spacingAndGlyphs">0.0</text>
<text x="1126.3" y="1943.5" font-size="44.0" style="font-family:'Liberation Sans',Arial,sans-serif;font-weight:bold" fill="#000" text-anchor="end" textLength="59.0" lengthAdjust="spacingAndGlyphs">0.2</text>
<text x="1126.3" y="1736.9" font-size="44.0" style="font-family:'Liberation Sans',Arial,sans-serif;font-weight:bold" fill="#000" text-anchor="end" textLength="59.0" lengthAdjust="spacingAndGlyphs">0.4</text>
<text x="1126.3" y="1530.3" font-size="44.0" style="font-family:'Liberation Sans',Arial,sans-serif;font-weight:bold" fill="#000" text-anchor="end" textLength="59.0" lengthAdjust="spacingAndGlyphs">0.6</text>
<text x="1918.2" y="2192.0" font-size="38.0" style="font-family:'Liberation Sans',Arial,sans-serif;font-weight:bold" fill="#000" text-anchor="middle" textLength="68.2" lengthAdjust="spacingAndGlyphs">500</text>
<text x="1801.5" y="2192.0" font-size="38.0" style="font-family:'Liberation Sans',Arial,sans-serif;font-weight:bold" fill="#000" text-anchor="middle" textLength="91.0" lengthAdjust="spacingAndGlyphs">1000</text>
<text x="1684.9" y="2192.0" font-size="38.0" style="font-family:'Liberation Sans',Arial,sans-serif;font-weight:bold" fill="#000" text-anchor="middle" textLength="91.0" lengthAdjust="spacingAndGlyphs">1500</text>
<text x="1568.2" y="2192.0" font-size="38.0" style="font-family:'Liberation Sans',Arial,sans-serif;font-weight:bold" fill="#000" text-anchor="middle" textLength="91.0" lengthAdjust="spacingAndGlyphs">2000</text>
<text x="1451.6" y="2192.0" font-size="38.0" style="font-family:'Liberation Sans',Arial,sans-serif;font-weight:bold" fill="#000" text-anchor="middle" textLength="91.0" lengthAdjust="spacingAndGlyphs">2500</text>
<text x="1335.0" y="2192.0" font-size="38.0" style="font-family:'Liberation Sans',Arial,sans-serif;font-weight:bold" fill="#000" text-anchor="middle" textLength="91.0" lengthAdjust="spacingAndGlyphs">3000</text>
<text x="1218.3" y="2192.0" font-size="38.0" style="font-family:'Liberation Sans',Arial,sans-serif;font-weight:bold" fill="#000" text-anchor="middle" textLength="91.0" lengthAdjust="spacingAndGlyphs">3500</text>
<text transform="translate(1032.0,1805.8) rotate(-90)" x="0" y="0" font-size="46.0" style="font-family:'Liberation Sans',Arial,sans-serif;font-weight:bold" fill="#000" text-anchor="middle" textLength="214.0" lengthAdjust="spacingAndGlyphs">Absorbance</text>
<text x="1349" y="2261.5" font-size="41" style="font-family:'Liberation Sans',Arial,sans-serif;font-weight:bold" textLength="365" lengthAdjust="spacingAndGlyphs">Wavenumber (cm<tspan font-size="24" dy="-17">-1</tspan><tspan dy="17">)</tspan></text>
<text x="1166.0" y="1612.1" font-size="68.0" style="font-family:'Liberation Sans',Arial,sans-serif" fill="#000" stroke="#000" stroke-width="1.2">f</text>
<text x="1201.0" y="1612.1" font-size="68.0" style="font-family:'Liberation Sans',Arial,sans-serif" fill="#000" stroke="#000" stroke-width="1.2">)</text>
<path d="M1638.3,1548.1H1732.3" stroke="#000" stroke-width="3.4"/>
<path d="M1638.3,1597.9H1732.3" stroke="#ff3030" stroke-width="3.4"/>
<text x="1742.0" y="1559.6" font-size="40.5" style="font-family:'Liberation Sans',Arial,sans-serif;font-weight:bold" fill="#000" textLength="107.0" lengthAdjust="spacingAndGlyphs">Cdots</text>
<text x="1743.0" y="1609.6" font-size="40.5" style="font-family:'Liberation Sans',Arial,sans-serif;font-weight:bold" fill="#000" textLength="170.0" lengthAdjust="spacingAndGlyphs">Eu-Cdots</text>
<text transform="translate(1234.6,1818.5) rotate(-90)" x="0" y="0" font-size="47.0" style="font-family:'Liberation Sans',Arial,sans-serif;font-weight:bold" fill="#000" text-anchor="middle" textLength="92.5" lengthAdjust="spacingAndGlyphs">3400</text>
<text transform="translate(1354.4,1723.5) rotate(-90)" x="0" y="0" font-size="47.0" style="font-family:'Liberation Sans',Arial,sans-serif;font-weight:bold" fill="#000" text-anchor="middle" textLength="94.4" lengthAdjust="spacingAndGlyphs">3170</text>
<text transform="translate(1595.0,1825.9) rotate(-90)" x="0" y="0" font-size="47.0" style="font-family:'Liberation Sans',Arial,sans-serif;font-weight:bold" fill="#000" text-anchor="middle" textLength="91.0" lengthAdjust="spacingAndGlyphs">1710</text>
<text transform="translate(1634.6,1701.8) rotate(-90)" x="0" y="0" font-size="47.0" style="font-family:'Liberation Sans',Arial,sans-serif;font-weight:bold" fill="#000" text-anchor="middle" textLength="90.9" lengthAdjust="spacingAndGlyphs">1578</text>
<text transform="translate(1776.6,1751.7) rotate(-90)" x="0" y="0" font-size="47.0" style="font-family:'Liberation Sans',Arial,sans-serif;font-weight:bold" fill="#000" text-anchor="middle" textLength="91.0" lengthAdjust="spacingAndGlyphs">1400</text>
<text transform="translate(1785.0,1936.5) rotate(-90)" x="0" y="0" font-size="47.0" style="font-family:'Liberation Sans',Arial,sans-serif;font-weight:bold" fill="#000" text-anchor="middle" textLength="89.6" lengthAdjust="spacingAndGlyphs">1206</text>
<text transform="translate(1850.7,1973.0) rotate(-90)" x="0" y="0" font-size="47.0" style="font-family:'Liberation Sans',Arial,sans-serif;font-weight:bold" fill="#000" text-anchor="middle" textLength="70.5" lengthAdjust="spacingAndGlyphs">850</text>
<text transform="translate(1907.0,1896.8) rotate(-90)" x="0" y="0" font-size="47.0" style="font-family:'Liberation Sans',Arial,sans-serif;font-weight:bold" fill="#000" text-anchor="middle" textLength="71.7" lengthAdjust="spacingAndGlyphs">680</text></svg></body></html>
